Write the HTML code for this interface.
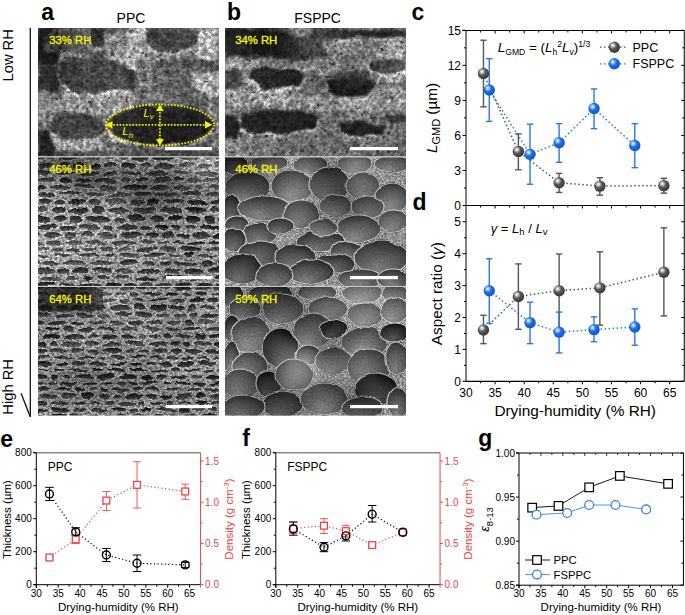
<!DOCTYPE html>
<html><head><meta charset="utf-8"><style>
html,body{margin:0;padding:0;background:#fff;width:685px;height:615px;overflow:hidden}
svg{display:block}
text{font-family:"Liberation Sans", sans-serif}
</style></head><body>
<svg width="685" height="615" viewBox="0 0 685 615">
<defs>
<filter id="txa1" x="0" y="0" width="1" height="1" color-interpolation-filters="sRGB"><feTurbulence type="fractalNoise" baseFrequency="0.05" numOctaves="2" seed="103" result="dn"/>
<feDisplacementMap in="SourceGraphic" in2="dn" scale="10" xChannelSelector="R" yChannelSelector="G" result="dd"/>
<feGaussianBlur in="dd" stdDeviation="0.5" result="b"/>
<feTurbulence type="fractalNoise" baseFrequency="0.3" numOctaves="4" seed="3" result="n"/>
<feColorMatrix in="n" type="matrix" values="1 0 0 0 0 1 0 0 0 0 1 0 0 0 0 0 0 0 0 1" result="ng"/>
<feComponentTransfer in="ng" result="nc"><feFuncR type="table" tableValues="0.2 0.36 0.5 0.64 0.8"/><feFuncG type="table" tableValues="0.2 0.36 0.5 0.64 0.8"/><feFuncB type="table" tableValues="0.2 0.36 0.5 0.64 0.8"/></feComponentTransfer>
<feComposite in="b" in2="nc" operator="arithmetic" k1="2.0" k2="0" k3="0" k4="0" result="m"/>
<feTurbulence type="fractalNoise" baseFrequency="0.7" numOctaves="1" seed="53" result="s"/>
<feColorMatrix in="s" type="matrix" values="1 0 0 0 0 1 0 0 0 0 1 0 0 0 0 0 0 0 0 1" result="sg"/>
<feComponentTransfer in="sg" result="sc"><feFuncR type="table" tableValues="0.3 0.75 1 1 1 1 1"/><feFuncG type="table" tableValues="0.3 0.75 1 1 1 1 1"/><feFuncB type="table" tableValues="0.3 0.75 1 1 1 1 1"/></feComponentTransfer>
<feComposite in="m" in2="sc" operator="arithmetic" k1="1" k2="0" k3="0" k4="0" result="m2"/>
<feTurbulence type="turbulence" baseFrequency="0.1" numOctaves="3" seed="203" result="l"/>
<feColorMatrix in="l" type="matrix" values="1 0 0 0 0 1 0 0 0 0 1 0 0 0 0 0 0 0 0 1" result="lg"/>
<feComponentTransfer in="lg" result="lc"><feFuncR type="table" tableValues="1 0.85 0.7 0.6 0.55 0.5"/><feFuncG type="table" tableValues="1 0.85 0.7 0.6 0.55 0.5"/><feFuncB type="table" tableValues="1 0.85 0.7 0.6 0.55 0.5"/></feComponentTransfer>
<feComposite in="m2" in2="lc" operator="arithmetic" k1="1.45" k2="0" k3="0" k4="0"/>
</filter>
<filter id="txa2" x="0" y="0" width="1" height="1" color-interpolation-filters="sRGB"><feTurbulence type="fractalNoise" baseFrequency="0.12" numOctaves="2" seed="105" result="dn"/>
<feDisplacementMap in="SourceGraphic" in2="dn" scale="4" xChannelSelector="R" yChannelSelector="G" result="dd"/>
<feGaussianBlur in="dd" stdDeviation="0.4" result="b"/>
<feTurbulence type="fractalNoise" baseFrequency="0.4" numOctaves="3" seed="5" result="n"/>
<feColorMatrix in="n" type="matrix" values="1 0 0 0 0 1 0 0 0 0 1 0 0 0 0 0 0 0 0 1" result="ng"/>
<feComponentTransfer in="ng" result="nc"><feFuncR type="table" tableValues="0.15 0.32 0.5 0.68 0.85"/><feFuncG type="table" tableValues="0.15 0.32 0.5 0.68 0.85"/><feFuncB type="table" tableValues="0.15 0.32 0.5 0.68 0.85"/></feComponentTransfer>
<feComposite in="b" in2="nc" operator="arithmetic" k1="2.0" k2="0" k3="0" k4="0" result="m"/>
<feTurbulence type="fractalNoise" baseFrequency="0.8" numOctaves="1" seed="55" result="s"/>
<feColorMatrix in="s" type="matrix" values="1 0 0 0 0 1 0 0 0 0 1 0 0 0 0 0 0 0 0 1" result="sg"/>
<feComponentTransfer in="sg" result="sc"><feFuncR type="table" tableValues="0.2 0.6 0.95 1 1 1 1"/><feFuncG type="table" tableValues="0.2 0.6 0.95 1 1 1 1"/><feFuncB type="table" tableValues="0.2 0.6 0.95 1 1 1 1"/></feComponentTransfer>
<feComposite in="m" in2="sc" operator="arithmetic" k1="1" k2="0" k3="0" k4="0" result="m2"/>
</filter>
<filter id="txa3" x="0" y="0" width="1" height="1" color-interpolation-filters="sRGB"><feTurbulence type="fractalNoise" baseFrequency="0.12" numOctaves="2" seed="107" result="dn"/>
<feDisplacementMap in="SourceGraphic" in2="dn" scale="4" xChannelSelector="R" yChannelSelector="G" result="dd"/>
<feGaussianBlur in="dd" stdDeviation="0.4" result="b"/>
<feTurbulence type="fractalNoise" baseFrequency="0.4" numOctaves="3" seed="7" result="n"/>
<feColorMatrix in="n" type="matrix" values="1 0 0 0 0 1 0 0 0 0 1 0 0 0 0 0 0 0 0 1" result="ng"/>
<feComponentTransfer in="ng" result="nc"><feFuncR type="table" tableValues="0.15 0.32 0.5 0.68 0.85"/><feFuncG type="table" tableValues="0.15 0.32 0.5 0.68 0.85"/><feFuncB type="table" tableValues="0.15 0.32 0.5 0.68 0.85"/></feComponentTransfer>
<feComposite in="b" in2="nc" operator="arithmetic" k1="2.0" k2="0" k3="0" k4="0" result="m"/>
<feTurbulence type="fractalNoise" baseFrequency="0.8" numOctaves="1" seed="57" result="s"/>
<feColorMatrix in="s" type="matrix" values="1 0 0 0 0 1 0 0 0 0 1 0 0 0 0 0 0 0 0 1" result="sg"/>
<feComponentTransfer in="sg" result="sc"><feFuncR type="table" tableValues="0.2 0.6 0.95 1 1 1 1"/><feFuncG type="table" tableValues="0.2 0.6 0.95 1 1 1 1"/><feFuncB type="table" tableValues="0.2 0.6 0.95 1 1 1 1"/></feComponentTransfer>
<feComposite in="m" in2="sc" operator="arithmetic" k1="1" k2="0" k3="0" k4="0" result="m2"/>
</filter>
<filter id="txb1" x="0" y="0" width="1" height="1" color-interpolation-filters="sRGB"><feTurbulence type="fractalNoise" baseFrequency="0.05" numOctaves="2" seed="109" result="dn"/>
<feDisplacementMap in="SourceGraphic" in2="dn" scale="10" xChannelSelector="R" yChannelSelector="G" result="dd"/>
<feGaussianBlur in="dd" stdDeviation="0.5" result="b"/>
<feTurbulence type="fractalNoise" baseFrequency="0.3" numOctaves="4" seed="9" result="n"/>
<feColorMatrix in="n" type="matrix" values="1 0 0 0 0 1 0 0 0 0 1 0 0 0 0 0 0 0 0 1" result="ng"/>
<feComponentTransfer in="ng" result="nc"><feFuncR type="table" tableValues="0.2 0.36 0.5 0.64 0.8"/><feFuncG type="table" tableValues="0.2 0.36 0.5 0.64 0.8"/><feFuncB type="table" tableValues="0.2 0.36 0.5 0.64 0.8"/></feComponentTransfer>
<feComposite in="b" in2="nc" operator="arithmetic" k1="2.0" k2="0" k3="0" k4="0" result="m"/>
<feTurbulence type="fractalNoise" baseFrequency="0.7" numOctaves="1" seed="59" result="s"/>
<feColorMatrix in="s" type="matrix" values="1 0 0 0 0 1 0 0 0 0 1 0 0 0 0 0 0 0 0 1" result="sg"/>
<feComponentTransfer in="sg" result="sc"><feFuncR type="table" tableValues="0.3 0.75 1 1 1 1 1"/><feFuncG type="table" tableValues="0.3 0.75 1 1 1 1 1"/><feFuncB type="table" tableValues="0.3 0.75 1 1 1 1 1"/></feComponentTransfer>
<feComposite in="m" in2="sc" operator="arithmetic" k1="1" k2="0" k3="0" k4="0" result="m2"/>
<feTurbulence type="turbulence" baseFrequency="0.1" numOctaves="3" seed="209" result="l"/>
<feColorMatrix in="l" type="matrix" values="1 0 0 0 0 1 0 0 0 0 1 0 0 0 0 0 0 0 0 1" result="lg"/>
<feComponentTransfer in="lg" result="lc"><feFuncR type="table" tableValues="1 0.85 0.7 0.6 0.55 0.5"/><feFuncG type="table" tableValues="1 0.85 0.7 0.6 0.55 0.5"/><feFuncB type="table" tableValues="1 0.85 0.7 0.6 0.55 0.5"/></feComponentTransfer>
<feComposite in="m2" in2="lc" operator="arithmetic" k1="1.45" k2="0" k3="0" k4="0"/>
</filter>
<filter id="txb2" x="0" y="0" width="1" height="1" color-interpolation-filters="sRGB">
<feGaussianBlur in="SourceGraphic" stdDeviation="0.6" result="b"/>
<feTurbulence type="fractalNoise" baseFrequency="0.45" numOctaves="2" seed="13" result="n"/>
<feColorMatrix in="n" type="matrix" values="1 0 0 0 0 1 0 0 0 0 1 0 0 0 0 0 0 0 0 1" result="ng"/>
<feComponentTransfer in="ng" result="nc"><feFuncR type="table" tableValues="0.2 0.35 0.5 0.65 0.8"/><feFuncG type="table" tableValues="0.2 0.35 0.5 0.65 0.8"/><feFuncB type="table" tableValues="0.2 0.35 0.5 0.65 0.8"/></feComponentTransfer>
<feComposite in="b" in2="nc" operator="arithmetic" k1="2.0" k2="0" k3="0" k4="0" result="m"/>
<feTurbulence type="fractalNoise" baseFrequency="0.8" numOctaves="1" seed="63" result="s"/>
<feColorMatrix in="s" type="matrix" values="1 0 0 0 0 1 0 0 0 0 1 0 0 0 0 0 0 0 0 1" result="sg"/>
<feComponentTransfer in="sg" result="sc"><feFuncR type="table" tableValues="0.1 0.45 0.85 1 1 1 1"/><feFuncG type="table" tableValues="0.1 0.45 0.85 1 1 1 1"/><feFuncB type="table" tableValues="0.1 0.45 0.85 1 1 1 1"/></feComponentTransfer>
<feComposite in="m" in2="sc" operator="arithmetic" k1="1" k2="0" k3="0" k4="0" result="m2"/>
</filter>
<filter id="txcb2" x="0" y="0" width="1" height="1" color-interpolation-filters="sRGB"><feTurbulence type="fractalNoise" baseFrequency="0.06" numOctaves="2" seed="121" result="dn"/>
<feDisplacementMap in="SourceGraphic" in2="dn" scale="4" xChannelSelector="R" yChannelSelector="G" result="dd"/>
<feGaussianBlur in="dd" stdDeviation="0.3" result="b"/>
<feTurbulence type="fractalNoise" baseFrequency="0.5" numOctaves="2" seed="21" result="n"/>
<feColorMatrix in="n" type="matrix" values="1 0 0 0 0 1 0 0 0 0 1 0 0 0 0 0 0 0 0 1" result="ng"/>
<feComponentTransfer in="ng" result="nc"><feFuncR type="table" tableValues="0.38 0.45 0.5 0.55 0.62"/><feFuncG type="table" tableValues="0.38 0.45 0.5 0.55 0.62"/><feFuncB type="table" tableValues="0.38 0.45 0.5 0.55 0.62"/></feComponentTransfer>
<feComposite in="b" in2="nc" operator="arithmetic" k1="2.0" k2="0" k3="0" k4="0" result="m"/>
<feTurbulence type="fractalNoise" baseFrequency="0.9" numOctaves="1" seed="71" result="s"/>
<feColorMatrix in="s" type="matrix" values="1 0 0 0 0 1 0 0 0 0 1 0 0 0 0 0 0 0 0 1" result="sg"/>
<feComponentTransfer in="sg" result="sc"><feFuncR type="table" tableValues="0.3 0.8 1 1 1 1 1 1"/><feFuncG type="table" tableValues="0.3 0.8 1 1 1 1 1 1"/><feFuncB type="table" tableValues="0.3 0.8 1 1 1 1 1 1"/></feComponentTransfer>
<feComposite in="m" in2="sc" operator="arithmetic" k1="1" k2="0" k3="0" k4="0" result="m2"/>
</filter>
<filter id="txcb3" x="0" y="0" width="1" height="1" color-interpolation-filters="sRGB"><feTurbulence type="fractalNoise" baseFrequency="0.06" numOctaves="2" seed="123" result="dn"/>
<feDisplacementMap in="SourceGraphic" in2="dn" scale="4" xChannelSelector="R" yChannelSelector="G" result="dd"/>
<feGaussianBlur in="dd" stdDeviation="0.3" result="b"/>
<feTurbulence type="fractalNoise" baseFrequency="0.5" numOctaves="2" seed="23" result="n"/>
<feColorMatrix in="n" type="matrix" values="1 0 0 0 0 1 0 0 0 0 1 0 0 0 0 0 0 0 0 1" result="ng"/>
<feComponentTransfer in="ng" result="nc"><feFuncR type="table" tableValues="0.38 0.45 0.5 0.55 0.62"/><feFuncG type="table" tableValues="0.38 0.45 0.5 0.55 0.62"/><feFuncB type="table" tableValues="0.38 0.45 0.5 0.55 0.62"/></feComponentTransfer>
<feComposite in="b" in2="nc" operator="arithmetic" k1="2.0" k2="0" k3="0" k4="0" result="m"/>
<feTurbulence type="fractalNoise" baseFrequency="0.9" numOctaves="1" seed="73" result="s"/>
<feColorMatrix in="s" type="matrix" values="1 0 0 0 0 1 0 0 0 0 1 0 0 0 0 0 0 0 0 1" result="sg"/>
<feComponentTransfer in="sg" result="sc"><feFuncR type="table" tableValues="0.3 0.8 1 1 1 1 1 1"/><feFuncG type="table" tableValues="0.3 0.8 1 1 1 1 1 1"/><feFuncB type="table" tableValues="0.3 0.8 1 1 1 1 1 1"/></feComponentTransfer>
<feComposite in="m" in2="sc" operator="arithmetic" k1="1" k2="0" k3="0" k4="0" result="m2"/>
</filter>
<filter id="txb3" x="0" y="0" width="1" height="1" color-interpolation-filters="sRGB">
<feGaussianBlur in="SourceGraphic" stdDeviation="0.6" result="b"/>
<feTurbulence type="fractalNoise" baseFrequency="0.45" numOctaves="2" seed="17" result="n"/>
<feColorMatrix in="n" type="matrix" values="1 0 0 0 0 1 0 0 0 0 1 0 0 0 0 0 0 0 0 1" result="ng"/>
<feComponentTransfer in="ng" result="nc"><feFuncR type="table" tableValues="0.2 0.35 0.5 0.65 0.8"/><feFuncG type="table" tableValues="0.2 0.35 0.5 0.65 0.8"/><feFuncB type="table" tableValues="0.2 0.35 0.5 0.65 0.8"/></feComponentTransfer>
<feComposite in="b" in2="nc" operator="arithmetic" k1="2.0" k2="0" k3="0" k4="0" result="m"/>
<feTurbulence type="fractalNoise" baseFrequency="0.8" numOctaves="1" seed="67" result="s"/>
<feColorMatrix in="s" type="matrix" values="1 0 0 0 0 1 0 0 0 0 1 0 0 0 0 0 0 0 0 1" result="sg"/>
<feComponentTransfer in="sg" result="sc"><feFuncR type="table" tableValues="0.1 0.45 0.85 1 1 1 1"/><feFuncG type="table" tableValues="0.1 0.45 0.85 1 1 1 1"/><feFuncB type="table" tableValues="0.1 0.45 0.85 1 1 1 1"/></feComponentTransfer>
<feComposite in="m" in2="sc" operator="arithmetic" k1="1" k2="0" k3="0" k4="0" result="m2"/>
</filter>
<filter id="bl1" x="-50%" y="-50%" width="200%" height="200%"><feGaussianBlur stdDeviation="0.8"/></filter>
<filter id="bl2" x="-50%" y="-50%" width="200%" height="200%"><feGaussianBlur stdDeviation="1.6"/></filter>
<filter id="bl3" x="-50%" y="-50%" width="200%" height="200%"><feGaussianBlur stdDeviation="3.0"/></filter>
<filter id="bl4" x="-50%" y="-50%" width="200%" height="200%"><feGaussianBlur stdDeviation="9.0"/></filter>
<filter id="bl6" x="-50%" y="-50%" width="200%" height="200%"><feGaussianBlur stdDeviation="6"/></filter>
<radialGradient id="cg30" cx="0.45" cy="0.7" r="0.75" fx="0.4" fy="0.85"><stop offset="0" stop-color="#555555"/><stop offset="0.6" stop-color="#232323"/><stop offset="1" stop-color="#000000"/></radialGradient>
<linearGradient id="ag30" x1="0" y1="0" x2="0" y2="1"><stop offset="0" stop-color="#000000"/><stop offset="0.55" stop-color="#1e1e1e"/><stop offset="1" stop-color="#4b4b4b"/></linearGradient>
<radialGradient id="cg40" cx="0.45" cy="0.7" r="0.75" fx="0.4" fy="0.85"><stop offset="0" stop-color="#5f5f5f"/><stop offset="0.6" stop-color="#2d2d2d"/><stop offset="1" stop-color="#000000"/></radialGradient>
<linearGradient id="ag40" x1="0" y1="0" x2="0" y2="1"><stop offset="0" stop-color="#050505"/><stop offset="0.55" stop-color="#282828"/><stop offset="1" stop-color="#555555"/></linearGradient>
<radialGradient id="cg50" cx="0.45" cy="0.7" r="0.75" fx="0.4" fy="0.85"><stop offset="0" stop-color="#696969"/><stop offset="0.6" stop-color="#373737"/><stop offset="1" stop-color="#0a0a0a"/></radialGradient>
<linearGradient id="ag50" x1="0" y1="0" x2="0" y2="1"><stop offset="0" stop-color="#0f0f0f"/><stop offset="0.55" stop-color="#323232"/><stop offset="1" stop-color="#5f5f5f"/></linearGradient>
<radialGradient id="cg60" cx="0.45" cy="0.7" r="0.75" fx="0.4" fy="0.85"><stop offset="0" stop-color="#737373"/><stop offset="0.6" stop-color="#414141"/><stop offset="1" stop-color="#141414"/></radialGradient>
<linearGradient id="ag60" x1="0" y1="0" x2="0" y2="1"><stop offset="0" stop-color="#191919"/><stop offset="0.55" stop-color="#3c3c3c"/><stop offset="1" stop-color="#696969"/></linearGradient>
<radialGradient id="cg70" cx="0.45" cy="0.7" r="0.75" fx="0.4" fy="0.85"><stop offset="0" stop-color="#7d7d7d"/><stop offset="0.6" stop-color="#4b4b4b"/><stop offset="1" stop-color="#1e1e1e"/></radialGradient>
<linearGradient id="ag70" x1="0" y1="0" x2="0" y2="1"><stop offset="0" stop-color="#232323"/><stop offset="0.55" stop-color="#464646"/><stop offset="1" stop-color="#737373"/></linearGradient>
<radialGradient id="cg80" cx="0.45" cy="0.7" r="0.75" fx="0.4" fy="0.85"><stop offset="0" stop-color="#878787"/><stop offset="0.6" stop-color="#555555"/><stop offset="1" stop-color="#282828"/></radialGradient>
<linearGradient id="ag80" x1="0" y1="0" x2="0" y2="1"><stop offset="0" stop-color="#2d2d2d"/><stop offset="0.55" stop-color="#505050"/><stop offset="1" stop-color="#7d7d7d"/></linearGradient>
<radialGradient id="cg90" cx="0.45" cy="0.7" r="0.75" fx="0.4" fy="0.85"><stop offset="0" stop-color="#919191"/><stop offset="0.6" stop-color="#5f5f5f"/><stop offset="1" stop-color="#323232"/></radialGradient>
<linearGradient id="ag90" x1="0" y1="0" x2="0" y2="1"><stop offset="0" stop-color="#373737"/><stop offset="0.55" stop-color="#5a5a5a"/><stop offset="1" stop-color="#878787"/></linearGradient>
<radialGradient id="cg100" cx="0.45" cy="0.7" r="0.75" fx="0.4" fy="0.85"><stop offset="0" stop-color="#9b9b9b"/><stop offset="0.6" stop-color="#696969"/><stop offset="1" stop-color="#3c3c3c"/></radialGradient>
<linearGradient id="ag100" x1="0" y1="0" x2="0" y2="1"><stop offset="0" stop-color="#414141"/><stop offset="0.55" stop-color="#646464"/><stop offset="1" stop-color="#919191"/></linearGradient>
<radialGradient id="cg110" cx="0.45" cy="0.7" r="0.75" fx="0.4" fy="0.85"><stop offset="0" stop-color="#a5a5a5"/><stop offset="0.6" stop-color="#737373"/><stop offset="1" stop-color="#464646"/></radialGradient>
<linearGradient id="ag110" x1="0" y1="0" x2="0" y2="1"><stop offset="0" stop-color="#4b4b4b"/><stop offset="0.55" stop-color="#6e6e6e"/><stop offset="1" stop-color="#9b9b9b"/></linearGradient>
<radialGradient id="cg120" cx="0.45" cy="0.7" r="0.75" fx="0.4" fy="0.85"><stop offset="0" stop-color="#afafaf"/><stop offset="0.6" stop-color="#7d7d7d"/><stop offset="1" stop-color="#505050"/></radialGradient>
<linearGradient id="ag120" x1="0" y1="0" x2="0" y2="1"><stop offset="0" stop-color="#555555"/><stop offset="0.55" stop-color="#787878"/><stop offset="1" stop-color="#a5a5a5"/></linearGradient>
<radialGradient id="cg130" cx="0.45" cy="0.7" r="0.75" fx="0.4" fy="0.85"><stop offset="0" stop-color="#b9b9b9"/><stop offset="0.6" stop-color="#878787"/><stop offset="1" stop-color="#5a5a5a"/></radialGradient>
<linearGradient id="ag130" x1="0" y1="0" x2="0" y2="1"><stop offset="0" stop-color="#5f5f5f"/><stop offset="0.55" stop-color="#828282"/><stop offset="1" stop-color="#afafaf"/></linearGradient>
<radialGradient id="cg140" cx="0.45" cy="0.7" r="0.75" fx="0.4" fy="0.85"><stop offset="0" stop-color="#c3c3c3"/><stop offset="0.6" stop-color="#919191"/><stop offset="1" stop-color="#646464"/></radialGradient>
<linearGradient id="ag140" x1="0" y1="0" x2="0" y2="1"><stop offset="0" stop-color="#696969"/><stop offset="0.55" stop-color="#8c8c8c"/><stop offset="1" stop-color="#b9b9b9"/></linearGradient>
<radialGradient id="cg150" cx="0.45" cy="0.7" r="0.75" fx="0.4" fy="0.85"><stop offset="0" stop-color="#cdcdcd"/><stop offset="0.6" stop-color="#9b9b9b"/><stop offset="1" stop-color="#6e6e6e"/></radialGradient>
<linearGradient id="ag150" x1="0" y1="0" x2="0" y2="1"><stop offset="0" stop-color="#737373"/><stop offset="0.55" stop-color="#969696"/><stop offset="1" stop-color="#c3c3c3"/></linearGradient>
<clipPath id="cpa1"><rect x="38" y="28" width="181" height="128.5"/></clipPath>
<clipPath id="cpa2"><rect x="38" y="157" width="181" height="129"/></clipPath>
<clipPath id="cpa3"><rect x="38" y="286.5" width="181" height="129"/></clipPath>
<clipPath id="cpb1"><rect x="225" y="28" width="181" height="128.5"/></clipPath>
<clipPath id="cpb2"><rect x="225" y="157" width="181" height="129"/></clipPath>
<clipPath id="cpb3"><rect x="225" y="286.5" width="181" height="129"/></clipPath>
</defs>
<g clip-path="url(#cpa1)"><g filter="url(#txa1)">
<rect x="28.0" y="18.0" width="201.0" height="149.0" fill="#696969"/>
<polygon points="128.0,28.0 147.0,28.0 148.0,44.0 160.0,51.0 188.0,52.0 192.0,58.0 165.0,60.0 150.0,62.0 140.0,72.0 128.0,68.0 104.0,67.0 104.0,38.0 118.0,30.0" fill="#acacac" filter="url(#bl1)"/>
<polygon points="192.0,28.0 219.0,28.0 219.0,58.0 200.0,60.0 192.0,52.0 197.0,44.0" fill="#afafaf" filter="url(#bl1)"/>
<polygon points="58.0,50.0 80.0,52.0 90.0,58.0 82.0,62.0 62.0,63.0 56.0,58.0" fill="#a5a5a5" filter="url(#bl1)"/>
<polygon points="62.0,92.0 100.0,92.0 112.0,98.0 104.0,112.0 90.0,116.0 70.0,114.0 58.0,108.0" fill="#a0a0a0" filter="url(#bl1)"/>
<polygon points="100.0,92.0 140.0,92.0 150.0,100.0 130.0,104.0 112.0,106.0" fill="#969696" filter="url(#bl1)"/>
<polygon points="51.0,137.0 70.0,141.0 93.0,139.0 106.0,144.0 106.0,150.0 80.0,152.0 54.0,150.0" fill="#a0a0a0" filter="url(#bl1)"/>
<polygon points="192.0,73.0 219.0,70.0 219.0,95.0 205.0,98.0 195.0,88.0" fill="#acacac" filter="url(#bl1)"/>
<polygon points="205.0,100.0 219.0,100.0 219.0,150.0 212.0,146.0 214.0,125.0" fill="#8c8c8c" filter="url(#bl1)"/>
<polygon points="38.0,92.0 62.0,92.0 58.0,108.0 54.0,125.0 38.0,130.0" fill="#7d7d7d" filter="url(#bl1)"/>
<polygon points="136.0,59.0 152.0,56.0 152.0,93.0 136.0,93.0" fill="#707070" filter="url(#bl1)"/>
<polygon points="104.0,100.0 120.0,102.0 140.0,104.0 120.0,112.0 108.0,118.0 104.0,112.0" fill="#969696" filter="url(#bl1)"/>
<ellipse cx="60.0" cy="79.0" rx="4.0" ry="4.0" fill="#b9b9b9" filter="url(#bl1)"/>
<polygon points="147.0,48.0 192.0,50.0 192.0,57.0 150.0,58.0" fill="#8a8a8a" filter="url(#bl1)"/>
<polygon points="46.0,33.0 101.0,33.0 101.0,50.0 80.0,52.0 56.0,50.0 46.0,44.0" fill="#5c5c5c" filter="url(#bl1)"/>
<polygon points="38.0,28.0 55.0,28.0 54.0,33.0 46.0,36.0 43.0,44.0 46.0,52.0 58.0,50.0 59.0,58.0 54.0,65.0 38.0,67.0" fill="#2a2a2a" filter="url(#bl1)"/>
<polygon points="88.0,30.2 106.0,30.2 104.0,40.2 104.0,50.2 92.0,50.2 88.0,42.2" fill="#c8c8c8" stroke="#c8c8c8" stroke-width="1.6" filter="url(#bl1)"/><polygon points="88.0,28.0 106.0,28.0 104.0,38.0 104.0,48.0 92.0,48.0 88.0,40.0" fill="#373737" filter="url(#bl1)"/>
<polygon points="60.0,67.2 71.0,59.2 93.0,58.2 112.0,63.2 128.0,68.2 134.0,82.2 130.0,94.2 100.0,94.2 71.0,94.2 59.0,85.2" fill="#c8c8c8" stroke="#c8c8c8" stroke-width="1.6" filter="url(#bl1)"/><polygon points="60.0,65.0 71.0,57.0 93.0,56.0 112.0,61.0 128.0,66.0 134.0,80.0 130.0,92.0 100.0,92.0 71.0,92.0 59.0,83.0" fill="#424242" filter="url(#bl1)"/>
<polygon points="38.0,67.0 58.0,67.0 59.0,83.0 58.0,92.0 38.0,92.0" fill="#323232" filter="url(#bl1)"/>
<polygon points="145.0,30.2 198.0,30.2 197.0,46.2 188.0,54.2 161.0,53.2 148.0,46.2" fill="#c8c8c8" stroke="#c8c8c8" stroke-width="1.6" filter="url(#bl1)"/><polygon points="145.0,28.0 198.0,28.0 197.0,44.0 188.0,52.0 161.0,51.0 148.0,44.0" fill="#484848" filter="url(#bl1)"/>
<polygon points="152.0,60.0 192.0,58.0 219.0,60.0 219.0,70.0 192.0,73.0 195.0,88.0 205.0,98.0 180.0,100.0 152.0,96.0" fill="#585858" filter="url(#bl1)"/>
<polygon points="128.0,68.0 136.0,70.0 136.0,92.0 128.0,92.0" fill="#262626" filter="url(#bl1)"/>
<polygon points="55.0,118.2 77.0,114.2 101.0,120.2 104.0,133.2 93.0,141.2 64.0,143.2 51.0,133.2" fill="#c8c8c8" stroke="#c8c8c8" stroke-width="1.6" filter="url(#bl1)"/><polygon points="55.0,116.0 77.0,112.0 101.0,118.0 104.0,131.0 93.0,139.0 64.0,141.0 51.0,131.0" fill="#484848" filter="url(#bl1)"/>
<polygon points="38.0,131.0 51.0,131.0 54.0,145.0 54.0,157.0 38.0,157.0" fill="#282828" filter="url(#bl1)"/>
<polygon points="54.0,150.0 128.0,150.0 150.0,148.0 219.0,150.0 219.0,157.0 54.0,157.0" fill="#5f5f5f" filter="url(#bl1)"/>
<ellipse cx="160.0" cy="127.0" rx="55.0" ry="21.5" fill="#c3c3c3" filter="url(#bl1)"/>
<ellipse cx="160.0" cy="125.0" rx="54.0" ry="20.5" fill="#2a2a2a" filter="url(#bl1)"/>
<polygon points="128.0,92.0 205.0,92.0 212.0,100.0 170.0,103.0 140.0,104.0" fill="#6c6c6c" filter="url(#bl1)"/>
<ellipse cx="143.2" cy="53.1" rx="2.2" ry="1.3" fill="#222" opacity="0.59"/>
<ellipse cx="158.1" cy="55.7" rx="1.1" ry="0.8" fill="#222" opacity="0.68"/>
<ellipse cx="76.4" cy="153.3" rx="0.9" ry="0.8" fill="#222" opacity="0.44"/>
<ellipse cx="177.4" cy="75.3" rx="1.5" ry="0.9" fill="#222" opacity="0.65"/>
<ellipse cx="111.1" cy="54.9" rx="1.4" ry="0.8" fill="#222" opacity="0.44"/>
<ellipse cx="187.0" cy="115.7" rx="1.7" ry="1.3" fill="#222" opacity="0.56"/>
<ellipse cx="106.6" cy="82.6" rx="1.4" ry="1.1" fill="#222" opacity="0.40"/>
<ellipse cx="122.0" cy="97.0" rx="1.3" ry="0.6" fill="#222" opacity="0.68"/>
<ellipse cx="39.7" cy="100.8" rx="1.0" ry="0.6" fill="#222" opacity="0.47"/>
<ellipse cx="49.9" cy="47.4" rx="1.8" ry="1.2" fill="#222" opacity="0.55"/>
<ellipse cx="156.1" cy="89.3" rx="1.5" ry="1.3" fill="#222" opacity="0.52"/>
<ellipse cx="195.5" cy="117.1" rx="1.8" ry="0.6" fill="#222" opacity="0.43"/>
<ellipse cx="43.8" cy="72.6" rx="2.1" ry="1.3" fill="#222" opacity="0.74"/>
<ellipse cx="59.5" cy="119.0" rx="1.9" ry="1.2" fill="#222" opacity="0.72"/>
<ellipse cx="63.4" cy="51.1" rx="1.9" ry="1.2" fill="#222" opacity="0.76"/>
<ellipse cx="118.8" cy="142.8" rx="1.0" ry="1.4" fill="#222" opacity="0.75"/>
<ellipse cx="99.1" cy="36.7" rx="1.6" ry="1.2" fill="#222" opacity="0.54"/>
<ellipse cx="48.4" cy="63.9" rx="2.0" ry="0.7" fill="#222" opacity="0.77"/>
<ellipse cx="83.3" cy="54.4" rx="1.0" ry="1.4" fill="#222" opacity="0.76"/>
<ellipse cx="95.8" cy="40.3" rx="1.7" ry="1.3" fill="#222" opacity="0.40"/>
<ellipse cx="152.6" cy="138.5" rx="1.4" ry="1.1" fill="#222" opacity="0.72"/>
<ellipse cx="81.2" cy="63.2" rx="1.7" ry="1.0" fill="#222" opacity="0.61"/>
<ellipse cx="98.5" cy="148.9" rx="1.2" ry="1.1" fill="#222" opacity="0.76"/>
<ellipse cx="110.5" cy="35.0" rx="1.1" ry="0.7" fill="#222" opacity="0.46"/>
<ellipse cx="59.8" cy="72.2" rx="1.3" ry="1.0" fill="#222" opacity="0.67"/>
<ellipse cx="160.5" cy="116.7" rx="1.3" ry="1.1" fill="#222" opacity="0.62"/>
<ellipse cx="61.1" cy="98.4" rx="1.2" ry="1.1" fill="#222" opacity="0.69"/>
<ellipse cx="81.6" cy="84.1" rx="1.4" ry="0.8" fill="#222" opacity="0.42"/>
<ellipse cx="47.0" cy="156.1" rx="1.8" ry="1.0" fill="#222" opacity="0.67"/>
<ellipse cx="86.7" cy="119.6" rx="2.1" ry="1.2" fill="#222" opacity="0.59"/>
<ellipse cx="216.0" cy="147.0" rx="0.9" ry="0.9" fill="#222" opacity="0.58"/>
<ellipse cx="87.6" cy="107.5" rx="1.0" ry="1.2" fill="#222" opacity="0.74"/>
<ellipse cx="49.1" cy="117.3" rx="1.2" ry="1.1" fill="#222" opacity="0.68"/>
<ellipse cx="214.8" cy="131.0" rx="1.3" ry="1.2" fill="#222" opacity="0.46"/>
<ellipse cx="167.2" cy="81.8" rx="1.2" ry="0.8" fill="#222" opacity="0.49"/>
<ellipse cx="182.1" cy="40.4" rx="1.1" ry="0.8" fill="#222" opacity="0.46"/>
<ellipse cx="170.1" cy="103.8" rx="1.7" ry="1.3" fill="#222" opacity="0.58"/>
<ellipse cx="44.8" cy="52.4" rx="1.5" ry="1.2" fill="#222" opacity="0.77"/>
<ellipse cx="130.5" cy="57.3" rx="1.6" ry="1.3" fill="#222" opacity="0.53"/>
<ellipse cx="206.5" cy="144.6" rx="1.6" ry="1.0" fill="#222" opacity="0.45"/>
<ellipse cx="58.0" cy="33.3" rx="1.7" ry="1.2" fill="#222" opacity="0.80"/>
<ellipse cx="147.0" cy="156.2" rx="1.4" ry="0.7" fill="#222" opacity="0.42"/>
<ellipse cx="90.2" cy="96.5" rx="2.2" ry="0.8" fill="#222" opacity="0.49"/>
<ellipse cx="168.9" cy="78.1" rx="1.6" ry="0.7" fill="#222" opacity="0.74"/>
<ellipse cx="204.4" cy="125.4" rx="2.1" ry="0.9" fill="#222" opacity="0.41"/>
<ellipse cx="93.2" cy="143.8" rx="1.5" ry="0.8" fill="#222" opacity="0.46"/>
<ellipse cx="67.7" cy="84.6" rx="2.1" ry="1.3" fill="#222" opacity="0.70"/>
<ellipse cx="174.9" cy="52.6" rx="1.9" ry="0.8" fill="#222" opacity="0.61"/>
<ellipse cx="44.1" cy="143.1" rx="1.0" ry="1.1" fill="#222" opacity="0.66"/>
<ellipse cx="154.6" cy="116.0" rx="1.3" ry="1.2" fill="#222" opacity="0.78"/>
<ellipse cx="149.7" cy="154.4" rx="2.0" ry="0.6" fill="#222" opacity="0.67"/>
<ellipse cx="54.6" cy="113.3" rx="1.3" ry="1.3" fill="#222" opacity="0.42"/>
<ellipse cx="209.3" cy="33.6" rx="0.9" ry="0.6" fill="#222" opacity="0.45"/>
<ellipse cx="216.5" cy="135.7" rx="2.1" ry="0.7" fill="#222" opacity="0.68"/>
<ellipse cx="181.9" cy="121.8" rx="1.2" ry="1.4" fill="#222" opacity="0.69"/>
<ellipse cx="161.9" cy="64.7" rx="1.4" ry="1.2" fill="#222" opacity="0.61"/>
<ellipse cx="126.3" cy="146.6" rx="1.4" ry="1.3" fill="#222" opacity="0.42"/>
<ellipse cx="134.0" cy="120.0" rx="0.8" ry="1.2" fill="#222" opacity="0.51"/>
<ellipse cx="151.2" cy="108.4" rx="1.0" ry="1.4" fill="#222" opacity="0.50"/>
<ellipse cx="62.7" cy="85.1" rx="0.9" ry="0.7" fill="#222" opacity="0.70"/>
<ellipse cx="55.7" cy="97.8" rx="2.0" ry="1.0" fill="#222" opacity="0.73"/>
<ellipse cx="188.3" cy="49.2" rx="0.9" ry="1.2" fill="#222" opacity="0.75"/>
<ellipse cx="192.4" cy="120.1" rx="1.5" ry="1.4" fill="#222" opacity="0.70"/>
<ellipse cx="176.1" cy="145.6" rx="0.9" ry="1.2" fill="#222" opacity="0.63"/>
<ellipse cx="40.3" cy="60.9" rx="1.8" ry="1.0" fill="#222" opacity="0.62"/>
<ellipse cx="90.0" cy="101.1" rx="2.0" ry="1.4" fill="#222" opacity="0.62"/>
<ellipse cx="170.4" cy="39.3" rx="1.0" ry="1.0" fill="#222" opacity="0.73"/>
<ellipse cx="59.6" cy="47.0" rx="1.5" ry="0.8" fill="#222" opacity="0.46"/>
<ellipse cx="66.7" cy="82.8" rx="1.9" ry="0.7" fill="#222" opacity="0.72"/>
<ellipse cx="51.5" cy="60.4" rx="1.7" ry="0.6" fill="#222" opacity="0.53"/>
<ellipse cx="66.0" cy="57.7" rx="2.0" ry="0.7" fill="#222" opacity="0.69"/>
<ellipse cx="202.7" cy="59.7" rx="2.0" ry="0.9" fill="#222" opacity="0.71"/>
<ellipse cx="143.1" cy="73.2" rx="2.0" ry="1.2" fill="#222" opacity="0.53"/>
<ellipse cx="141.8" cy="66.0" rx="1.2" ry="1.4" fill="#222" opacity="0.79"/>
<ellipse cx="66.6" cy="146.2" rx="1.8" ry="0.6" fill="#222" opacity="0.44"/>
<ellipse cx="116.9" cy="142.5" rx="2.0" ry="0.8" fill="#222" opacity="0.58"/>
<ellipse cx="205.5" cy="55.0" rx="0.9" ry="0.9" fill="#222" opacity="0.67"/>
<ellipse cx="196.0" cy="141.1" rx="0.8" ry="0.7" fill="#222" opacity="0.45"/>
<ellipse cx="145.8" cy="80.3" rx="2.1" ry="1.1" fill="#222" opacity="0.65"/>
<ellipse cx="162.3" cy="54.4" rx="2.1" ry="1.3" fill="#222" opacity="0.73"/>
<ellipse cx="179.6" cy="50.3" rx="0.9" ry="0.9" fill="#222" opacity="0.69"/>
<ellipse cx="74.3" cy="140.1" rx="2.0" ry="1.2" fill="#222" opacity="0.59"/>
<ellipse cx="65.2" cy="132.4" rx="1.0" ry="1.0" fill="#222" opacity="0.70"/>
<ellipse cx="153.0" cy="58.4" rx="2.0" ry="0.9" fill="#222" opacity="0.57"/>
<ellipse cx="117.4" cy="118.5" rx="0.9" ry="1.1" fill="#222" opacity="0.60"/>
<ellipse cx="182.9" cy="75.2" rx="1.6" ry="1.4" fill="#222" opacity="0.42"/>
<ellipse cx="181.4" cy="88.4" rx="1.2" ry="0.8" fill="#222" opacity="0.49"/>
<ellipse cx="190.6" cy="54.1" rx="2.1" ry="1.0" fill="#222" opacity="0.51"/>
<ellipse cx="179.7" cy="103.0" rx="2.0" ry="0.7" fill="#222" opacity="0.68"/>
<ellipse cx="43.0" cy="51.7" rx="1.4" ry="0.9" fill="#222" opacity="0.51"/>
<ellipse cx="141.0" cy="124.3" rx="1.4" ry="1.0" fill="#222" opacity="0.71"/>
<ellipse cx="78.9" cy="156.7" rx="0.8" ry="0.9" fill="#222" opacity="0.73"/>
<ellipse cx="80.6" cy="70.7" rx="1.0" ry="1.4" fill="#222" opacity="0.75"/>
<ellipse cx="52.7" cy="97.5" rx="1.0" ry="0.6" fill="#222" opacity="0.49"/>
<ellipse cx="165.2" cy="96.2" rx="1.2" ry="1.1" fill="#222" opacity="0.43"/>
<ellipse cx="100.0" cy="40.7" rx="2.0" ry="0.9" fill="#222" opacity="0.69"/>
<ellipse cx="98.7" cy="81.6" rx="1.6" ry="0.8" fill="#222" opacity="0.62"/>
<ellipse cx="177.8" cy="37.5" rx="1.1" ry="0.6" fill="#222" opacity="0.60"/>
<ellipse cx="57.9" cy="95.2" rx="1.0" ry="1.0" fill="#222" opacity="0.51"/>
<ellipse cx="173.6" cy="133.2" rx="2.1" ry="1.0" fill="#222" opacity="0.76"/>
<ellipse cx="194.0" cy="71.3" rx="2.2" ry="1.4" fill="#222" opacity="0.46"/>
<ellipse cx="174.1" cy="116.7" rx="1.7" ry="1.2" fill="#222" opacity="0.51"/>
<ellipse cx="189.0" cy="121.1" rx="1.1" ry="1.4" fill="#222" opacity="0.69"/>
<ellipse cx="48.1" cy="32.2" rx="1.0" ry="1.1" fill="#222" opacity="0.69"/>
<ellipse cx="206.6" cy="142.0" rx="1.1" ry="0.8" fill="#222" opacity="0.43"/>
<ellipse cx="108.6" cy="82.6" rx="1.3" ry="1.3" fill="#222" opacity="0.65"/>
<ellipse cx="183.5" cy="139.3" rx="1.9" ry="1.0" fill="#222" opacity="0.56"/>
<ellipse cx="135.0" cy="87.3" rx="1.7" ry="1.3" fill="#222" opacity="0.67"/>
<ellipse cx="84.0" cy="100.8" rx="1.4" ry="0.7" fill="#222" opacity="0.44"/>
<ellipse cx="119.6" cy="149.4" rx="1.8" ry="0.6" fill="#222" opacity="0.77"/>
<ellipse cx="169.2" cy="105.9" rx="0.8" ry="0.8" fill="#222" opacity="0.53"/>
<ellipse cx="125.3" cy="43.8" rx="1.7" ry="1.1" fill="#222" opacity="0.66"/>
<ellipse cx="127.5" cy="99.9" rx="1.0" ry="1.3" fill="#222" opacity="0.75"/>
<ellipse cx="192.1" cy="127.0" rx="1.1" ry="0.8" fill="#222" opacity="0.42"/>
<ellipse cx="180.2" cy="138.9" rx="2.1" ry="1.1" fill="#222" opacity="0.72"/>
<ellipse cx="191.0" cy="43.6" rx="0.9" ry="1.3" fill="#222" opacity="0.79"/>
<ellipse cx="167.6" cy="107.9" rx="1.4" ry="1.3" fill="#222" opacity="0.51"/>
<ellipse cx="47.8" cy="131.7" rx="0.9" ry="1.2" fill="#222" opacity="0.66"/>
<ellipse cx="58.0" cy="84.3" rx="1.2" ry="1.2" fill="#222" opacity="0.71"/>
<ellipse cx="97.6" cy="47.9" rx="1.3" ry="1.0" fill="#222" opacity="0.64"/>
<ellipse cx="209.6" cy="69.4" rx="1.0" ry="1.1" fill="#222" opacity="0.57"/>
<ellipse cx="172.1" cy="113.4" rx="1.6" ry="1.3" fill="#222" opacity="0.48"/>
<ellipse cx="179.7" cy="51.6" rx="1.5" ry="1.0" fill="#222" opacity="0.62"/>
<ellipse cx="58.3" cy="87.2" rx="1.2" ry="0.8" fill="#222" opacity="0.57"/>
<ellipse cx="112.9" cy="54.6" rx="1.8" ry="1.3" fill="#222" opacity="0.78"/>
<ellipse cx="70.6" cy="57.9" rx="1.4" ry="1.1" fill="#222" opacity="0.68"/>
<ellipse cx="144.7" cy="91.6" rx="2.2" ry="1.4" fill="#222" opacity="0.72"/>
<ellipse cx="83.6" cy="127.0" rx="0.9" ry="1.4" fill="#222" opacity="0.68"/>
<ellipse cx="205.5" cy="82.7" rx="1.8" ry="0.8" fill="#222" opacity="0.77"/>
<ellipse cx="70.3" cy="29.2" rx="1.2" ry="1.1" fill="#222" opacity="0.61"/>
<ellipse cx="184.1" cy="116.2" rx="1.9" ry="1.4" fill="#222" opacity="0.43"/>
<ellipse cx="57.2" cy="65.2" rx="1.0" ry="1.0" fill="#222" opacity="0.69"/>
<ellipse cx="70.9" cy="92.0" rx="1.1" ry="0.6" fill="#222" opacity="0.51"/>
<ellipse cx="86.0" cy="116.7" rx="2.2" ry="0.7" fill="#222" opacity="0.60"/>
<ellipse cx="122.0" cy="109.0" rx="1.0" ry="1.4" fill="#222" opacity="0.51"/>
<ellipse cx="142.7" cy="80.7" rx="1.6" ry="1.3" fill="#222" opacity="0.65"/>
<ellipse cx="99.7" cy="150.9" rx="1.0" ry="1.4" fill="#222" opacity="0.67"/>
<ellipse cx="82.3" cy="155.2" rx="2.0" ry="1.0" fill="#222" opacity="0.72"/>
<ellipse cx="55.0" cy="63.5" rx="1.5" ry="1.4" fill="#222" opacity="0.55"/>
<ellipse cx="217.6" cy="102.8" rx="1.8" ry="1.2" fill="#222" opacity="0.45"/>
<ellipse cx="204.3" cy="104.5" rx="1.0" ry="0.7" fill="#222" opacity="0.72"/>
<ellipse cx="139.7" cy="147.6" rx="2.0" ry="1.0" fill="#222" opacity="0.57"/>
<ellipse cx="175.9" cy="154.1" rx="1.2" ry="1.0" fill="#222" opacity="0.45"/>
<ellipse cx="46.0" cy="35.9" rx="1.3" ry="1.1" fill="#222" opacity="0.75"/>
<ellipse cx="173.8" cy="152.3" rx="1.2" ry="1.3" fill="#222" opacity="0.53"/>
<ellipse cx="105.9" cy="98.1" rx="2.2" ry="1.0" fill="#222" opacity="0.42"/>
<ellipse cx="104.3" cy="101.2" rx="1.8" ry="0.7" fill="#222" opacity="0.51"/>
<ellipse cx="68.1" cy="94.2" rx="1.4" ry="0.9" fill="#222" opacity="0.60"/>
<ellipse cx="174.3" cy="107.5" rx="1.8" ry="0.9" fill="#222" opacity="0.77"/>
<ellipse cx="59.1" cy="37.3" rx="0.9" ry="1.0" fill="#222" opacity="0.53"/>
<ellipse cx="74.0" cy="28.9" rx="1.9" ry="0.6" fill="#222" opacity="0.65"/>
<ellipse cx="212.8" cy="60.5" rx="1.6" ry="1.3" fill="#222" opacity="0.58"/>
<ellipse cx="204.4" cy="32.5" rx="1.6" ry="1.2" fill="#222" opacity="0.60"/>
<ellipse cx="188.1" cy="154.6" rx="2.0" ry="1.0" fill="#222" opacity="0.68"/>
<ellipse cx="195.7" cy="108.4" rx="0.9" ry="0.8" fill="#222" opacity="0.64"/>
<ellipse cx="58.9" cy="48.5" rx="2.2" ry="1.0" fill="#222" opacity="0.80"/>
<ellipse cx="189.6" cy="129.0" rx="1.4" ry="0.8" fill="#222" opacity="0.43"/>
<ellipse cx="78.1" cy="92.1" rx="1.7" ry="0.7" fill="#222" opacity="0.58"/>
<ellipse cx="104.7" cy="141.3" rx="1.2" ry="1.3" fill="#222" opacity="0.66"/>
<ellipse cx="207.4" cy="64.0" rx="1.2" ry="1.0" fill="#222" opacity="0.50"/>
<ellipse cx="147.0" cy="150.9" rx="1.5" ry="0.8" fill="#222" opacity="0.42"/>
<ellipse cx="152.0" cy="85.6" rx="0.8" ry="0.9" fill="#222" opacity="0.72"/>
<ellipse cx="151.4" cy="71.2" rx="2.1" ry="1.4" fill="#222" opacity="0.41"/>
<ellipse cx="79.2" cy="106.7" rx="1.3" ry="0.8" fill="#222" opacity="0.72"/>
<ellipse cx="201.5" cy="91.5" rx="2.1" ry="1.1" fill="#222" opacity="0.65"/>
<ellipse cx="131.2" cy="130.7" rx="2.1" ry="1.0" fill="#222" opacity="0.59"/>
<ellipse cx="181.6" cy="136.5" rx="1.7" ry="0.7" fill="#222" opacity="0.45"/>
<ellipse cx="103.9" cy="33.8" rx="1.3" ry="0.9" fill="#222" opacity="0.45"/>
<ellipse cx="64.0" cy="110.3" rx="2.0" ry="0.8" fill="#222" opacity="0.69"/>
<ellipse cx="112.8" cy="29.4" rx="2.1" ry="0.7" fill="#222" opacity="0.59"/>
<ellipse cx="41.1" cy="64.6" rx="1.3" ry="0.9" fill="#222" opacity="0.61"/>
<ellipse cx="213.1" cy="107.1" rx="1.4" ry="1.3" fill="#222" opacity="0.58"/>
<ellipse cx="164.6" cy="85.6" rx="1.8" ry="0.7" fill="#222" opacity="0.47"/>
<ellipse cx="164.3" cy="123.5" rx="1.3" ry="0.6" fill="#222" opacity="0.64"/>
<ellipse cx="57.0" cy="77.9" rx="1.9" ry="1.2" fill="#222" opacity="0.73"/>
<ellipse cx="57.0" cy="122.4" rx="0.8" ry="1.4" fill="#222" opacity="0.70"/>
<ellipse cx="177.9" cy="138.8" rx="1.9" ry="1.2" fill="#222" opacity="0.77"/>
<ellipse cx="49.8" cy="38.3" rx="1.8" ry="0.7" fill="#222" opacity="0.72"/>
<ellipse cx="113.2" cy="125.2" rx="0.9" ry="1.0" fill="#222" opacity="0.69"/>
<ellipse cx="171.6" cy="51.3" rx="1.1" ry="1.3" fill="#222" opacity="0.72"/>
<ellipse cx="130.1" cy="30.4" rx="1.8" ry="1.2" fill="#222" opacity="0.66"/>
<ellipse cx="214.1" cy="109.7" rx="1.9" ry="0.8" fill="#222" opacity="0.52"/>
<ellipse cx="215.4" cy="156.9" rx="1.0" ry="1.1" fill="#222" opacity="0.67"/>
<ellipse cx="148.4" cy="78.1" rx="1.3" ry="1.3" fill="#222" opacity="0.46"/>
<ellipse cx="54.2" cy="124.4" rx="0.8" ry="0.9" fill="#222" opacity="0.62"/>
<ellipse cx="160.8" cy="61.1" rx="1.7" ry="1.1" fill="#222" opacity="0.73"/>
<ellipse cx="123.4" cy="148.2" rx="1.4" ry="1.3" fill="#222" opacity="0.56"/>
<ellipse cx="169.7" cy="65.6" rx="1.7" ry="1.2" fill="#222" opacity="0.42"/>
<ellipse cx="178.1" cy="38.8" rx="1.9" ry="0.7" fill="#222" opacity="0.50"/>
<ellipse cx="95.0" cy="61.9" rx="1.7" ry="0.9" fill="#222" opacity="0.73"/>
<ellipse cx="106.8" cy="128.4" rx="1.2" ry="1.0" fill="#222" opacity="0.64"/>
<ellipse cx="101.6" cy="129.4" rx="1.7" ry="1.0" fill="#222" opacity="0.67"/>
<ellipse cx="79.4" cy="69.4" rx="2.0" ry="1.2" fill="#222" opacity="0.59"/>
<ellipse cx="218.6" cy="149.7" rx="1.8" ry="0.7" fill="#222" opacity="0.56"/>
<ellipse cx="109.3" cy="100.1" rx="1.2" ry="1.0" fill="#222" opacity="0.75"/>
<ellipse cx="58.1" cy="39.3" rx="1.5" ry="0.6" fill="#222" opacity="0.55"/>
<ellipse cx="83.1" cy="127.5" rx="1.1" ry="1.0" fill="#222" opacity="0.75"/>
<ellipse cx="160.2" cy="78.5" rx="1.1" ry="1.4" fill="#222" opacity="0.71"/>
<ellipse cx="162.7" cy="61.0" rx="1.1" ry="1.3" fill="#222" opacity="0.73"/>
<ellipse cx="188.6" cy="67.2" rx="1.8" ry="1.3" fill="#222" opacity="0.76"/>
<ellipse cx="167.1" cy="36.4" rx="0.9" ry="0.8" fill="#222" opacity="0.72"/>
<ellipse cx="99.0" cy="34.4" rx="1.5" ry="0.7" fill="#222" opacity="0.57"/>
<ellipse cx="165.9" cy="92.9" rx="1.6" ry="1.0" fill="#222" opacity="0.79"/>
<ellipse cx="206.0" cy="93.9" rx="1.0" ry="1.2" fill="#222" opacity="0.46"/>
<ellipse cx="39.7" cy="40.1" rx="1.4" ry="1.3" fill="#222" opacity="0.60"/>
<ellipse cx="179.2" cy="96.4" rx="1.8" ry="1.0" fill="#222" opacity="0.69"/>
<ellipse cx="102.4" cy="62.7" rx="1.9" ry="1.2" fill="#222" opacity="0.72"/>
<ellipse cx="160.2" cy="130.3" rx="1.6" ry="1.1" fill="#222" opacity="0.68"/>
<ellipse cx="110.5" cy="32.9" rx="2.0" ry="1.3" fill="#222" opacity="0.53"/>
<ellipse cx="116.1" cy="42.5" rx="2.1" ry="0.7" fill="#222" opacity="0.57"/>
<ellipse cx="42.6" cy="139.1" rx="1.8" ry="1.2" fill="#222" opacity="0.63"/>
<ellipse cx="162.3" cy="144.8" rx="0.9" ry="0.8" fill="#222" opacity="0.45"/>
<ellipse cx="123.5" cy="37.4" rx="1.7" ry="1.1" fill="#222" opacity="0.69"/>
<ellipse cx="187.8" cy="36.5" rx="0.9" ry="1.0" fill="#222" opacity="0.61"/>
<ellipse cx="166.8" cy="71.3" rx="2.1" ry="1.0" fill="#222" opacity="0.60"/>
<ellipse cx="160.6" cy="145.5" rx="1.8" ry="1.3" fill="#222" opacity="0.47"/>
<ellipse cx="57.6" cy="31.0" rx="1.6" ry="1.2" fill="#222" opacity="0.48"/>
<ellipse cx="147.2" cy="54.9" rx="1.6" ry="1.4" fill="#222" opacity="0.75"/>
<ellipse cx="88.2" cy="35.9" rx="1.1" ry="1.0" fill="#222" opacity="0.54"/>
<ellipse cx="118.8" cy="94.5" rx="2.1" ry="0.9" fill="#222" opacity="0.56"/>
<rect x="18.0" y="8.0" width="54.2" height="56.1" fill="#000" opacity="0.414" filter="url(#bl4)"/>
<rect x="64.2" y="8.0" width="38.2" height="56.1" fill="#000" opacity="0.029" filter="url(#bl4)"/>
<rect x="94.3" y="8.0" width="38.2" height="56.1" fill="#000" opacity="0.261" filter="url(#bl4)"/>
<rect x="124.5" y="8.0" width="38.2" height="56.1" fill="#000" opacity="0.075" filter="url(#bl4)"/>
<rect x="154.7" y="8.0" width="38.2" height="56.1" fill="#000" opacity="0.161" filter="url(#bl4)"/>
<rect x="184.8" y="8.0" width="54.2" height="56.1" fill="#000" opacity="0.011" filter="url(#bl4)"/>
<rect x="18.0" y="56.1" width="54.2" height="40.1" fill="#000" opacity="0.174" filter="url(#bl4)"/>
<rect x="64.2" y="56.1" width="38.2" height="40.1" fill="#000" opacity="0.021" filter="url(#bl4)"/>
<rect x="94.3" y="56.1" width="38.2" height="40.1" fill="#fff" opacity="0.031" filter="url(#bl4)"/>
<rect x="124.5" y="56.1" width="38.2" height="40.1" fill="#fff" opacity="0.032" filter="url(#bl4)"/>
<rect x="154.7" y="56.1" width="38.2" height="40.1" fill="#fff" opacity="0.022" filter="url(#bl4)"/>
<rect x="184.8" y="56.1" width="54.2" height="40.1" fill="#000" opacity="0.056" filter="url(#bl4)"/>
<rect x="18.0" y="88.2" width="54.2" height="40.1" fill="#000" opacity="0.035" filter="url(#bl4)"/>
<rect x="64.2" y="88.2" width="38.2" height="40.1" fill="#000" opacity="0.168" filter="url(#bl4)"/>
<rect x="94.3" y="88.2" width="38.2" height="40.1" fill="#000" opacity="0.037" filter="url(#bl4)"/>
<rect x="124.5" y="88.2" width="38.2" height="40.1" fill="#000" opacity="0.065" filter="url(#bl4)"/>
<rect x="154.7" y="88.2" width="38.2" height="40.1" fill="#000" opacity="0.123" filter="url(#bl4)"/>
<rect x="184.8" y="88.2" width="54.2" height="40.1" fill="#000" opacity="0.101" filter="url(#bl4)"/>
<rect x="18.0" y="120.4" width="54.2" height="56.1" fill="#000" opacity="0.204" filter="url(#bl4)"/>
<rect x="64.2" y="120.4" width="38.2" height="56.1" fill="#000" opacity="0.092" filter="url(#bl4)"/>
<rect x="94.3" y="120.4" width="38.2" height="56.1" fill="#fff" opacity="0.014" filter="url(#bl4)"/>
<rect x="124.5" y="120.4" width="38.2" height="56.1" fill="#000" opacity="0.201" filter="url(#bl4)"/>
<rect x="154.7" y="120.4" width="38.2" height="56.1" fill="#000" opacity="0.296" filter="url(#bl4)"/>
<rect x="184.8" y="120.4" width="54.2" height="56.1" fill="#000" opacity="0.256" filter="url(#bl4)"/>
</g>
</g>
<g clip-path="url(#cpa2)"><g filter="url(#txa2)">
<rect x="28.0" y="147.0" width="201.0" height="149.0" fill="#969696"/>
<ellipse cx="43.0" cy="157.6" rx="12.6" ry="2.6" fill="url(#ag60)" stroke="#c8c8c8" stroke-width="0.9" transform="rotate(0.1 43.0 157.6)"/>
<ellipse cx="67.7" cy="158.3" rx="10.2" ry="2.5" fill="url(#ag50)" stroke="#c8c8c8" stroke-width="0.9" transform="rotate(-4.9 67.7 158.3)"/>
<ellipse cx="91.0" cy="156.8" rx="10.7" ry="3.2" fill="url(#ag70)" stroke="#c8c8c8" stroke-width="0.9" transform="rotate(5.8 91.0 156.8)"/>
<ellipse cx="110.2" cy="156.7" rx="6.5" ry="2.6" fill="url(#ag40)" stroke="#c8c8c8" stroke-width="0.9" transform="rotate(0.3 110.2 156.7)"/>
<ellipse cx="123.6" cy="157.6" rx="5.4" ry="3.1" fill="url(#ag70)" stroke="#c8c8c8" stroke-width="0.9" transform="rotate(-0.7 123.6 157.6)"/>
<ellipse cx="140.3" cy="158.0" rx="9.2" ry="3.7" fill="url(#ag50)" stroke="#c8c8c8" stroke-width="0.9" transform="rotate(-0.5 140.3 158.0)"/>
<ellipse cx="164.0" cy="158.1" rx="11.9" ry="2.8" fill="url(#ag40)" stroke="#c8c8c8" stroke-width="0.9" transform="rotate(-2.2 164.0 158.1)"/>
<ellipse cx="188.5" cy="157.5" rx="11.3" ry="3.6" fill="url(#ag50)" stroke="#c8c8c8" stroke-width="0.9" transform="rotate(4.2 188.5 157.5)"/>
<ellipse cx="207.4" cy="157.1" rx="5.2" ry="3.7" fill="url(#ag50)" stroke="#c8c8c8" stroke-width="0.9" transform="rotate(4.9 207.4 157.1)"/>
<ellipse cx="220.1" cy="157.9" rx="5.8" ry="2.5" fill="url(#ag50)" stroke="#c8c8c8" stroke-width="0.9" transform="rotate(3.3 220.1 157.9)"/>
<ellipse cx="240.3" cy="158.2" rx="12.9" ry="2.5" fill="url(#ag40)" stroke="#c8c8c8" stroke-width="0.9" transform="rotate(-4.6 240.3 158.2)"/>
<ellipse cx="45.8" cy="165.4" rx="9.7" ry="3.1" fill="url(#ag60)" stroke="#c8c8c8" stroke-width="0.9" transform="rotate(-3.7 45.8 165.4)"/>
<ellipse cx="63.7" cy="165.4" rx="6.1" ry="4.2" fill="url(#ag50)" stroke="#c8c8c8" stroke-width="0.9" transform="rotate(-3.4 63.7 165.4)"/>
<ellipse cx="79.8" cy="166.3" rx="7.6" ry="4.0" fill="url(#ag50)" stroke="#c8c8c8" stroke-width="0.9" transform="rotate(-3.5 79.8 166.3)"/>
<ellipse cx="95.5" cy="166.5" rx="6.0" ry="3.9" fill="url(#ag50)" stroke="#c8c8c8" stroke-width="0.9" transform="rotate(-3.4 95.5 166.5)"/>
<ellipse cx="110.6" cy="164.7" rx="7.6" ry="3.2" fill="url(#ag60)" stroke="#c8c8c8" stroke-width="0.9" transform="rotate(-4.9 110.6 164.7)"/>
<ellipse cx="128.4" cy="165.5" rx="8.2" ry="3.6" fill="url(#ag50)" stroke="#c8c8c8" stroke-width="0.9" transform="rotate(5.5 128.4 165.5)"/>
<ellipse cx="145.6" cy="164.9" rx="6.7" ry="3.2" fill="url(#ag70)" stroke="#c8c8c8" stroke-width="0.9" transform="rotate(4.9 145.6 164.9)"/>
<ellipse cx="164.8" cy="166.4" rx="11.1" ry="4.0" fill="url(#ag70)" stroke="#c8c8c8" stroke-width="0.9" transform="rotate(-3.6 164.8 166.4)"/>
<ellipse cx="186.5" cy="164.8" rx="8.6" ry="3.2" fill="url(#ag70)" stroke="#c8c8c8" stroke-width="0.9" transform="rotate(-5.5 186.5 164.8)"/>
<ellipse cx="204.4" cy="166.2" rx="7.3" ry="3.1" fill="url(#ag50)" stroke="#c8c8c8" stroke-width="0.9" transform="rotate(1.2 204.4 166.2)"/>
<ellipse cx="219.6" cy="165.0" rx="5.8" ry="3.7" fill="url(#ag70)" stroke="#c8c8c8" stroke-width="0.9" transform="rotate(0.7 219.6 165.0)"/>
<ellipse cx="239.4" cy="165.0" rx="12.5" ry="3.5" fill="url(#ag50)" stroke="#c8c8c8" stroke-width="0.9" transform="rotate(-5.8 239.4 165.0)"/>
<ellipse cx="43.0" cy="172.3" rx="9.8" ry="3.2" fill="url(#ag70)" stroke="#c8c8c8" stroke-width="0.9" transform="rotate(-1.7 43.0 172.3)"/>
<ellipse cx="65.6" cy="173.2" rx="10.7" ry="2.0" fill="url(#ag40)" stroke="#c8c8c8" stroke-width="0.9" transform="rotate(-4.3 65.6 173.2)"/>
<ellipse cx="89.6" cy="173.9" rx="10.8" ry="2.6" fill="url(#ag60)" stroke="#c8c8c8" stroke-width="0.9" transform="rotate(-5.7 89.6 173.9)"/>
<ellipse cx="110.4" cy="174.0" rx="7.8" ry="2.9" fill="url(#ag60)" stroke="#c8c8c8" stroke-width="0.9" transform="rotate(-5.1 110.4 174.0)"/>
<ellipse cx="131.7" cy="173.4" rx="11.1" ry="2.4" fill="url(#ag70)" stroke="#c8c8c8" stroke-width="0.9" transform="rotate(3.5 131.7 173.4)"/>
<ellipse cx="157.3" cy="173.8" rx="12.4" ry="3.1" fill="url(#ag70)" stroke="#c8c8c8" stroke-width="0.9" transform="rotate(-1.0 157.3 173.8)"/>
<ellipse cx="181.9" cy="172.8" rx="10.2" ry="2.1" fill="url(#ag60)" stroke="#c8c8c8" stroke-width="0.9" transform="rotate(1.0 181.9 172.8)"/>
<ellipse cx="207.3" cy="173.8" rx="13.1" ry="2.9" fill="url(#ag50)" stroke="#c8c8c8" stroke-width="0.9" transform="rotate(2.7 207.3 173.8)"/>
<ellipse cx="231.1" cy="173.7" rx="8.7" ry="2.0" fill="url(#ag70)" stroke="#c8c8c8" stroke-width="0.9" transform="rotate(-5.0 231.1 173.7)"/>
<ellipse cx="46.1" cy="180.0" rx="10.8" ry="2.8" fill="url(#ag70)" stroke="#c8c8c8" stroke-width="0.9" transform="rotate(1.4 46.1 180.0)"/>
<ellipse cx="65.6" cy="180.4" rx="7.6" ry="3.6" fill="url(#ag40)" stroke="#c8c8c8" stroke-width="0.9" transform="rotate(-3.6 65.6 180.4)"/>
<ellipse cx="84.1" cy="180.8" rx="8.7" ry="2.7" fill="url(#ag60)" stroke="#c8c8c8" stroke-width="0.9" transform="rotate(-2.1 84.1 180.8)"/>
<ellipse cx="106.2" cy="180.8" rx="11.6" ry="3.2" fill="url(#ag50)" stroke="#c8c8c8" stroke-width="0.9" transform="rotate(4.6 106.2 180.8)"/>
<ellipse cx="125.7" cy="180.0" rx="6.3" ry="3.3" fill="url(#ag70)" stroke="#c8c8c8" stroke-width="0.9" transform="rotate(4.0 125.7 180.0)"/>
<ellipse cx="141.9" cy="179.3" rx="7.4" ry="2.7" fill="url(#ag50)" stroke="#c8c8c8" stroke-width="0.9" transform="rotate(-0.6 141.9 179.3)"/>
<ellipse cx="161.3" cy="180.0" rx="10.2" ry="3.7" fill="url(#ag70)" stroke="#c8c8c8" stroke-width="0.9" transform="rotate(-2.2 161.3 180.0)"/>
<ellipse cx="179.1" cy="179.1" rx="5.8" ry="3.3" fill="url(#ag40)" stroke="#c8c8c8" stroke-width="0.9" transform="rotate(4.5 179.1 179.1)"/>
<ellipse cx="194.5" cy="180.6" rx="7.7" ry="3.0" fill="url(#ag40)" stroke="#c8c8c8" stroke-width="0.9" transform="rotate(-5.8 194.5 180.6)"/>
<ellipse cx="215.1" cy="179.5" rx="11.8" ry="3.2" fill="url(#ag40)" stroke="#c8c8c8" stroke-width="0.9" transform="rotate(-4.3 215.1 179.5)"/>
<ellipse cx="239.0" cy="180.3" rx="10.2" ry="3.3" fill="url(#ag70)" stroke="#c8c8c8" stroke-width="0.9" transform="rotate(3.7 239.0 180.3)"/>
<ellipse cx="41.4" cy="187.4" rx="5.3" ry="2.8" fill="url(#ag40)" stroke="#c8c8c8" stroke-width="0.9" transform="rotate(2.6 41.4 187.4)"/>
<ellipse cx="59.1" cy="187.5" rx="10.8" ry="2.9" fill="url(#ag70)" stroke="#c8c8c8" stroke-width="0.9" transform="rotate(1.4 59.1 187.5)"/>
<ellipse cx="84.6" cy="186.6" rx="12.4" ry="2.6" fill="url(#ag60)" stroke="#c8c8c8" stroke-width="0.9" transform="rotate(5.2 84.6 186.6)"/>
<ellipse cx="109.0" cy="188.3" rx="10.2" ry="3.6" fill="url(#ag60)" stroke="#c8c8c8" stroke-width="0.9" transform="rotate(-1.5 109.0 188.3)"/>
<ellipse cx="134.3" cy="187.4" rx="12.8" ry="3.4" fill="url(#ag40)" stroke="#c8c8c8" stroke-width="0.9" transform="rotate(1.8 134.3 187.4)"/>
<ellipse cx="159.7" cy="187.9" rx="10.3" ry="3.7" fill="url(#ag70)" stroke="#c8c8c8" stroke-width="0.9" transform="rotate(-3.4 159.7 187.9)"/>
<ellipse cx="182.1" cy="188.0" rx="9.5" ry="3.5" fill="url(#ag70)" stroke="#c8c8c8" stroke-width="0.9" transform="rotate(-2.2 182.1 188.0)"/>
<ellipse cx="199.1" cy="187.3" rx="5.9" ry="3.0" fill="url(#ag70)" stroke="#c8c8c8" stroke-width="0.9" transform="rotate(0.6 199.1 187.3)"/>
<ellipse cx="217.8" cy="186.6" rx="11.7" ry="2.8" fill="url(#ag40)" stroke="#c8c8c8" stroke-width="0.9" transform="rotate(3.6 217.8 186.6)"/>
<ellipse cx="45.9" cy="194.8" rx="9.3" ry="3.1" fill="url(#ag60)" stroke="#c8c8c8" stroke-width="0.9" transform="rotate(4.1 45.9 194.8)"/>
<ellipse cx="69.9" cy="193.5" rx="12.8" ry="2.3" fill="url(#ag60)" stroke="#c8c8c8" stroke-width="0.9" transform="rotate(-3.3 69.9 193.5)"/>
<ellipse cx="95.2" cy="194.4" rx="10.3" ry="2.3" fill="url(#ag60)" stroke="#c8c8c8" stroke-width="0.9" transform="rotate(4.1 95.2 194.4)"/>
<ellipse cx="119.1" cy="195.2" rx="12.0" ry="3.2" fill="url(#ag70)" stroke="#c8c8c8" stroke-width="0.9" transform="rotate(-3.5 119.1 195.2)"/>
<ellipse cx="142.7" cy="193.8" rx="9.8" ry="2.7" fill="url(#ag60)" stroke="#c8c8c8" stroke-width="0.9" transform="rotate(0.4 142.7 193.8)"/>
<ellipse cx="166.6" cy="194.4" rx="13.0" ry="2.6" fill="url(#ag70)" stroke="#c8c8c8" stroke-width="0.9" transform="rotate(-1.2 166.6 194.4)"/>
<ellipse cx="192.1" cy="193.5" rx="10.7" ry="3.2" fill="url(#ag50)" stroke="#c8c8c8" stroke-width="0.9" transform="rotate(0.5 192.1 193.5)"/>
<ellipse cx="212.7" cy="194.3" rx="7.4" ry="3.0" fill="url(#ag50)" stroke="#c8c8c8" stroke-width="0.9" transform="rotate(-4.5 212.7 194.3)"/>
<ellipse cx="231.5" cy="194.0" rx="9.0" ry="3.1" fill="url(#ag60)" stroke="#c8c8c8" stroke-width="0.9" transform="rotate(-3.7 231.5 194.0)"/>
<ellipse cx="45.2" cy="201.2" rx="6.8" ry="3.3" fill="url(#ag50)" stroke="#c8c8c8" stroke-width="0.9" transform="rotate(2.2 45.2 201.2)"/>
<ellipse cx="60.0" cy="202.2" rx="6.0" ry="3.2" fill="url(#ag60)" stroke="#c8c8c8" stroke-width="0.9" transform="rotate(-4.5 60.0 202.2)"/>
<ellipse cx="76.9" cy="201.6" rx="9.4" ry="3.6" fill="url(#ag50)" stroke="#c8c8c8" stroke-width="0.9" transform="rotate(-1.5 76.9 201.6)"/>
<ellipse cx="94.5" cy="202.0" rx="6.8" ry="4.0" fill="url(#ag60)" stroke="#c8c8c8" stroke-width="0.9" transform="rotate(1.7 94.5 202.0)"/>
<ellipse cx="115.4" cy="201.2" rx="12.1" ry="4.0" fill="url(#ag70)" stroke="#c8c8c8" stroke-width="0.9" transform="rotate(2.9 115.4 201.2)"/>
<ellipse cx="136.8" cy="202.6" rx="7.7" ry="4.0" fill="url(#ag70)" stroke="#c8c8c8" stroke-width="0.9" transform="rotate(-3.4 136.8 202.6)"/>
<ellipse cx="152.9" cy="202.2" rx="7.1" ry="4.0" fill="url(#ag40)" stroke="#c8c8c8" stroke-width="0.9" transform="rotate(-2.9 152.9 202.2)"/>
<ellipse cx="173.3" cy="201.0" rx="11.5" ry="2.9" fill="url(#ag60)" stroke="#c8c8c8" stroke-width="0.9" transform="rotate(-1.2 173.3 201.0)"/>
<ellipse cx="196.9" cy="202.6" rx="10.7" ry="3.5" fill="url(#ag40)" stroke="#c8c8c8" stroke-width="0.9" transform="rotate(5.6 196.9 202.6)"/>
<ellipse cx="219.0" cy="202.1" rx="9.2" ry="3.0" fill="url(#ag40)" stroke="#c8c8c8" stroke-width="0.9" transform="rotate(-3.7 219.0 202.1)"/>
<ellipse cx="239.0" cy="201.8" rx="9.6" ry="3.1" fill="url(#ag40)" stroke="#c8c8c8" stroke-width="0.9" transform="rotate(0.8 239.0 201.8)"/>
<ellipse cx="36.6" cy="209.4" rx="12.6" ry="3.6" fill="url(#ag70)" stroke="#c8c8c8" stroke-width="0.9" transform="rotate(-5.3 36.6 209.4)"/>
<ellipse cx="59.2" cy="210.1" rx="7.8" ry="3.7" fill="url(#ag50)" stroke="#c8c8c8" stroke-width="0.9" transform="rotate(0.2 59.2 210.1)"/>
<ellipse cx="79.0" cy="210.9" rx="10.8" ry="3.9" fill="url(#ag50)" stroke="#c8c8c8" stroke-width="0.9" transform="rotate(-3.8 79.0 210.9)"/>
<ellipse cx="98.3" cy="209.5" rx="6.8" ry="4.1" fill="url(#ag40)" stroke="#c8c8c8" stroke-width="0.9" transform="rotate(0.2 98.3 209.5)"/>
<ellipse cx="118.2" cy="210.9" rx="10.8" ry="3.7" fill="url(#ag50)" stroke="#c8c8c8" stroke-width="0.9" transform="rotate(1.6 118.2 210.9)"/>
<ellipse cx="143.9" cy="210.8" rx="13.1" ry="3.9" fill="url(#ag70)" stroke="#c8c8c8" stroke-width="0.9" transform="rotate(-2.9 143.9 210.8)"/>
<ellipse cx="171.0" cy="210.0" rx="11.7" ry="3.9" fill="url(#ag70)" stroke="#c8c8c8" stroke-width="0.9" transform="rotate(4.8 171.0 210.0)"/>
<ellipse cx="196.2" cy="210.0" rx="11.3" ry="3.4" fill="url(#ag40)" stroke="#c8c8c8" stroke-width="0.9" transform="rotate(2.7 196.2 210.0)"/>
<ellipse cx="214.7" cy="209.9" rx="5.3" ry="3.3" fill="url(#ag60)" stroke="#c8c8c8" stroke-width="0.9" transform="rotate(1.7 214.7 209.9)"/>
<ellipse cx="233.0" cy="209.8" rx="10.5" ry="3.7" fill="url(#ag60)" stroke="#c8c8c8" stroke-width="0.9" transform="rotate(1.9 233.0 209.8)"/>
<ellipse cx="40.0" cy="219.4" rx="10.8" ry="4.0" fill="url(#ag40)" stroke="#c8c8c8" stroke-width="0.9" transform="rotate(5.8 40.0 219.4)"/>
<ellipse cx="60.2" cy="218.7" rx="7.3" ry="3.7" fill="url(#ag40)" stroke="#c8c8c8" stroke-width="0.9" transform="rotate(-5.4 60.2 218.7)"/>
<ellipse cx="76.0" cy="219.7" rx="7.2" ry="4.5" fill="url(#ag60)" stroke="#c8c8c8" stroke-width="0.9" transform="rotate(0.6 76.0 219.7)"/>
<ellipse cx="98.3" cy="219.2" rx="13.2" ry="4.0" fill="url(#ag40)" stroke="#c8c8c8" stroke-width="0.9" transform="rotate(3.7 98.3 219.2)"/>
<ellipse cx="119.2" cy="219.8" rx="5.6" ry="3.4" fill="url(#ag50)" stroke="#c8c8c8" stroke-width="0.9" transform="rotate(-4.1 119.2 219.8)"/>
<ellipse cx="136.7" cy="218.0" rx="10.1" ry="3.9" fill="url(#ag50)" stroke="#c8c8c8" stroke-width="0.9" transform="rotate(5.3 136.7 218.0)"/>
<ellipse cx="156.9" cy="218.5" rx="8.1" ry="3.6" fill="url(#ag60)" stroke="#c8c8c8" stroke-width="0.9" transform="rotate(1.9 156.9 218.5)"/>
<ellipse cx="174.8" cy="218.0" rx="7.6" ry="3.4" fill="url(#ag40)" stroke="#c8c8c8" stroke-width="0.9" transform="rotate(-3.1 174.8 218.0)"/>
<ellipse cx="192.9" cy="219.7" rx="8.3" ry="4.5" fill="url(#ag40)" stroke="#c8c8c8" stroke-width="0.9" transform="rotate(3.0 192.9 219.7)"/>
<ellipse cx="209.6" cy="219.7" rx="5.8" ry="4.5" fill="url(#ag50)" stroke="#c8c8c8" stroke-width="0.9" transform="rotate(-0.8 209.6 219.7)"/>
<ellipse cx="226.2" cy="219.8" rx="9.4" ry="4.5" fill="url(#ag50)" stroke="#c8c8c8" stroke-width="0.9" transform="rotate(2.7 226.2 219.8)"/>
<ellipse cx="47.3" cy="227.2" rx="10.2" ry="3.3" fill="url(#ag40)" stroke="#c8c8c8" stroke-width="0.9" transform="rotate(-3.6 47.3 227.2)"/>
<ellipse cx="67.5" cy="227.7" rx="8.7" ry="3.4" fill="url(#ag50)" stroke="#c8c8c8" stroke-width="0.9" transform="rotate(-0.5 67.5 227.7)"/>
<ellipse cx="89.4" cy="227.4" rx="11.4" ry="3.6" fill="url(#ag70)" stroke="#c8c8c8" stroke-width="0.9" transform="rotate(6.0 89.4 227.4)"/>
<ellipse cx="108.4" cy="228.1" rx="6.1" ry="3.1" fill="url(#ag60)" stroke="#c8c8c8" stroke-width="0.9" transform="rotate(3.4 108.4 228.1)"/>
<ellipse cx="126.7" cy="227.5" rx="10.7" ry="3.6" fill="url(#ag60)" stroke="#c8c8c8" stroke-width="0.9" transform="rotate(1.1 126.7 227.5)"/>
<ellipse cx="145.9" cy="228.3" rx="7.2" ry="2.7" fill="url(#ag70)" stroke="#c8c8c8" stroke-width="0.9" transform="rotate(5.0 145.9 228.3)"/>
<ellipse cx="161.7" cy="227.2" rx="7.4" ry="3.3" fill="url(#ag40)" stroke="#c8c8c8" stroke-width="0.9" transform="rotate(1.5 161.7 227.2)"/>
<ellipse cx="176.2" cy="227.7" rx="5.9" ry="3.1" fill="url(#ag60)" stroke="#c8c8c8" stroke-width="0.9" transform="rotate(0.6 176.2 227.7)"/>
<ellipse cx="190.7" cy="227.0" rx="6.9" ry="2.7" fill="url(#ag70)" stroke="#c8c8c8" stroke-width="0.9" transform="rotate(2.9 190.7 227.0)"/>
<ellipse cx="210.6" cy="227.6" rx="11.7" ry="3.2" fill="url(#ag40)" stroke="#c8c8c8" stroke-width="0.9" transform="rotate(3.2 210.6 227.6)"/>
<ellipse cx="235.4" cy="227.1" rx="11.7" ry="3.0" fill="url(#ag70)" stroke="#c8c8c8" stroke-width="0.9" transform="rotate(1.8 235.4 227.1)"/>
<ellipse cx="33.6" cy="235.1" rx="8.6" ry="2.9" fill="url(#ag70)" stroke="#c8c8c8" stroke-width="0.9" transform="rotate(-4.8 33.6 235.1)"/>
<ellipse cx="53.2" cy="235.3" rx="9.7" ry="3.8" fill="url(#ag50)" stroke="#c8c8c8" stroke-width="0.9" transform="rotate(2.2 53.2 235.3)"/>
<ellipse cx="71.0" cy="235.7" rx="6.9" ry="3.8" fill="url(#ag50)" stroke="#c8c8c8" stroke-width="0.9" transform="rotate(-5.0 71.0 235.7)"/>
<ellipse cx="87.5" cy="234.6" rx="7.5" ry="3.3" fill="url(#ag60)" stroke="#c8c8c8" stroke-width="0.9" transform="rotate(-1.7 87.5 234.6)"/>
<ellipse cx="107.1" cy="235.5" rx="10.9" ry="4.0" fill="url(#ag70)" stroke="#c8c8c8" stroke-width="0.9" transform="rotate(5.0 107.1 235.5)"/>
<ellipse cx="131.4" cy="235.0" rx="11.6" ry="4.0" fill="url(#ag50)" stroke="#c8c8c8" stroke-width="0.9" transform="rotate(-2.2 131.4 235.0)"/>
<ellipse cx="152.6" cy="235.1" rx="7.2" ry="3.3" fill="url(#ag50)" stroke="#c8c8c8" stroke-width="0.9" transform="rotate(-1.6 152.6 235.1)"/>
<ellipse cx="168.3" cy="235.5" rx="6.8" ry="3.9" fill="url(#ag60)" stroke="#c8c8c8" stroke-width="0.9" transform="rotate(3.6 168.3 235.5)"/>
<ellipse cx="183.6" cy="235.9" rx="6.6" ry="2.8" fill="url(#ag50)" stroke="#c8c8c8" stroke-width="0.9" transform="rotate(4.6 183.6 235.9)"/>
<ellipse cx="201.6" cy="235.5" rx="9.6" ry="3.9" fill="url(#ag60)" stroke="#c8c8c8" stroke-width="0.9" transform="rotate(5.6 201.6 235.5)"/>
<ellipse cx="221.9" cy="235.9" rx="9.6" ry="3.8" fill="url(#ag40)" stroke="#c8c8c8" stroke-width="0.9" transform="rotate(-5.0 221.9 235.9)"/>
<ellipse cx="35.6" cy="243.1" rx="6.4" ry="2.1" fill="url(#ag40)" stroke="#c8c8c8" stroke-width="0.9" transform="rotate(1.8 35.6 243.1)"/>
<ellipse cx="53.6" cy="243.1" rx="9.4" ry="3.1" fill="url(#ag50)" stroke="#c8c8c8" stroke-width="0.9" transform="rotate(-1.3 53.6 243.1)"/>
<ellipse cx="74.2" cy="242.7" rx="9.1" ry="3.0" fill="url(#ag60)" stroke="#c8c8c8" stroke-width="0.9" transform="rotate(2.7 74.2 242.7)"/>
<ellipse cx="96.9" cy="242.9" rx="11.8" ry="2.9" fill="url(#ag70)" stroke="#c8c8c8" stroke-width="0.9" transform="rotate(4.2 96.9 242.9)"/>
<ellipse cx="124.0" cy="242.9" rx="12.9" ry="2.9" fill="url(#ag60)" stroke="#c8c8c8" stroke-width="0.9" transform="rotate(0.3 124.0 242.9)"/>
<ellipse cx="147.2" cy="241.9" rx="8.6" ry="2.3" fill="url(#ag70)" stroke="#c8c8c8" stroke-width="0.9" transform="rotate(2.9 147.2 241.9)"/>
<ellipse cx="163.9" cy="242.5" rx="6.8" ry="1.9" fill="url(#ag70)" stroke="#c8c8c8" stroke-width="0.9" transform="rotate(-2.5 163.9 242.5)"/>
<ellipse cx="178.4" cy="242.9" rx="6.1" ry="1.9" fill="url(#ag40)" stroke="#c8c8c8" stroke-width="0.9" transform="rotate(3.3 178.4 242.9)"/>
<ellipse cx="196.2" cy="243.4" rx="9.9" ry="2.1" fill="url(#ag40)" stroke="#c8c8c8" stroke-width="0.9" transform="rotate(-5.6 196.2 243.4)"/>
<ellipse cx="214.6" cy="243.0" rx="7.1" ry="2.1" fill="url(#ag40)" stroke="#c8c8c8" stroke-width="0.9" transform="rotate(1.1 214.6 243.0)"/>
<ellipse cx="229.8" cy="243.1" rx="6.6" ry="2.9" fill="url(#ag60)" stroke="#c8c8c8" stroke-width="0.9" transform="rotate(-2.3 229.8 243.1)"/>
<ellipse cx="38.0" cy="248.8" rx="12.5" ry="2.7" fill="url(#ag70)" stroke="#c8c8c8" stroke-width="0.9" transform="rotate(0.6 38.0 248.8)"/>
<ellipse cx="57.5" cy="250.0" rx="5.6" ry="2.8" fill="url(#ag50)" stroke="#c8c8c8" stroke-width="0.9" transform="rotate(3.6 57.5 250.0)"/>
<ellipse cx="72.4" cy="250.1" rx="7.4" ry="2.1" fill="url(#ag40)" stroke="#c8c8c8" stroke-width="0.9" transform="rotate(1.9 72.4 250.1)"/>
<ellipse cx="89.8" cy="249.7" rx="8.2" ry="2.3" fill="url(#ag60)" stroke="#c8c8c8" stroke-width="0.9" transform="rotate(2.6 89.8 249.7)"/>
<ellipse cx="107.1" cy="248.6" rx="7.8" ry="2.9" fill="url(#ag60)" stroke="#c8c8c8" stroke-width="0.9" transform="rotate(4.4 107.1 248.6)"/>
<ellipse cx="124.8" cy="249.2" rx="7.3" ry="2.1" fill="url(#ag70)" stroke="#c8c8c8" stroke-width="0.9" transform="rotate(-4.2 124.8 249.2)"/>
<ellipse cx="146.4" cy="249.8" rx="12.0" ry="3.0" fill="url(#ag50)" stroke="#c8c8c8" stroke-width="0.9" transform="rotate(-5.0 146.4 249.8)"/>
<ellipse cx="168.7" cy="249.1" rx="9.0" ry="3.2" fill="url(#ag60)" stroke="#c8c8c8" stroke-width="0.9" transform="rotate(5.5 168.7 249.1)"/>
<ellipse cx="190.8" cy="249.0" rx="11.5" ry="3.2" fill="url(#ag40)" stroke="#c8c8c8" stroke-width="0.9" transform="rotate(5.0 190.8 249.0)"/>
<ellipse cx="213.2" cy="249.2" rx="9.5" ry="2.5" fill="url(#ag70)" stroke="#c8c8c8" stroke-width="0.9" transform="rotate(-4.1 213.2 249.2)"/>
<ellipse cx="230.2" cy="248.7" rx="5.8" ry="2.6" fill="url(#ag60)" stroke="#c8c8c8" stroke-width="0.9" transform="rotate(-0.4 230.2 248.7)"/>
<ellipse cx="41.8" cy="256.6" rx="8.9" ry="1.9" fill="url(#ag60)" stroke="#c8c8c8" stroke-width="0.9" transform="rotate(4.0 41.8 256.6)"/>
<ellipse cx="63.2" cy="255.1" rx="10.9" ry="1.9" fill="url(#ag50)" stroke="#c8c8c8" stroke-width="0.9" transform="rotate(0.8 63.2 255.1)"/>
<ellipse cx="88.3" cy="255.1" rx="11.6" ry="2.3" fill="url(#ag50)" stroke="#c8c8c8" stroke-width="0.9" transform="rotate(1.4 88.3 255.1)"/>
<ellipse cx="109.4" cy="255.3" rx="7.6" ry="2.2" fill="url(#ag60)" stroke="#c8c8c8" stroke-width="0.9" transform="rotate(-1.3 109.4 255.3)"/>
<ellipse cx="129.4" cy="255.3" rx="11.1" ry="2.8" fill="url(#ag60)" stroke="#c8c8c8" stroke-width="0.9" transform="rotate(5.3 129.4 255.3)"/>
<ellipse cx="153.9" cy="254.9" rx="11.8" ry="2.7" fill="url(#ag40)" stroke="#c8c8c8" stroke-width="0.9" transform="rotate(-4.3 153.9 254.9)"/>
<ellipse cx="174.5" cy="255.5" rx="6.6" ry="2.0" fill="url(#ag60)" stroke="#c8c8c8" stroke-width="0.9" transform="rotate(4.0 174.5 255.5)"/>
<ellipse cx="189.0" cy="254.9" rx="6.5" ry="3.1" fill="url(#ag40)" stroke="#c8c8c8" stroke-width="0.9" transform="rotate(-1.1 189.0 254.9)"/>
<ellipse cx="206.5" cy="256.0" rx="9.3" ry="2.4" fill="url(#ag70)" stroke="#c8c8c8" stroke-width="0.9" transform="rotate(3.2 206.5 256.0)"/>
<ellipse cx="225.9" cy="254.7" rx="8.5" ry="3.1" fill="url(#ag60)" stroke="#c8c8c8" stroke-width="0.9" transform="rotate(-1.2 225.9 254.7)"/>
<ellipse cx="35.0" cy="262.5" rx="5.3" ry="2.8" fill="url(#ag60)" stroke="#c8c8c8" stroke-width="0.9" transform="rotate(-1.9 35.0 262.5)"/>
<ellipse cx="51.3" cy="263.4" rx="9.3" ry="2.9" fill="url(#ag60)" stroke="#c8c8c8" stroke-width="0.9" transform="rotate(3.9 51.3 263.4)"/>
<ellipse cx="75.3" cy="262.9" rx="12.4" ry="2.9" fill="url(#ag60)" stroke="#c8c8c8" stroke-width="0.9" transform="rotate(-1.8 75.3 262.9)"/>
<ellipse cx="102.9" cy="262.8" rx="13.1" ry="2.9" fill="url(#ag70)" stroke="#c8c8c8" stroke-width="0.9" transform="rotate(2.6 102.9 262.8)"/>
<ellipse cx="128.8" cy="262.2" rx="10.2" ry="3.4" fill="url(#ag40)" stroke="#c8c8c8" stroke-width="0.9" transform="rotate(-5.0 128.8 262.2)"/>
<ellipse cx="149.0" cy="263.7" rx="7.8" ry="2.9" fill="url(#ag50)" stroke="#c8c8c8" stroke-width="0.9" transform="rotate(-1.7 149.0 263.7)"/>
<ellipse cx="165.6" cy="263.6" rx="6.3" ry="3.4" fill="url(#ag60)" stroke="#c8c8c8" stroke-width="0.9" transform="rotate(0.5 165.6 263.6)"/>
<ellipse cx="185.9" cy="263.8" rx="12.5" ry="2.8" fill="url(#ag60)" stroke="#c8c8c8" stroke-width="0.9" transform="rotate(3.8 185.9 263.8)"/>
<ellipse cx="208.2" cy="263.6" rx="7.5" ry="3.8" fill="url(#ag60)" stroke="#c8c8c8" stroke-width="0.9" transform="rotate(-3.1 208.2 263.6)"/>
<ellipse cx="226.7" cy="262.0" rx="9.6" ry="4.0" fill="url(#ag40)" stroke="#c8c8c8" stroke-width="0.9" transform="rotate(-5.6 226.7 262.0)"/>
<ellipse cx="44.8" cy="271.3" rx="10.6" ry="3.7" fill="url(#ag60)" stroke="#c8c8c8" stroke-width="0.9" transform="rotate(-1.4 44.8 271.3)"/>
<ellipse cx="63.2" cy="270.7" rx="6.8" ry="3.4" fill="url(#ag50)" stroke="#c8c8c8" stroke-width="0.9" transform="rotate(-4.3 63.2 270.7)"/>
<ellipse cx="80.8" cy="270.3" rx="9.4" ry="3.5" fill="url(#ag50)" stroke="#c8c8c8" stroke-width="0.9" transform="rotate(0.8 80.8 270.3)"/>
<ellipse cx="101.8" cy="270.1" rx="10.6" ry="3.3" fill="url(#ag60)" stroke="#c8c8c8" stroke-width="0.9" transform="rotate(5.5 101.8 270.1)"/>
<ellipse cx="124.3" cy="271.2" rx="10.2" ry="3.3" fill="url(#ag70)" stroke="#c8c8c8" stroke-width="0.9" transform="rotate(3.1 124.3 271.2)"/>
<ellipse cx="149.0" cy="271.5" rx="11.9" ry="3.4" fill="url(#ag50)" stroke="#c8c8c8" stroke-width="0.9" transform="rotate(-1.1 149.0 271.5)"/>
<ellipse cx="172.8" cy="270.8" rx="9.4" ry="3.1" fill="url(#ag70)" stroke="#c8c8c8" stroke-width="0.9" transform="rotate(-0.8 172.8 270.8)"/>
<ellipse cx="194.4" cy="271.6" rx="11.0" ry="3.7" fill="url(#ag60)" stroke="#c8c8c8" stroke-width="0.9" transform="rotate(2.8 194.4 271.6)"/>
<ellipse cx="216.9" cy="269.9" rx="9.9" ry="3.3" fill="url(#ag50)" stroke="#c8c8c8" stroke-width="0.9" transform="rotate(-4.5 216.9 269.9)"/>
<ellipse cx="234.1" cy="271.2" rx="5.6" ry="3.1" fill="url(#ag40)" stroke="#c8c8c8" stroke-width="0.9" transform="rotate(0.3 234.1 271.2)"/>
<ellipse cx="50.3" cy="279.1" rx="12.5" ry="2.6" fill="url(#ag70)" stroke="#c8c8c8" stroke-width="0.9" transform="rotate(2.0 50.3 279.1)"/>
<ellipse cx="72.0" cy="278.6" rx="7.0" ry="2.2" fill="url(#ag70)" stroke="#c8c8c8" stroke-width="0.9" transform="rotate(0.8 72.0 278.6)"/>
<ellipse cx="87.5" cy="278.2" rx="6.2" ry="2.4" fill="url(#ag40)" stroke="#c8c8c8" stroke-width="0.9" transform="rotate(5.4 87.5 278.2)"/>
<ellipse cx="103.0" cy="277.3" rx="7.8" ry="2.6" fill="url(#ag70)" stroke="#c8c8c8" stroke-width="0.9" transform="rotate(4.7 103.0 277.3)"/>
<ellipse cx="122.3" cy="277.2" rx="9.9" ry="2.5" fill="url(#ag70)" stroke="#c8c8c8" stroke-width="0.9" transform="rotate(-5.6 122.3 277.2)"/>
<ellipse cx="146.7" cy="279.1" rx="12.7" ry="2.4" fill="url(#ag40)" stroke="#c8c8c8" stroke-width="0.9" transform="rotate(-0.3 146.7 279.1)"/>
<ellipse cx="174.3" cy="277.5" rx="12.4" ry="2.7" fill="url(#ag50)" stroke="#c8c8c8" stroke-width="0.9" transform="rotate(4.1 174.3 277.5)"/>
<ellipse cx="200.2" cy="279.1" rx="12.2" ry="2.3" fill="url(#ag60)" stroke="#c8c8c8" stroke-width="0.9" transform="rotate(-3.6 200.2 279.1)"/>
<ellipse cx="220.5" cy="277.3" rx="5.6" ry="3.2" fill="url(#ag50)" stroke="#c8c8c8" stroke-width="0.9" transform="rotate(2.7 220.5 277.3)"/>
<ellipse cx="239.4" cy="277.4" rx="10.9" ry="2.6" fill="url(#ag70)" stroke="#c8c8c8" stroke-width="0.9" transform="rotate(2.4 239.4 277.4)"/>
<ellipse cx="45.1" cy="284.2" rx="10.9" ry="2.9" fill="url(#ag40)" stroke="#c8c8c8" stroke-width="0.9" transform="rotate(-3.8 45.1 284.2)"/>
<ellipse cx="66.4" cy="285.1" rx="8.2" ry="2.3" fill="url(#ag60)" stroke="#c8c8c8" stroke-width="0.9" transform="rotate(4.6 66.4 285.1)"/>
<ellipse cx="88.8" cy="285.2" rx="12.6" ry="2.2" fill="url(#ag60)" stroke="#c8c8c8" stroke-width="0.9" transform="rotate(-2.7 88.8 285.2)"/>
<ellipse cx="112.7" cy="284.9" rx="8.7" ry="2.8" fill="url(#ag40)" stroke="#c8c8c8" stroke-width="0.9" transform="rotate(0.4 112.7 284.9)"/>
<ellipse cx="130.1" cy="285.4" rx="7.2" ry="3.0" fill="url(#ag50)" stroke="#c8c8c8" stroke-width="0.9" transform="rotate(-5.0 130.1 285.4)"/>
<ellipse cx="146.2" cy="284.9" rx="7.4" ry="3.3" fill="url(#ag70)" stroke="#c8c8c8" stroke-width="0.9" transform="rotate(-3.8 146.2 284.9)"/>
<ellipse cx="163.7" cy="285.3" rx="8.9" ry="2.7" fill="url(#ag70)" stroke="#c8c8c8" stroke-width="0.9" transform="rotate(-1.4 163.7 285.3)"/>
<ellipse cx="183.6" cy="285.1" rx="9.6" ry="3.1" fill="url(#ag60)" stroke="#c8c8c8" stroke-width="0.9" transform="rotate(-1.7 183.6 285.1)"/>
<ellipse cx="204.4" cy="285.5" rx="9.2" ry="3.3" fill="url(#ag60)" stroke="#c8c8c8" stroke-width="0.9" transform="rotate(2.2 204.4 285.5)"/>
<ellipse cx="226.4" cy="284.2" rx="11.4" ry="2.6" fill="url(#ag40)" stroke="#c8c8c8" stroke-width="0.9" transform="rotate(1.3 226.4 284.2)"/>
<ellipse cx="34.0" cy="292.3" rx="7.1" ry="3.5" fill="url(#ag60)" stroke="#c8c8c8" stroke-width="0.9" transform="rotate(-3.3 34.0 292.3)"/>
<ellipse cx="52.2" cy="292.8" rx="10.0" ry="3.1" fill="url(#ag70)" stroke="#c8c8c8" stroke-width="0.9" transform="rotate(0.9 52.2 292.8)"/>
<ellipse cx="68.9" cy="292.3" rx="5.3" ry="3.2" fill="url(#ag50)" stroke="#c8c8c8" stroke-width="0.9" transform="rotate(-0.8 68.9 292.3)"/>
<ellipse cx="82.3" cy="293.2" rx="5.8" ry="3.9" fill="url(#ag60)" stroke="#c8c8c8" stroke-width="0.9" transform="rotate(0.8 82.3 293.2)"/>
<ellipse cx="95.9" cy="292.0" rx="6.4" ry="3.7" fill="url(#ag50)" stroke="#c8c8c8" stroke-width="0.9" transform="rotate(-5.5 95.9 292.0)"/>
<ellipse cx="111.5" cy="292.5" rx="7.3" ry="3.1" fill="url(#ag70)" stroke="#c8c8c8" stroke-width="0.9" transform="rotate(-4.9 111.5 292.5)"/>
<ellipse cx="126.8" cy="292.7" rx="6.5" ry="3.0" fill="url(#ag70)" stroke="#c8c8c8" stroke-width="0.9" transform="rotate(4.0 126.8 292.7)"/>
<ellipse cx="143.1" cy="291.8" rx="8.1" ry="3.5" fill="url(#ag40)" stroke="#c8c8c8" stroke-width="0.9" transform="rotate(5.6 143.1 291.8)"/>
<ellipse cx="166.5" cy="291.6" rx="13.1" ry="2.9" fill="url(#ag60)" stroke="#c8c8c8" stroke-width="0.9" transform="rotate(-0.5 166.5 291.6)"/>
<ellipse cx="193.4" cy="291.6" rx="12.3" ry="3.4" fill="url(#ag50)" stroke="#c8c8c8" stroke-width="0.9" transform="rotate(-1.3 193.4 291.6)"/>
<ellipse cx="212.4" cy="293.3" rx="5.5" ry="3.2" fill="url(#ag60)" stroke="#c8c8c8" stroke-width="0.9" transform="rotate(3.2 212.4 293.3)"/>
<ellipse cx="229.0" cy="291.8" rx="9.6" ry="3.4" fill="url(#ag70)" stroke="#c8c8c8" stroke-width="0.9" transform="rotate(-0.5 229.0 291.8)"/>
<ellipse cx="150.0" cy="185.0" rx="80.0" ry="20.0" fill="#1e1e1e" filter="url(#bl6)" opacity="0.35"/>
<ellipse cx="60.0" cy="166.0" rx="30.0" ry="10.0" fill="#1e1e1e" filter="url(#bl6)" opacity="0.4"/>
<ellipse cx="110.0" cy="250.0" rx="80.0" ry="18.0" fill="#e6e6e6" filter="url(#bl6)" opacity="0.12"/>
<rect x="18.0" y="137.0" width="54.2" height="56.2" fill="#000" opacity="0.100" filter="url(#bl4)"/>
<rect x="64.2" y="137.0" width="38.2" height="56.2" fill="#000" opacity="0.216" filter="url(#bl4)"/>
<rect x="94.3" y="137.0" width="38.2" height="56.2" fill="#000" opacity="0.071" filter="url(#bl4)"/>
<rect x="124.5" y="137.0" width="38.2" height="56.2" fill="#000" opacity="0.006" filter="url(#bl4)"/>
<rect x="154.7" y="137.0" width="38.2" height="56.2" fill="#000" opacity="0.074" filter="url(#bl4)"/>
<rect x="184.8" y="137.0" width="54.2" height="56.2" fill="#fff" opacity="0.245" filter="url(#bl4)"/>
<rect x="18.0" y="185.2" width="54.2" height="40.2" fill="#fff" opacity="0.039" filter="url(#bl4)"/>
<rect x="94.3" y="185.2" width="38.2" height="40.2" fill="#fff" opacity="0.142" filter="url(#bl4)"/>
<rect x="124.5" y="185.2" width="38.2" height="40.2" fill="#000" opacity="0.238" filter="url(#bl4)"/>
<rect x="154.7" y="185.2" width="38.2" height="40.2" fill="#000" opacity="0.098" filter="url(#bl4)"/>
<rect x="184.8" y="185.2" width="54.2" height="40.2" fill="#000" opacity="0.044" filter="url(#bl4)"/>
<rect x="18.0" y="217.5" width="54.2" height="40.2" fill="#fff" opacity="0.081" filter="url(#bl4)"/>
<rect x="64.2" y="217.5" width="38.2" height="40.2" fill="#fff" opacity="0.019" filter="url(#bl4)"/>
<rect x="94.3" y="217.5" width="38.2" height="40.2" fill="#000" opacity="0.029" filter="url(#bl4)"/>
<rect x="124.5" y="217.5" width="38.2" height="40.2" fill="#000" opacity="0.078" filter="url(#bl4)"/>
<rect x="154.7" y="217.5" width="38.2" height="40.2" fill="#000" opacity="0.056" filter="url(#bl4)"/>
<rect x="184.8" y="217.5" width="54.2" height="40.2" fill="#fff" opacity="0.030" filter="url(#bl4)"/>
<rect x="18.0" y="249.8" width="54.2" height="56.2" fill="#fff" opacity="0.052" filter="url(#bl4)"/>
<rect x="64.2" y="249.8" width="38.2" height="56.2" fill="#000" opacity="0.022" filter="url(#bl4)"/>
<rect x="94.3" y="249.8" width="38.2" height="56.2" fill="#000" opacity="0.064" filter="url(#bl4)"/>
<rect x="124.5" y="249.8" width="38.2" height="56.2" fill="#fff" opacity="0.043" filter="url(#bl4)"/>
<rect x="154.7" y="249.8" width="38.2" height="56.2" fill="#000" opacity="0.137" filter="url(#bl4)"/>
<rect x="184.8" y="249.8" width="54.2" height="56.2" fill="#000" opacity="0.054" filter="url(#bl4)"/>
</g>
</g>
<g clip-path="url(#cpa3)"><g filter="url(#txa3)">
<rect x="28.0" y="276.5" width="201.0" height="149.0" fill="#969696"/>
<ellipse cx="35.0" cy="286.6" rx="10.4" ry="3.3" fill="url(#ag50)" stroke="#c8c8c8" stroke-width="0.9" transform="rotate(1.1 35.0 286.6)"/>
<ellipse cx="52.3" cy="287.3" rx="5.5" ry="2.6" fill="url(#ag50)" stroke="#c8c8c8" stroke-width="0.9" transform="rotate(-3.3 52.3 287.3)"/>
<ellipse cx="68.2" cy="287.2" rx="9.2" ry="3.1" fill="url(#ag60)" stroke="#c8c8c8" stroke-width="0.9" transform="rotate(0.2 68.2 287.2)"/>
<ellipse cx="88.3" cy="287.6" rx="9.7" ry="3.9" fill="url(#ag60)" stroke="#c8c8c8" stroke-width="0.9" transform="rotate(1.9 88.3 287.6)"/>
<ellipse cx="109.1" cy="287.1" rx="9.5" ry="3.0" fill="url(#ag60)" stroke="#c8c8c8" stroke-width="0.9" transform="rotate(0.9 109.1 287.1)"/>
<ellipse cx="127.4" cy="287.8" rx="7.5" ry="3.4" fill="url(#ag50)" stroke="#c8c8c8" stroke-width="0.9" transform="rotate(1.1 127.4 287.8)"/>
<ellipse cx="141.7" cy="287.1" rx="5.4" ry="2.8" fill="url(#ag40)" stroke="#c8c8c8" stroke-width="0.9" transform="rotate(3.8 141.7 287.1)"/>
<ellipse cx="152.9" cy="287.0" rx="4.5" ry="3.0" fill="url(#ag70)" stroke="#c8c8c8" stroke-width="0.9" transform="rotate(0.9 152.9 287.0)"/>
<ellipse cx="165.3" cy="287.0" rx="6.2" ry="2.9" fill="url(#ag60)" stroke="#c8c8c8" stroke-width="0.9" transform="rotate(3.3 165.3 287.0)"/>
<ellipse cx="182.4" cy="287.8" rx="9.7" ry="3.3" fill="url(#ag40)" stroke="#c8c8c8" stroke-width="0.9" transform="rotate(3.9 182.4 287.8)"/>
<ellipse cx="202.9" cy="288.3" rx="8.3" ry="2.7" fill="url(#ag70)" stroke="#c8c8c8" stroke-width="0.9" transform="rotate(-4.0 202.9 288.3)"/>
<ellipse cx="217.4" cy="288.0" rx="4.4" ry="3.7" fill="url(#ag70)" stroke="#c8c8c8" stroke-width="0.9" transform="rotate(2.2 217.4 288.0)"/>
<ellipse cx="232.2" cy="288.4" rx="8.0" ry="3.9" fill="url(#ag50)" stroke="#c8c8c8" stroke-width="0.9" transform="rotate(3.0 232.2 288.4)"/>
<ellipse cx="45.1" cy="293.7" rx="7.5" ry="2.0" fill="url(#ag70)" stroke="#c8c8c8" stroke-width="0.9" transform="rotate(5.2 45.1 293.7)"/>
<ellipse cx="61.7" cy="293.6" rx="7.9" ry="2.0" fill="url(#ag70)" stroke="#c8c8c8" stroke-width="0.9" transform="rotate(0.5 61.7 293.6)"/>
<ellipse cx="81.9" cy="294.2" rx="10.5" ry="2.7" fill="url(#ag70)" stroke="#c8c8c8" stroke-width="0.9" transform="rotate(-1.9 81.9 294.2)"/>
<ellipse cx="103.8" cy="294.1" rx="9.0" ry="2.5" fill="url(#ag70)" stroke="#c8c8c8" stroke-width="0.9" transform="rotate(2.3 103.8 294.1)"/>
<ellipse cx="120.6" cy="294.1" rx="6.3" ry="2.4" fill="url(#ag60)" stroke="#c8c8c8" stroke-width="0.9" transform="rotate(3.3 120.6 294.1)"/>
<ellipse cx="134.2" cy="294.6" rx="5.0" ry="2.8" fill="url(#ag60)" stroke="#c8c8c8" stroke-width="0.9" transform="rotate(-2.0 134.2 294.6)"/>
<ellipse cx="151.4" cy="293.5" rx="10.9" ry="2.0" fill="url(#ag60)" stroke="#c8c8c8" stroke-width="0.9" transform="rotate(0.7 151.4 293.5)"/>
<ellipse cx="171.7" cy="294.2" rx="7.5" ry="2.2" fill="url(#ag40)" stroke="#c8c8c8" stroke-width="0.9" transform="rotate(2.6 171.7 294.2)"/>
<ellipse cx="186.7" cy="295.0" rx="5.2" ry="1.9" fill="url(#ag60)" stroke="#c8c8c8" stroke-width="0.9" transform="rotate(-3.6 186.7 295.0)"/>
<ellipse cx="200.8" cy="293.5" rx="7.2" ry="2.6" fill="url(#ag50)" stroke="#c8c8c8" stroke-width="0.9" transform="rotate(2.4 200.8 293.5)"/>
<ellipse cx="218.0" cy="294.4" rx="8.1" ry="1.8" fill="url(#ag70)" stroke="#c8c8c8" stroke-width="0.9" transform="rotate(-2.4 218.0 294.4)"/>
<ellipse cx="238.7" cy="294.3" rx="10.2" ry="2.5" fill="url(#ag60)" stroke="#c8c8c8" stroke-width="0.9" transform="rotate(3.3 238.7 294.3)"/>
<ellipse cx="39.9" cy="301.4" rx="6.3" ry="2.4" fill="url(#ag50)" stroke="#c8c8c8" stroke-width="0.9" transform="rotate(-1.9 39.9 301.4)"/>
<ellipse cx="56.1" cy="300.6" rx="7.5" ry="2.0" fill="url(#ag50)" stroke="#c8c8c8" stroke-width="0.9" transform="rotate(-2.9 56.1 300.6)"/>
<ellipse cx="71.1" cy="301.1" rx="6.0" ry="2.5" fill="url(#ag40)" stroke="#c8c8c8" stroke-width="0.9" transform="rotate(0.0 71.1 301.1)"/>
<ellipse cx="86.6" cy="300.3" rx="8.2" ry="3.0" fill="url(#ag50)" stroke="#c8c8c8" stroke-width="0.9" transform="rotate(4.3 86.6 300.3)"/>
<ellipse cx="107.3" cy="300.7" rx="11.1" ry="2.2" fill="url(#ag70)" stroke="#c8c8c8" stroke-width="0.9" transform="rotate(-5.5 107.3 300.7)"/>
<ellipse cx="125.2" cy="301.1" rx="5.2" ry="2.4" fill="url(#ag60)" stroke="#c8c8c8" stroke-width="0.9" transform="rotate(-4.9 125.2 301.1)"/>
<ellipse cx="138.8" cy="299.6" rx="6.3" ry="2.1" fill="url(#ag60)" stroke="#c8c8c8" stroke-width="0.9" transform="rotate(5.0 138.8 299.6)"/>
<ellipse cx="158.2" cy="299.8" rx="10.6" ry="2.0" fill="url(#ag60)" stroke="#c8c8c8" stroke-width="0.9" transform="rotate(-5.8 158.2 299.8)"/>
<ellipse cx="178.5" cy="300.9" rx="7.5" ry="2.9" fill="url(#ag70)" stroke="#c8c8c8" stroke-width="0.9" transform="rotate(0.8 178.5 300.9)"/>
<ellipse cx="196.3" cy="300.1" rx="8.3" ry="3.0" fill="url(#ag40)" stroke="#c8c8c8" stroke-width="0.9" transform="rotate(-4.4 196.3 300.1)"/>
<ellipse cx="213.2" cy="300.1" rx="7.2" ry="3.0" fill="url(#ag60)" stroke="#c8c8c8" stroke-width="0.9" transform="rotate(1.4 213.2 300.1)"/>
<ellipse cx="228.9" cy="300.7" rx="6.7" ry="2.3" fill="url(#ag70)" stroke="#c8c8c8" stroke-width="0.9" transform="rotate(2.9 228.9 300.7)"/>
<ellipse cx="29.2" cy="307.3" rx="5.1" ry="2.7" fill="url(#ag70)" stroke="#c8c8c8" stroke-width="0.9" transform="rotate(3.3 29.2 307.3)"/>
<ellipse cx="45.2" cy="308.1" rx="9.3" ry="3.2" fill="url(#ag40)" stroke="#c8c8c8" stroke-width="0.9" transform="rotate(0.4 45.2 308.1)"/>
<ellipse cx="62.1" cy="307.4" rx="6.4" ry="3.2" fill="url(#ag60)" stroke="#c8c8c8" stroke-width="0.9" transform="rotate(3.9 62.1 307.4)"/>
<ellipse cx="76.4" cy="307.9" rx="6.4" ry="3.7" fill="url(#ag40)" stroke="#c8c8c8" stroke-width="0.9" transform="rotate(-0.7 76.4 307.9)"/>
<ellipse cx="95.7" cy="307.6" rx="11.0" ry="3.5" fill="url(#ag50)" stroke="#c8c8c8" stroke-width="0.9" transform="rotate(1.5 95.7 307.6)"/>
<ellipse cx="120.3" cy="307.9" rx="11.1" ry="3.8" fill="url(#ag40)" stroke="#c8c8c8" stroke-width="0.9" transform="rotate(-0.8 120.3 307.9)"/>
<ellipse cx="139.9" cy="306.7" rx="6.9" ry="3.9" fill="url(#ag50)" stroke="#c8c8c8" stroke-width="0.9" transform="rotate(-5.6 139.9 306.7)"/>
<ellipse cx="158.1" cy="307.9" rx="9.2" ry="3.5" fill="url(#ag40)" stroke="#c8c8c8" stroke-width="0.9" transform="rotate(-2.7 158.1 307.9)"/>
<ellipse cx="176.8" cy="307.6" rx="8.3" ry="2.8" fill="url(#ag40)" stroke="#c8c8c8" stroke-width="0.9" transform="rotate(0.5 176.8 307.6)"/>
<ellipse cx="192.2" cy="307.9" rx="5.2" ry="3.7" fill="url(#ag60)" stroke="#c8c8c8" stroke-width="0.9" transform="rotate(-2.3 192.2 307.9)"/>
<ellipse cx="207.3" cy="307.0" rx="7.9" ry="3.0" fill="url(#ag70)" stroke="#c8c8c8" stroke-width="0.9" transform="rotate(-1.8 207.3 307.0)"/>
<ellipse cx="224.4" cy="307.7" rx="7.7" ry="3.9" fill="url(#ag50)" stroke="#c8c8c8" stroke-width="0.9" transform="rotate(3.5 224.4 307.7)"/>
<ellipse cx="40.8" cy="314.6" rx="10.5" ry="3.3" fill="url(#ag70)" stroke="#c8c8c8" stroke-width="0.9" transform="rotate(2.3 40.8 314.6)"/>
<ellipse cx="63.2" cy="316.2" rx="10.6" ry="2.5" fill="url(#ag70)" stroke="#c8c8c8" stroke-width="0.9" transform="rotate(-4.7 63.2 316.2)"/>
<ellipse cx="84.8" cy="315.7" rx="9.8" ry="3.1" fill="url(#ag60)" stroke="#c8c8c8" stroke-width="0.9" transform="rotate(5.5 84.8 315.7)"/>
<ellipse cx="104.3" cy="316.3" rx="8.2" ry="2.7" fill="url(#ag70)" stroke="#c8c8c8" stroke-width="0.9" transform="rotate(1.8 104.3 316.3)"/>
<ellipse cx="124.0" cy="314.4" rx="9.3" ry="2.7" fill="url(#ag40)" stroke="#c8c8c8" stroke-width="0.9" transform="rotate(3.8 124.0 314.4)"/>
<ellipse cx="143.4" cy="314.6" rx="8.8" ry="3.5" fill="url(#ag40)" stroke="#c8c8c8" stroke-width="0.9" transform="rotate(5.7 143.4 314.6)"/>
<ellipse cx="162.7" cy="315.4" rx="8.2" ry="2.6" fill="url(#ag60)" stroke="#c8c8c8" stroke-width="0.9" transform="rotate(3.6 162.7 315.4)"/>
<ellipse cx="179.8" cy="315.5" rx="6.7" ry="3.0" fill="url(#ag70)" stroke="#c8c8c8" stroke-width="0.9" transform="rotate(0.1 179.8 315.5)"/>
<ellipse cx="193.6" cy="314.9" rx="4.8" ry="3.5" fill="url(#ag60)" stroke="#c8c8c8" stroke-width="0.9" transform="rotate(2.0 193.6 314.9)"/>
<ellipse cx="209.7" cy="315.9" rx="9.8" ry="3.2" fill="url(#ag40)" stroke="#c8c8c8" stroke-width="0.9" transform="rotate(-4.3 209.7 315.9)"/>
<ellipse cx="230.5" cy="315.1" rx="8.5" ry="3.1" fill="url(#ag70)" stroke="#c8c8c8" stroke-width="0.9" transform="rotate(0.1 230.5 315.1)"/>
<ellipse cx="34.6" cy="323.2" rx="9.8" ry="3.3" fill="url(#ag60)" stroke="#c8c8c8" stroke-width="0.9" transform="rotate(-2.8 34.6 323.2)"/>
<ellipse cx="57.5" cy="323.3" rx="10.9" ry="2.7" fill="url(#ag60)" stroke="#c8c8c8" stroke-width="0.9" transform="rotate(-4.5 57.5 323.3)"/>
<ellipse cx="77.4" cy="323.5" rx="7.7" ry="2.5" fill="url(#ag40)" stroke="#c8c8c8" stroke-width="0.9" transform="rotate(3.2 77.4 323.5)"/>
<ellipse cx="97.2" cy="322.4" rx="10.4" ry="2.5" fill="url(#ag60)" stroke="#c8c8c8" stroke-width="0.9" transform="rotate(-4.1 97.2 322.4)"/>
<ellipse cx="117.1" cy="323.5" rx="8.3" ry="2.4" fill="url(#ag60)" stroke="#c8c8c8" stroke-width="0.9" transform="rotate(3.3 117.1 323.5)"/>
<ellipse cx="136.0" cy="323.0" rx="8.7" ry="3.4" fill="url(#ag40)" stroke="#c8c8c8" stroke-width="0.9" transform="rotate(-0.6 136.0 323.0)"/>
<ellipse cx="155.6" cy="322.4" rx="9.4" ry="2.3" fill="url(#ag50)" stroke="#c8c8c8" stroke-width="0.9" transform="rotate(3.4 155.6 322.4)"/>
<ellipse cx="174.2" cy="323.1" rx="7.6" ry="2.7" fill="url(#ag60)" stroke="#c8c8c8" stroke-width="0.9" transform="rotate(-1.2 174.2 323.1)"/>
<ellipse cx="189.4" cy="323.3" rx="5.4" ry="3.3" fill="url(#ag40)" stroke="#c8c8c8" stroke-width="0.9" transform="rotate(5.3 189.4 323.3)"/>
<ellipse cx="206.2" cy="321.7" rx="9.1" ry="3.0" fill="url(#ag70)" stroke="#c8c8c8" stroke-width="0.9" transform="rotate(2.8 206.2 321.7)"/>
<ellipse cx="228.6" cy="322.8" rx="10.8" ry="2.6" fill="url(#ag40)" stroke="#c8c8c8" stroke-width="0.9" transform="rotate(5.1 228.6 322.8)"/>
<ellipse cx="33.2" cy="329.7" rx="8.7" ry="2.6" fill="url(#ag70)" stroke="#c8c8c8" stroke-width="0.9" transform="rotate(1.5 33.2 329.7)"/>
<ellipse cx="52.4" cy="329.2" rx="8.4" ry="2.1" fill="url(#ag40)" stroke="#c8c8c8" stroke-width="0.9" transform="rotate(-1.9 52.4 329.2)"/>
<ellipse cx="68.7" cy="328.6" rx="6.3" ry="3.3" fill="url(#ag50)" stroke="#c8c8c8" stroke-width="0.9" transform="rotate(-0.2 68.7 328.6)"/>
<ellipse cx="86.2" cy="330.1" rx="8.9" ry="2.9" fill="url(#ag40)" stroke="#c8c8c8" stroke-width="0.9" transform="rotate(-2.7 86.2 330.1)"/>
<ellipse cx="107.5" cy="329.3" rx="11.1" ry="2.2" fill="url(#ag40)" stroke="#c8c8c8" stroke-width="0.9" transform="rotate(4.6 107.5 329.3)"/>
<ellipse cx="129.7" cy="328.9" rx="9.1" ry="3.0" fill="url(#ag70)" stroke="#c8c8c8" stroke-width="0.9" transform="rotate(5.1 129.7 328.9)"/>
<ellipse cx="152.4" cy="328.7" rx="11.1" ry="3.1" fill="url(#ag60)" stroke="#c8c8c8" stroke-width="0.9" transform="rotate(2.8 152.4 328.7)"/>
<ellipse cx="173.1" cy="329.6" rx="8.0" ry="2.6" fill="url(#ag40)" stroke="#c8c8c8" stroke-width="0.9" transform="rotate(4.2 173.1 329.6)"/>
<ellipse cx="192.4" cy="328.6" rx="9.7" ry="2.3" fill="url(#ag40)" stroke="#c8c8c8" stroke-width="0.9" transform="rotate(-5.3 192.4 328.6)"/>
<ellipse cx="214.2" cy="329.1" rx="10.3" ry="2.5" fill="url(#ag60)" stroke="#c8c8c8" stroke-width="0.9" transform="rotate(-4.8 214.2 329.1)"/>
<ellipse cx="235.9" cy="329.3" rx="9.4" ry="3.2" fill="url(#ag60)" stroke="#c8c8c8" stroke-width="0.9" transform="rotate(2.8 235.9 329.3)"/>
<ellipse cx="33.8" cy="336.7" rx="6.2" ry="3.5" fill="url(#ag70)" stroke="#c8c8c8" stroke-width="0.9" transform="rotate(3.3 33.8 336.7)"/>
<ellipse cx="52.3" cy="336.8" rx="10.0" ry="3.2" fill="url(#ag40)" stroke="#c8c8c8" stroke-width="0.9" transform="rotate(1.7 52.3 336.8)"/>
<ellipse cx="75.0" cy="337.4" rx="10.6" ry="3.7" fill="url(#ag40)" stroke="#c8c8c8" stroke-width="0.9" transform="rotate(-0.7 75.0 337.4)"/>
<ellipse cx="93.3" cy="335.8" rx="5.5" ry="2.7" fill="url(#ag60)" stroke="#c8c8c8" stroke-width="0.9" transform="rotate(4.5 93.3 335.8)"/>
<ellipse cx="109.7" cy="337.2" rx="8.3" ry="3.3" fill="url(#ag50)" stroke="#c8c8c8" stroke-width="0.9" transform="rotate(3.7 109.7 337.2)"/>
<ellipse cx="127.9" cy="336.6" rx="8.5" ry="2.8" fill="url(#ag40)" stroke="#c8c8c8" stroke-width="0.9" transform="rotate(3.5 127.9 336.6)"/>
<ellipse cx="142.2" cy="336.5" rx="4.2" ry="2.8" fill="url(#ag70)" stroke="#c8c8c8" stroke-width="0.9" transform="rotate(5.6 142.2 336.5)"/>
<ellipse cx="154.6" cy="336.2" rx="5.8" ry="2.8" fill="url(#ag50)" stroke="#c8c8c8" stroke-width="0.9" transform="rotate(1.7 154.6 336.2)"/>
<ellipse cx="167.0" cy="336.1" rx="5.4" ry="3.3" fill="url(#ag40)" stroke="#c8c8c8" stroke-width="0.9" transform="rotate(4.9 167.0 336.1)"/>
<ellipse cx="183.1" cy="335.7" rx="9.2" ry="2.6" fill="url(#ag60)" stroke="#c8c8c8" stroke-width="0.9" transform="rotate(-1.5 183.1 335.7)"/>
<ellipse cx="200.6" cy="336.7" rx="6.5" ry="3.7" fill="url(#ag40)" stroke="#c8c8c8" stroke-width="0.9" transform="rotate(1.5 200.6 336.7)"/>
<ellipse cx="218.1" cy="336.0" rx="9.6" ry="2.7" fill="url(#ag40)" stroke="#c8c8c8" stroke-width="0.9" transform="rotate(-4.9 218.1 336.0)"/>
<ellipse cx="234.4" cy="335.9" rx="5.2" ry="3.2" fill="url(#ag60)" stroke="#c8c8c8" stroke-width="0.9" transform="rotate(4.2 234.4 335.9)"/>
<ellipse cx="42.6" cy="344.7" rx="4.5" ry="3.3" fill="url(#ag60)" stroke="#c8c8c8" stroke-width="0.9" transform="rotate(-5.9 42.6 344.7)"/>
<ellipse cx="53.7" cy="344.1" rx="4.2" ry="2.5" fill="url(#ag60)" stroke="#c8c8c8" stroke-width="0.9" transform="rotate(-2.2 53.7 344.1)"/>
<ellipse cx="71.1" cy="344.4" rx="10.9" ry="3.6" fill="url(#ag70)" stroke="#c8c8c8" stroke-width="0.9" transform="rotate(2.0 71.1 344.4)"/>
<ellipse cx="91.9" cy="343.5" rx="7.6" ry="3.4" fill="url(#ag70)" stroke="#c8c8c8" stroke-width="0.9" transform="rotate(3.5 91.9 343.5)"/>
<ellipse cx="112.1" cy="344.6" rx="11.0" ry="2.8" fill="url(#ag70)" stroke="#c8c8c8" stroke-width="0.9" transform="rotate(-2.3 112.1 344.6)"/>
<ellipse cx="135.1" cy="343.4" rx="10.5" ry="3.2" fill="url(#ag50)" stroke="#c8c8c8" stroke-width="0.9" transform="rotate(4.4 135.1 343.4)"/>
<ellipse cx="158.3" cy="343.8" rx="10.5" ry="2.8" fill="url(#ag60)" stroke="#c8c8c8" stroke-width="0.9" transform="rotate(-4.9 158.3 343.8)"/>
<ellipse cx="175.5" cy="343.5" rx="5.0" ry="2.8" fill="url(#ag40)" stroke="#c8c8c8" stroke-width="0.9" transform="rotate(0.8 175.5 343.5)"/>
<ellipse cx="187.1" cy="344.9" rx="4.9" ry="3.5" fill="url(#ag40)" stroke="#c8c8c8" stroke-width="0.9" transform="rotate(4.8 187.1 344.9)"/>
<ellipse cx="202.6" cy="343.5" rx="9.3" ry="2.8" fill="url(#ag70)" stroke="#c8c8c8" stroke-width="0.9" transform="rotate(2.9 202.6 343.5)"/>
<ellipse cx="219.8" cy="345.0" rx="6.6" ry="3.6" fill="url(#ag40)" stroke="#c8c8c8" stroke-width="0.9" transform="rotate(3.4 219.8 345.0)"/>
<ellipse cx="239.5" cy="345.3" rx="10.9" ry="2.5" fill="url(#ag60)" stroke="#c8c8c8" stroke-width="0.9" transform="rotate(-4.1 239.5 345.3)"/>
<ellipse cx="41.0" cy="351.2" rx="5.7" ry="2.9" fill="url(#ag70)" stroke="#c8c8c8" stroke-width="0.9" transform="rotate(-0.5 41.0 351.2)"/>
<ellipse cx="57.9" cy="350.9" rx="9.2" ry="3.2" fill="url(#ag70)" stroke="#c8c8c8" stroke-width="0.9" transform="rotate(3.6 57.9 350.9)"/>
<ellipse cx="76.9" cy="350.7" rx="8.0" ry="3.4" fill="url(#ag60)" stroke="#c8c8c8" stroke-width="0.9" transform="rotate(-0.5 76.9 350.7)"/>
<ellipse cx="93.9" cy="352.0" rx="6.6" ry="3.0" fill="url(#ag70)" stroke="#c8c8c8" stroke-width="0.9" transform="rotate(4.3 93.9 352.0)"/>
<ellipse cx="112.4" cy="350.5" rx="10.3" ry="3.3" fill="url(#ag50)" stroke="#c8c8c8" stroke-width="0.9" transform="rotate(0.8 112.4 350.5)"/>
<ellipse cx="130.4" cy="350.8" rx="5.6" ry="3.1" fill="url(#ag70)" stroke="#c8c8c8" stroke-width="0.9" transform="rotate(-5.6 130.4 350.8)"/>
<ellipse cx="143.4" cy="351.6" rx="5.8" ry="2.6" fill="url(#ag60)" stroke="#c8c8c8" stroke-width="0.9" transform="rotate(-3.7 143.4 351.6)"/>
<ellipse cx="159.8" cy="351.0" rx="9.0" ry="3.3" fill="url(#ag60)" stroke="#c8c8c8" stroke-width="0.9" transform="rotate(-2.0 159.8 351.0)"/>
<ellipse cx="176.5" cy="351.1" rx="6.3" ry="3.2" fill="url(#ag50)" stroke="#c8c8c8" stroke-width="0.9" transform="rotate(-2.2 176.5 351.1)"/>
<ellipse cx="193.4" cy="351.4" rx="9.2" ry="2.9" fill="url(#ag60)" stroke="#c8c8c8" stroke-width="0.9" transform="rotate(0.9 193.4 351.4)"/>
<ellipse cx="212.6" cy="351.3" rx="8.5" ry="2.7" fill="url(#ag60)" stroke="#c8c8c8" stroke-width="0.9" transform="rotate(3.4 212.6 351.3)"/>
<ellipse cx="229.1" cy="350.5" rx="5.5" ry="2.2" fill="url(#ag60)" stroke="#c8c8c8" stroke-width="0.9" transform="rotate(-4.5 229.1 350.5)"/>
<ellipse cx="42.9" cy="356.8" rx="8.6" ry="2.5" fill="url(#ag70)" stroke="#c8c8c8" stroke-width="0.9" transform="rotate(-0.8 42.9 356.8)"/>
<ellipse cx="63.7" cy="357.9" rx="10.6" ry="2.1" fill="url(#ag50)" stroke="#c8c8c8" stroke-width="0.9" transform="rotate(3.7 63.7 357.9)"/>
<ellipse cx="85.9" cy="358.2" rx="9.5" ry="2.0" fill="url(#ag50)" stroke="#c8c8c8" stroke-width="0.9" transform="rotate(-4.2 85.9 358.2)"/>
<ellipse cx="101.9" cy="358.3" rx="5.0" ry="1.6" fill="url(#ag50)" stroke="#c8c8c8" stroke-width="0.9" transform="rotate(-4.3 101.9 358.3)"/>
<ellipse cx="117.7" cy="357.0" rx="8.6" ry="2.5" fill="url(#ag70)" stroke="#c8c8c8" stroke-width="0.9" transform="rotate(5.4 117.7 357.0)"/>
<ellipse cx="137.7" cy="356.8" rx="9.1" ry="1.6" fill="url(#ag40)" stroke="#c8c8c8" stroke-width="0.9" transform="rotate(-2.7 137.7 356.8)"/>
<ellipse cx="157.2" cy="357.5" rx="8.3" ry="1.9" fill="url(#ag40)" stroke="#c8c8c8" stroke-width="0.9" transform="rotate(3.0 157.2 357.5)"/>
<ellipse cx="172.7" cy="358.5" rx="5.8" ry="2.7" fill="url(#ag60)" stroke="#c8c8c8" stroke-width="0.9" transform="rotate(-0.1 172.7 358.5)"/>
<ellipse cx="187.3" cy="358.7" rx="6.7" ry="2.7" fill="url(#ag50)" stroke="#c8c8c8" stroke-width="0.9" transform="rotate(-5.0 187.3 358.7)"/>
<ellipse cx="202.9" cy="358.4" rx="6.7" ry="1.9" fill="url(#ag60)" stroke="#c8c8c8" stroke-width="0.9" transform="rotate(3.1 202.9 358.4)"/>
<ellipse cx="220.4" cy="358.5" rx="8.8" ry="2.5" fill="url(#ag70)" stroke="#c8c8c8" stroke-width="0.9" transform="rotate(0.2 220.4 358.5)"/>
<ellipse cx="44.4" cy="363.8" rx="8.5" ry="3.2" fill="url(#ag50)" stroke="#c8c8c8" stroke-width="0.9" transform="rotate(6.0 44.4 363.8)"/>
<ellipse cx="62.1" cy="364.3" rx="6.8" ry="2.7" fill="url(#ag50)" stroke="#c8c8c8" stroke-width="0.9" transform="rotate(-3.2 62.1 364.3)"/>
<ellipse cx="78.8" cy="363.4" rx="7.8" ry="2.9" fill="url(#ag60)" stroke="#c8c8c8" stroke-width="0.9" transform="rotate(1.8 78.8 363.4)"/>
<ellipse cx="98.6" cy="364.4" rx="10.3" ry="2.7" fill="url(#ag60)" stroke="#c8c8c8" stroke-width="0.9" transform="rotate(1.9 98.6 364.4)"/>
<ellipse cx="119.6" cy="364.0" rx="9.0" ry="2.2" fill="url(#ag40)" stroke="#c8c8c8" stroke-width="0.9" transform="rotate(-5.2 119.6 364.0)"/>
<ellipse cx="136.4" cy="363.9" rx="6.7" ry="2.5" fill="url(#ag40)" stroke="#c8c8c8" stroke-width="0.9" transform="rotate(-0.5 136.4 363.9)"/>
<ellipse cx="151.1" cy="363.6" rx="6.2" ry="2.3" fill="url(#ag70)" stroke="#c8c8c8" stroke-width="0.9" transform="rotate(-0.1 151.1 363.6)"/>
<ellipse cx="165.8" cy="364.9" rx="7.3" ry="3.4" fill="url(#ag50)" stroke="#c8c8c8" stroke-width="0.9" transform="rotate(1.6 165.8 364.9)"/>
<ellipse cx="185.2" cy="364.8" rx="10.0" ry="3.2" fill="url(#ag40)" stroke="#c8c8c8" stroke-width="0.9" transform="rotate(-5.5 185.2 364.8)"/>
<ellipse cx="207.4" cy="363.3" rx="10.5" ry="2.7" fill="url(#ag60)" stroke="#c8c8c8" stroke-width="0.9" transform="rotate(5.3 207.4 363.3)"/>
<ellipse cx="228.2" cy="364.0" rx="7.9" ry="2.4" fill="url(#ag70)" stroke="#c8c8c8" stroke-width="0.9" transform="rotate(-3.8 228.2 364.0)"/>
<ellipse cx="44.8" cy="369.6" rx="6.3" ry="1.6" fill="url(#ag50)" stroke="#c8c8c8" stroke-width="0.9" transform="rotate(-0.4 44.8 369.6)"/>
<ellipse cx="59.1" cy="369.9" rx="6.2" ry="1.6" fill="url(#ag50)" stroke="#c8c8c8" stroke-width="0.9" transform="rotate(0.5 59.1 369.9)"/>
<ellipse cx="78.8" cy="369.9" rx="11.0" ry="1.9" fill="url(#ag60)" stroke="#c8c8c8" stroke-width="0.9" transform="rotate(1.9 78.8 369.9)"/>
<ellipse cx="97.8" cy="370.0" rx="6.1" ry="1.9" fill="url(#ag40)" stroke="#c8c8c8" stroke-width="0.9" transform="rotate(-0.6 97.8 370.0)"/>
<ellipse cx="116.0" cy="370.1" rx="9.6" ry="2.7" fill="url(#ag50)" stroke="#c8c8c8" stroke-width="0.9" transform="rotate(6.0 116.0 370.1)"/>
<ellipse cx="137.7" cy="370.4" rx="10.5" ry="2.1" fill="url(#ag40)" stroke="#c8c8c8" stroke-width="0.9" transform="rotate(4.5 137.7 370.4)"/>
<ellipse cx="159.4" cy="371.2" rx="9.7" ry="1.8" fill="url(#ag50)" stroke="#c8c8c8" stroke-width="0.9" transform="rotate(-4.4 159.4 371.2)"/>
<ellipse cx="175.4" cy="369.6" rx="5.1" ry="2.7" fill="url(#ag50)" stroke="#c8c8c8" stroke-width="0.9" transform="rotate(-2.4 175.4 369.6)"/>
<ellipse cx="192.1" cy="370.1" rx="9.5" ry="1.9" fill="url(#ag50)" stroke="#c8c8c8" stroke-width="0.9" transform="rotate(-2.1 192.1 370.1)"/>
<ellipse cx="208.9" cy="371.3" rx="6.1" ry="1.9" fill="url(#ag60)" stroke="#c8c8c8" stroke-width="0.9" transform="rotate(-5.4 208.9 371.3)"/>
<ellipse cx="221.7" cy="370.5" rx="4.5" ry="1.7" fill="url(#ag50)" stroke="#c8c8c8" stroke-width="0.9" transform="rotate(2.7 221.7 370.5)"/>
<ellipse cx="233.0" cy="371.3" rx="4.3" ry="2.7" fill="url(#ag70)" stroke="#c8c8c8" stroke-width="0.9" transform="rotate(3.8 233.0 371.3)"/>
<ellipse cx="40.0" cy="376.6" rx="8.3" ry="3.0" fill="url(#ag50)" stroke="#c8c8c8" stroke-width="0.9" transform="rotate(4.3 40.0 376.6)"/>
<ellipse cx="54.2" cy="377.6" rx="4.6" ry="3.5" fill="url(#ag50)" stroke="#c8c8c8" stroke-width="0.9" transform="rotate(-1.7 54.2 377.6)"/>
<ellipse cx="66.2" cy="376.9" rx="5.3" ry="2.6" fill="url(#ag60)" stroke="#c8c8c8" stroke-width="0.9" transform="rotate(-0.2 66.2 376.9)"/>
<ellipse cx="83.8" cy="377.0" rx="10.8" ry="3.2" fill="url(#ag60)" stroke="#c8c8c8" stroke-width="0.9" transform="rotate(0.6 83.8 377.0)"/>
<ellipse cx="105.7" cy="376.8" rx="9.7" ry="3.5" fill="url(#ag50)" stroke="#c8c8c8" stroke-width="0.9" transform="rotate(-4.2 105.7 376.8)"/>
<ellipse cx="128.3" cy="376.9" rx="10.5" ry="3.2" fill="url(#ag50)" stroke="#c8c8c8" stroke-width="0.9" transform="rotate(1.6 128.3 376.9)"/>
<ellipse cx="147.4" cy="377.8" rx="6.7" ry="3.3" fill="url(#ag40)" stroke="#c8c8c8" stroke-width="0.9" transform="rotate(0.0 147.4 377.8)"/>
<ellipse cx="161.5" cy="376.8" rx="6.2" ry="2.8" fill="url(#ag50)" stroke="#c8c8c8" stroke-width="0.9" transform="rotate(-3.5 161.5 376.8)"/>
<ellipse cx="178.3" cy="377.2" rx="8.8" ry="2.4" fill="url(#ag40)" stroke="#c8c8c8" stroke-width="0.9" transform="rotate(-5.4 178.3 377.2)"/>
<ellipse cx="196.1" cy="377.6" rx="7.4" ry="2.4" fill="url(#ag70)" stroke="#c8c8c8" stroke-width="0.9" transform="rotate(-5.8 196.1 377.6)"/>
<ellipse cx="215.8" cy="377.8" rx="10.1" ry="2.6" fill="url(#ag40)" stroke="#c8c8c8" stroke-width="0.9" transform="rotate(0.9 215.8 377.8)"/>
<ellipse cx="236.7" cy="377.8" rx="8.9" ry="2.4" fill="url(#ag40)" stroke="#c8c8c8" stroke-width="0.9" transform="rotate(4.5 236.7 377.8)"/>
<ellipse cx="37.8" cy="383.5" rx="7.8" ry="2.1" fill="url(#ag70)" stroke="#c8c8c8" stroke-width="0.9" transform="rotate(-1.8 37.8 383.5)"/>
<ellipse cx="52.5" cy="383.0" rx="5.3" ry="1.7" fill="url(#ag60)" stroke="#c8c8c8" stroke-width="0.9" transform="rotate(-4.4 52.5 383.0)"/>
<ellipse cx="69.2" cy="384.1" rx="9.9" ry="2.8" fill="url(#ag60)" stroke="#c8c8c8" stroke-width="0.9" transform="rotate(-1.9 69.2 384.1)"/>
<ellipse cx="89.7" cy="383.9" rx="8.5" ry="2.0" fill="url(#ag50)" stroke="#c8c8c8" stroke-width="0.9" transform="rotate(-2.2 89.7 383.9)"/>
<ellipse cx="107.5" cy="383.5" rx="7.8" ry="1.7" fill="url(#ag40)" stroke="#c8c8c8" stroke-width="0.9" transform="rotate(-3.7 107.5 383.5)"/>
<ellipse cx="122.0" cy="383.6" rx="5.3" ry="2.5" fill="url(#ag60)" stroke="#c8c8c8" stroke-width="0.9" transform="rotate(3.7 122.0 383.6)"/>
<ellipse cx="133.7" cy="383.9" rx="4.7" ry="2.1" fill="url(#ag40)" stroke="#c8c8c8" stroke-width="0.9" transform="rotate(3.2 133.7 383.9)"/>
<ellipse cx="149.7" cy="382.7" rx="9.1" ry="2.4" fill="url(#ag50)" stroke="#c8c8c8" stroke-width="0.9" transform="rotate(-1.4 149.7 382.7)"/>
<ellipse cx="166.4" cy="383.1" rx="5.2" ry="1.9" fill="url(#ag40)" stroke="#c8c8c8" stroke-width="0.9" transform="rotate(5.1 166.4 383.1)"/>
<ellipse cx="182.5" cy="383.3" rx="8.6" ry="2.5" fill="url(#ag40)" stroke="#c8c8c8" stroke-width="0.9" transform="rotate(-0.5 182.5 383.3)"/>
<ellipse cx="199.8" cy="384.3" rx="7.3" ry="2.2" fill="url(#ag50)" stroke="#c8c8c8" stroke-width="0.9" transform="rotate(-0.0 199.8 384.3)"/>
<ellipse cx="217.2" cy="383.8" rx="8.5" ry="2.2" fill="url(#ag40)" stroke="#c8c8c8" stroke-width="0.9" transform="rotate(-4.6 217.2 383.8)"/>
<ellipse cx="235.4" cy="382.7" rx="8.4" ry="3.0" fill="url(#ag50)" stroke="#c8c8c8" stroke-width="0.9" transform="rotate(0.1 235.4 382.7)"/>
<ellipse cx="42.6" cy="389.0" rx="8.8" ry="2.5" fill="url(#ag60)" stroke="#c8c8c8" stroke-width="0.9" transform="rotate(-3.1 42.6 389.0)"/>
<ellipse cx="62.7" cy="388.7" rx="10.1" ry="2.4" fill="url(#ag60)" stroke="#c8c8c8" stroke-width="0.9" transform="rotate(-2.4 62.7 388.7)"/>
<ellipse cx="80.3" cy="389.8" rx="5.2" ry="2.7" fill="url(#ag40)" stroke="#c8c8c8" stroke-width="0.9" transform="rotate(-3.9 80.3 389.8)"/>
<ellipse cx="92.8" cy="388.5" rx="5.0" ry="1.8" fill="url(#ag60)" stroke="#c8c8c8" stroke-width="0.9" transform="rotate(-3.6 92.8 388.5)"/>
<ellipse cx="104.6" cy="390.0" rx="4.3" ry="2.8" fill="url(#ag50)" stroke="#c8c8c8" stroke-width="0.9" transform="rotate(3.7 104.6 390.0)"/>
<ellipse cx="119.9" cy="389.6" rx="9.6" ry="2.8" fill="url(#ag70)" stroke="#c8c8c8" stroke-width="0.9" transform="rotate(4.2 119.9 389.6)"/>
<ellipse cx="137.9" cy="388.5" rx="6.0" ry="2.5" fill="url(#ag60)" stroke="#c8c8c8" stroke-width="0.9" transform="rotate(-3.9 137.9 388.5)"/>
<ellipse cx="153.2" cy="388.5" rx="7.5" ry="2.5" fill="url(#ag60)" stroke="#c8c8c8" stroke-width="0.9" transform="rotate(5.1 153.2 388.5)"/>
<ellipse cx="173.0" cy="389.4" rx="10.4" ry="2.0" fill="url(#ag70)" stroke="#c8c8c8" stroke-width="0.9" transform="rotate(0.5 173.0 389.4)"/>
<ellipse cx="194.3" cy="389.1" rx="8.6" ry="2.2" fill="url(#ag60)" stroke="#c8c8c8" stroke-width="0.9" transform="rotate(-4.2 194.3 389.1)"/>
<ellipse cx="213.9" cy="390.0" rx="10.0" ry="2.3" fill="url(#ag70)" stroke="#c8c8c8" stroke-width="0.9" transform="rotate(4.8 213.9 390.0)"/>
<ellipse cx="232.2" cy="389.0" rx="5.9" ry="1.9" fill="url(#ag60)" stroke="#c8c8c8" stroke-width="0.9" transform="rotate(-0.4 232.2 389.0)"/>
<ellipse cx="48.0" cy="396.4" rx="9.4" ry="3.2" fill="url(#ag70)" stroke="#c8c8c8" stroke-width="0.9" transform="rotate(5.5 48.0 396.4)"/>
<ellipse cx="68.4" cy="396.0" rx="9.1" ry="3.3" fill="url(#ag70)" stroke="#c8c8c8" stroke-width="0.9" transform="rotate(-5.8 68.4 396.0)"/>
<ellipse cx="87.7" cy="395.6" rx="8.0" ry="3.9" fill="url(#ag40)" stroke="#c8c8c8" stroke-width="0.9" transform="rotate(-4.8 87.7 395.6)"/>
<ellipse cx="104.3" cy="396.4" rx="6.2" ry="3.0" fill="url(#ag60)" stroke="#c8c8c8" stroke-width="0.9" transform="rotate(5.6 104.3 396.4)"/>
<ellipse cx="117.8" cy="396.6" rx="5.4" ry="2.8" fill="url(#ag60)" stroke="#c8c8c8" stroke-width="0.9" transform="rotate(-5.1 117.8 396.6)"/>
<ellipse cx="133.8" cy="396.5" rx="9.5" ry="3.8" fill="url(#ag50)" stroke="#c8c8c8" stroke-width="0.9" transform="rotate(-4.1 133.8 396.5)"/>
<ellipse cx="151.1" cy="396.4" rx="6.1" ry="3.2" fill="url(#ag60)" stroke="#c8c8c8" stroke-width="0.9" transform="rotate(4.7 151.1 396.4)"/>
<ellipse cx="165.9" cy="397.3" rx="6.7" ry="3.2" fill="url(#ag40)" stroke="#c8c8c8" stroke-width="0.9" transform="rotate(-2.7 165.9 397.3)"/>
<ellipse cx="184.5" cy="396.8" rx="9.6" ry="3.8" fill="url(#ag70)" stroke="#c8c8c8" stroke-width="0.9" transform="rotate(-6.0 184.5 396.8)"/>
<ellipse cx="200.9" cy="395.9" rx="5.6" ry="3.3" fill="url(#ag40)" stroke="#c8c8c8" stroke-width="0.9" transform="rotate(-4.4 200.9 395.9)"/>
<ellipse cx="216.1" cy="396.6" rx="7.5" ry="3.9" fill="url(#ag70)" stroke="#c8c8c8" stroke-width="0.9" transform="rotate(2.2 216.1 396.6)"/>
<ellipse cx="233.4" cy="395.6" rx="7.7" ry="3.9" fill="url(#ag40)" stroke="#c8c8c8" stroke-width="0.9" transform="rotate(-2.5 233.4 395.6)"/>
<ellipse cx="40.9" cy="403.6" rx="7.2" ry="2.5" fill="url(#ag50)" stroke="#c8c8c8" stroke-width="0.9" transform="rotate(5.7 40.9 403.6)"/>
<ellipse cx="60.3" cy="403.3" rx="10.5" ry="2.5" fill="url(#ag60)" stroke="#c8c8c8" stroke-width="0.9" transform="rotate(3.2 60.3 403.3)"/>
<ellipse cx="80.0" cy="403.2" rx="6.9" ry="2.4" fill="url(#ag60)" stroke="#c8c8c8" stroke-width="0.9" transform="rotate(1.4 80.0 403.2)"/>
<ellipse cx="96.2" cy="403.3" rx="7.6" ry="1.7" fill="url(#ag50)" stroke="#c8c8c8" stroke-width="0.9" transform="rotate(-1.4 96.2 403.3)"/>
<ellipse cx="110.3" cy="402.5" rx="5.3" ry="2.1" fill="url(#ag70)" stroke="#c8c8c8" stroke-width="0.9" transform="rotate(-1.5 110.3 402.5)"/>
<ellipse cx="127.1" cy="404.2" rx="9.0" ry="2.7" fill="url(#ag70)" stroke="#c8c8c8" stroke-width="0.9" transform="rotate(1.8 127.1 404.2)"/>
<ellipse cx="141.5" cy="404.2" rx="4.2" ry="2.8" fill="url(#ag60)" stroke="#c8c8c8" stroke-width="0.9" transform="rotate(-1.9 141.5 404.2)"/>
<ellipse cx="156.2" cy="403.0" rx="7.9" ry="1.7" fill="url(#ag60)" stroke="#c8c8c8" stroke-width="0.9" transform="rotate(1.1 156.2 403.0)"/>
<ellipse cx="170.6" cy="403.1" rx="4.2" ry="2.7" fill="url(#ag70)" stroke="#c8c8c8" stroke-width="0.9" transform="rotate(4.1 170.6 403.1)"/>
<ellipse cx="184.6" cy="403.1" rx="7.4" ry="1.9" fill="url(#ag60)" stroke="#c8c8c8" stroke-width="0.9" transform="rotate(-0.3 184.6 403.1)"/>
<ellipse cx="201.2" cy="402.3" rx="7.6" ry="2.3" fill="url(#ag40)" stroke="#c8c8c8" stroke-width="0.9" transform="rotate(0.9 201.2 402.3)"/>
<ellipse cx="215.4" cy="403.2" rx="5.5" ry="2.6" fill="url(#ag70)" stroke="#c8c8c8" stroke-width="0.9" transform="rotate(3.1 215.4 403.2)"/>
<ellipse cx="230.5" cy="403.3" rx="7.2" ry="2.7" fill="url(#ag70)" stroke="#c8c8c8" stroke-width="0.9" transform="rotate(0.6 230.5 403.3)"/>
<ellipse cx="38.4" cy="410.7" rx="10.4" ry="2.6" fill="url(#ag50)" stroke="#c8c8c8" stroke-width="0.9" transform="rotate(-1.2 38.4 410.7)"/>
<ellipse cx="60.6" cy="410.3" rx="10.3" ry="3.3" fill="url(#ag50)" stroke="#c8c8c8" stroke-width="0.9" transform="rotate(4.0 60.6 410.3)"/>
<ellipse cx="79.8" cy="409.4" rx="7.7" ry="2.3" fill="url(#ag70)" stroke="#c8c8c8" stroke-width="0.9" transform="rotate(-2.4 79.8 409.4)"/>
<ellipse cx="98.9" cy="410.8" rx="8.9" ry="3.0" fill="url(#ag70)" stroke="#c8c8c8" stroke-width="0.9" transform="rotate(-1.1 98.9 410.8)"/>
<ellipse cx="118.3" cy="409.3" rx="8.6" ry="2.4" fill="url(#ag40)" stroke="#c8c8c8" stroke-width="0.9" transform="rotate(1.3 118.3 409.3)"/>
<ellipse cx="133.5" cy="410.7" rx="4.4" ry="2.7" fill="url(#ag70)" stroke="#c8c8c8" stroke-width="0.9" transform="rotate(-3.3 133.5 410.7)"/>
<ellipse cx="146.6" cy="410.2" rx="6.6" ry="2.7" fill="url(#ag40)" stroke="#c8c8c8" stroke-width="0.9" transform="rotate(-3.8 146.6 410.2)"/>
<ellipse cx="166.3" cy="409.6" rx="10.5" ry="2.5" fill="url(#ag70)" stroke="#c8c8c8" stroke-width="0.9" transform="rotate(5.5 166.3 409.6)"/>
<ellipse cx="184.5" cy="409.5" rx="5.7" ry="3.1" fill="url(#ag40)" stroke="#c8c8c8" stroke-width="0.9" transform="rotate(-2.3 184.5 409.5)"/>
<ellipse cx="198.1" cy="409.1" rx="6.5" ry="2.7" fill="url(#ag70)" stroke="#c8c8c8" stroke-width="0.9" transform="rotate(-2.8 198.1 409.1)"/>
<ellipse cx="212.2" cy="408.9" rx="5.0" ry="2.7" fill="url(#ag60)" stroke="#c8c8c8" stroke-width="0.9" transform="rotate(-3.0 212.2 408.9)"/>
<ellipse cx="228.3" cy="410.1" rx="9.4" ry="2.8" fill="url(#ag70)" stroke="#c8c8c8" stroke-width="0.9" transform="rotate(-3.1 228.3 410.1)"/>
<ellipse cx="35.7" cy="416.6" rx="8.2" ry="2.2" fill="url(#ag40)" stroke="#c8c8c8" stroke-width="0.9" transform="rotate(-3.9 35.7 416.6)"/>
<ellipse cx="57.0" cy="416.4" rx="10.7" ry="3.1" fill="url(#ag40)" stroke="#c8c8c8" stroke-width="0.9" transform="rotate(-5.1 57.0 416.4)"/>
<ellipse cx="76.1" cy="415.8" rx="7.1" ry="3.2" fill="url(#ag50)" stroke="#c8c8c8" stroke-width="0.9" transform="rotate(-0.0 76.1 415.8)"/>
<ellipse cx="93.5" cy="417.3" rx="7.7" ry="2.9" fill="url(#ag50)" stroke="#c8c8c8" stroke-width="0.9" transform="rotate(2.1 93.5 417.3)"/>
<ellipse cx="107.7" cy="417.3" rx="5.4" ry="2.7" fill="url(#ag60)" stroke="#c8c8c8" stroke-width="0.9" transform="rotate(0.2 107.7 417.3)"/>
<ellipse cx="121.4" cy="416.0" rx="6.0" ry="2.6" fill="url(#ag70)" stroke="#c8c8c8" stroke-width="0.9" transform="rotate(-2.5 121.4 416.0)"/>
<ellipse cx="139.3" cy="416.3" rx="9.6" ry="2.6" fill="url(#ag70)" stroke="#c8c8c8" stroke-width="0.9" transform="rotate(2.8 139.3 416.3)"/>
<ellipse cx="158.2" cy="416.5" rx="7.5" ry="3.0" fill="url(#ag60)" stroke="#c8c8c8" stroke-width="0.9" transform="rotate(-3.5 158.2 416.5)"/>
<ellipse cx="174.3" cy="416.4" rx="7.1" ry="2.8" fill="url(#ag70)" stroke="#c8c8c8" stroke-width="0.9" transform="rotate(-2.4 174.3 416.4)"/>
<ellipse cx="190.5" cy="416.3" rx="7.8" ry="2.7" fill="url(#ag40)" stroke="#c8c8c8" stroke-width="0.9" transform="rotate(-1.6 190.5 416.3)"/>
<ellipse cx="208.9" cy="415.9" rx="8.9" ry="2.7" fill="url(#ag50)" stroke="#c8c8c8" stroke-width="0.9" transform="rotate(0.2 208.9 415.9)"/>
<ellipse cx="228.8" cy="416.7" rx="9.7" ry="3.0" fill="url(#ag40)" stroke="#c8c8c8" stroke-width="0.9" transform="rotate(-3.0 228.8 416.7)"/>
<rect x="38.0" y="286.5" width="65.0" height="25.0" fill="#1e1e1e" opacity="0.7"/>
<ellipse cx="180.0" cy="322.0" rx="45.0" ry="15.0" fill="#e6e6e6" filter="url(#bl6)" opacity="0.15"/>
<ellipse cx="80.0" cy="390.0" rx="60.0" ry="20.0" fill="#1e1e1e" filter="url(#bl6)" opacity="0.2"/>
<rect x="18.0" y="266.5" width="54.2" height="56.2" fill="#000" opacity="0.177" filter="url(#bl4)"/>
<rect x="64.2" y="266.5" width="38.2" height="56.2" fill="#000" opacity="0.287" filter="url(#bl4)"/>
<rect x="94.3" y="266.5" width="38.2" height="56.2" fill="#fff" opacity="0.161" filter="url(#bl4)"/>
<rect x="124.5" y="266.5" width="38.2" height="56.2" fill="#000" opacity="0.118" filter="url(#bl4)"/>
<rect x="154.7" y="266.5" width="38.2" height="56.2" fill="#000" opacity="0.091" filter="url(#bl4)"/>
<rect x="184.8" y="266.5" width="54.2" height="56.2" fill="#000" opacity="0.026" filter="url(#bl4)"/>
<rect x="18.0" y="314.8" width="54.2" height="40.2" fill="#000" opacity="0.074" filter="url(#bl4)"/>
<rect x="64.2" y="314.8" width="38.2" height="40.2" fill="#fff" opacity="0.117" filter="url(#bl4)"/>
<rect x="94.3" y="314.8" width="38.2" height="40.2" fill="#000" opacity="0.123" filter="url(#bl4)"/>
<rect x="124.5" y="314.8" width="38.2" height="40.2" fill="#fff" opacity="0.096" filter="url(#bl4)"/>
<rect x="154.7" y="314.8" width="38.2" height="40.2" fill="#000" opacity="0.176" filter="url(#bl4)"/>
<rect x="184.8" y="314.8" width="54.2" height="40.2" fill="#000" opacity="0.073" filter="url(#bl4)"/>
<rect x="18.0" y="347.0" width="54.2" height="40.2" fill="#000" opacity="0.049" filter="url(#bl4)"/>
<rect x="64.2" y="347.0" width="38.2" height="40.2" fill="#000" opacity="0.183" filter="url(#bl4)"/>
<rect x="94.3" y="347.0" width="38.2" height="40.2" fill="#000" opacity="0.014" filter="url(#bl4)"/>
<rect x="124.5" y="347.0" width="38.2" height="40.2" fill="#000" opacity="0.226" filter="url(#bl4)"/>
<rect x="154.7" y="347.0" width="38.2" height="40.2" fill="#fff" opacity="0.065" filter="url(#bl4)"/>
<rect x="184.8" y="347.0" width="54.2" height="40.2" fill="#000" opacity="0.014" filter="url(#bl4)"/>
<rect x="18.0" y="379.2" width="54.2" height="56.2" fill="#000" opacity="0.008" filter="url(#bl4)"/>
<rect x="64.2" y="379.2" width="38.2" height="56.2" fill="#000" opacity="0.021" filter="url(#bl4)"/>
<rect x="94.3" y="379.2" width="38.2" height="56.2" fill="#000" opacity="0.098" filter="url(#bl4)"/>
<rect x="124.5" y="379.2" width="38.2" height="56.2" fill="#000" opacity="0.014" filter="url(#bl4)"/>
<rect x="154.7" y="379.2" width="38.2" height="56.2" fill="#000" opacity="0.164" filter="url(#bl4)"/>
<rect x="184.8" y="379.2" width="54.2" height="56.2" fill="#000" opacity="0.082" filter="url(#bl4)"/>
</g>
</g>
<g clip-path="url(#cpb1)"><g filter="url(#txb1)">
<rect x="215.0" y="18.0" width="201.0" height="149.0" fill="#7d7d7d"/>
<polygon points="225.0,28.0 406.0,28.0 406.0,36.0 370.0,40.0 330.0,42.0 300.0,45.0 260.0,48.0 225.0,52.0" fill="#2a2a2a" filter="url(#bl2)"/>
<polygon points="225.0,40.0 320.0,40.0 330.0,55.0 300.0,62.0 250.0,60.0 225.0,58.0" fill="#323232" filter="url(#bl2)"/>
<ellipse cx="290.0" cy="32.0" rx="25.0" ry="5.0" fill="#6e6e6e" filter="url(#bl2)"/>
<polygon points="225.0,58.0 260.0,55.0 300.0,62.0 330.0,66.0 360.0,60.0 406.0,52.0 406.0,68.0 370.0,72.0 330.0,76.0 290.0,70.0 250.0,68.0 225.0,70.0" fill="#a5a5a5" filter="url(#bl2)"/>
<polygon points="225.0,92.0 270.0,90.0 320.0,96.0 370.0,98.0 406.0,95.0 406.0,108.0 360.0,110.0 310.0,108.0 260.0,106.0 225.0,108.0" fill="#9b9b9b" filter="url(#bl2)"/>
<polygon points="330.0,40.0 360.0,36.0 400.0,38.0 406.0,52.0 380.0,58.0 350.0,56.0" fill="#969696" filter="url(#bl2)"/>
<polygon points="252.0,72.2 270.0,68.2 292.0,70.2 304.0,78.2 300.0,88.2 282.0,92.2 262.0,90.2 250.0,82.2" fill="#c8c8c8" stroke="#c8c8c8" stroke-width="1.6" filter="url(#bl1)"/><polygon points="252.0,70.0 270.0,66.0 292.0,68.0 304.0,76.0 300.0,86.0 282.0,90.0 262.0,88.0 250.0,80.0" fill="#282828" filter="url(#bl1)"/>
<polygon points="326.0,84.2 345.0,79.2 368.0,81.2 376.0,90.2 370.0,99.2 345.0,100.2 330.0,96.2" fill="#c8c8c8" stroke="#c8c8c8" stroke-width="1.6" filter="url(#bl1)"/><polygon points="326.0,82.0 345.0,77.0 368.0,79.0 376.0,88.0 370.0,97.0 345.0,98.0 330.0,94.0" fill="#232323" filter="url(#bl1)"/>
<polygon points="372.0,62.2 395.0,60.2 406.0,62.2 406.0,74.2 385.0,76.2 372.0,70.2" fill="#c8c8c8" stroke="#c8c8c8" stroke-width="1.6" filter="url(#bl1)"/><polygon points="372.0,60.0 395.0,58.0 406.0,60.0 406.0,72.0 385.0,74.0 372.0,68.0" fill="#2d2d2d" filter="url(#bl1)"/>
<polygon points="225.0,70.0 240.0,72.0 244.0,84.0 235.0,90.0 225.0,90.0" fill="#464646" filter="url(#bl1)"/>
<polygon points="242.0,115.2 265.0,110.2 300.0,112.2 318.0,120.2 315.0,132.2 290.0,137.2 258.0,136.2 240.0,128.2" fill="#c8c8c8" stroke="#c8c8c8" stroke-width="1.6" filter="url(#bl1)"/><polygon points="242.0,113.0 265.0,108.0 300.0,110.0 318.0,118.0 315.0,130.0 290.0,135.0 258.0,134.0 240.0,126.0" fill="#262626" filter="url(#bl1)"/>
<polygon points="338.0,125.2 360.0,122.2 384.0,126.2 384.0,135.2 360.0,138.2 340.0,135.2" fill="#c8c8c8" stroke="#c8c8c8" stroke-width="1.6" filter="url(#bl1)"/><polygon points="338.0,123.0 360.0,120.0 384.0,124.0 384.0,133.0 360.0,136.0 340.0,133.0" fill="#282828" filter="url(#bl1)"/>
<polygon points="225.0,114.0 236.0,116.0 240.0,128.0 236.0,140.0 225.0,140.0" fill="#232323" filter="url(#bl1)"/>
<ellipse cx="395.0" cy="118.0" rx="12.0" ry="5.0" fill="#3c3c3c" filter="url(#bl1)"/>
<rect x="225.0" y="138.0" width="181.0" height="19.0" fill="#787878" filter="url(#bl2)" opacity="0.6"/>
<ellipse cx="272.0" cy="45.0" rx="22.0" ry="14.0" fill="#232323" filter="url(#bl3)"/>
<ellipse cx="350.0" cy="78.0" rx="22.0" ry="10.0" fill="#3c3c3c" filter="url(#bl3)" opacity="0.7"/>
<ellipse cx="363.3" cy="111.2" rx="1.4" ry="0.8" fill="#222" opacity="0.67"/>
<ellipse cx="400.4" cy="83.2" rx="2.0" ry="0.6" fill="#222" opacity="0.61"/>
<ellipse cx="261.5" cy="91.8" rx="1.7" ry="1.3" fill="#222" opacity="0.61"/>
<ellipse cx="382.3" cy="70.2" rx="1.0" ry="1.0" fill="#222" opacity="0.69"/>
<ellipse cx="353.1" cy="32.7" rx="1.1" ry="0.8" fill="#222" opacity="0.59"/>
<ellipse cx="381.0" cy="62.9" rx="0.9" ry="1.3" fill="#222" opacity="0.75"/>
<ellipse cx="364.5" cy="33.0" rx="1.2" ry="0.7" fill="#222" opacity="0.77"/>
<ellipse cx="247.6" cy="44.4" rx="1.1" ry="1.2" fill="#222" opacity="0.48"/>
<ellipse cx="403.0" cy="67.8" rx="1.7" ry="0.8" fill="#222" opacity="0.52"/>
<ellipse cx="381.6" cy="156.7" rx="1.1" ry="0.9" fill="#222" opacity="0.42"/>
<ellipse cx="260.2" cy="77.5" rx="1.5" ry="1.1" fill="#222" opacity="0.54"/>
<ellipse cx="253.6" cy="99.7" rx="1.3" ry="0.9" fill="#222" opacity="0.79"/>
<ellipse cx="331.3" cy="30.0" rx="2.1" ry="1.4" fill="#222" opacity="0.56"/>
<ellipse cx="402.3" cy="41.5" rx="2.1" ry="0.7" fill="#222" opacity="0.75"/>
<ellipse cx="347.6" cy="151.6" rx="1.2" ry="1.1" fill="#222" opacity="0.78"/>
<ellipse cx="248.3" cy="51.9" rx="1.6" ry="0.7" fill="#222" opacity="0.42"/>
<ellipse cx="227.8" cy="72.8" rx="1.7" ry="1.0" fill="#222" opacity="0.64"/>
<ellipse cx="229.8" cy="41.1" rx="1.6" ry="0.7" fill="#222" opacity="0.41"/>
<ellipse cx="236.2" cy="112.1" rx="2.1" ry="1.0" fill="#222" opacity="0.40"/>
<ellipse cx="260.3" cy="115.9" rx="1.9" ry="0.8" fill="#222" opacity="0.59"/>
<ellipse cx="231.6" cy="97.7" rx="1.9" ry="1.0" fill="#222" opacity="0.71"/>
<ellipse cx="267.4" cy="113.9" rx="1.5" ry="1.1" fill="#222" opacity="0.43"/>
<ellipse cx="307.2" cy="108.0" rx="1.1" ry="1.0" fill="#222" opacity="0.41"/>
<ellipse cx="300.7" cy="149.4" rx="1.7" ry="1.0" fill="#222" opacity="0.75"/>
<ellipse cx="350.5" cy="93.6" rx="1.3" ry="1.3" fill="#222" opacity="0.63"/>
<ellipse cx="313.2" cy="75.9" rx="1.0" ry="0.8" fill="#222" opacity="0.64"/>
<ellipse cx="322.3" cy="127.9" rx="1.4" ry="0.9" fill="#222" opacity="0.62"/>
<ellipse cx="270.5" cy="152.0" rx="1.7" ry="0.8" fill="#222" opacity="0.60"/>
<ellipse cx="377.2" cy="150.7" rx="1.8" ry="1.3" fill="#222" opacity="0.72"/>
<ellipse cx="291.5" cy="81.9" rx="1.5" ry="0.6" fill="#222" opacity="0.64"/>
<ellipse cx="325.0" cy="129.5" rx="1.3" ry="1.4" fill="#222" opacity="0.70"/>
<ellipse cx="329.8" cy="57.4" rx="2.1" ry="1.1" fill="#222" opacity="0.65"/>
<ellipse cx="260.1" cy="53.6" rx="1.1" ry="1.3" fill="#222" opacity="0.58"/>
<ellipse cx="351.9" cy="117.2" rx="1.9" ry="0.8" fill="#222" opacity="0.48"/>
<ellipse cx="399.3" cy="46.2" rx="2.2" ry="0.9" fill="#222" opacity="0.41"/>
<ellipse cx="279.5" cy="126.9" rx="1.4" ry="0.7" fill="#222" opacity="0.43"/>
<ellipse cx="233.9" cy="101.8" rx="1.3" ry="1.1" fill="#222" opacity="0.45"/>
<ellipse cx="276.4" cy="99.4" rx="1.3" ry="1.2" fill="#222" opacity="0.50"/>
<ellipse cx="360.9" cy="113.6" rx="1.4" ry="1.2" fill="#222" opacity="0.54"/>
<ellipse cx="391.6" cy="123.6" rx="1.2" ry="1.3" fill="#222" opacity="0.65"/>
<ellipse cx="381.4" cy="119.6" rx="2.1" ry="1.0" fill="#222" opacity="0.54"/>
<ellipse cx="358.1" cy="147.5" rx="1.5" ry="1.2" fill="#222" opacity="0.64"/>
<ellipse cx="285.2" cy="53.9" rx="1.7" ry="0.7" fill="#222" opacity="0.58"/>
<ellipse cx="365.3" cy="77.1" rx="1.4" ry="1.4" fill="#222" opacity="0.64"/>
<ellipse cx="322.9" cy="52.9" rx="1.8" ry="0.9" fill="#222" opacity="0.69"/>
<ellipse cx="397.6" cy="135.3" rx="1.1" ry="1.3" fill="#222" opacity="0.67"/>
<ellipse cx="256.7" cy="33.6" rx="1.1" ry="1.1" fill="#222" opacity="0.59"/>
<ellipse cx="225.8" cy="150.4" rx="0.9" ry="1.3" fill="#222" opacity="0.60"/>
<ellipse cx="369.6" cy="132.5" rx="1.8" ry="0.9" fill="#222" opacity="0.61"/>
<ellipse cx="261.9" cy="61.9" rx="0.8" ry="0.9" fill="#222" opacity="0.76"/>
<ellipse cx="355.3" cy="36.0" rx="1.3" ry="0.9" fill="#222" opacity="0.61"/>
<ellipse cx="317.3" cy="136.0" rx="1.1" ry="1.1" fill="#222" opacity="0.66"/>
<ellipse cx="228.0" cy="47.6" rx="1.0" ry="1.1" fill="#222" opacity="0.74"/>
<ellipse cx="384.6" cy="136.1" rx="1.6" ry="1.1" fill="#222" opacity="0.67"/>
<ellipse cx="279.0" cy="90.5" rx="1.0" ry="0.9" fill="#222" opacity="0.55"/>
<ellipse cx="398.2" cy="55.0" rx="1.5" ry="0.6" fill="#222" opacity="0.42"/>
<ellipse cx="318.5" cy="104.2" rx="1.5" ry="1.4" fill="#222" opacity="0.59"/>
<ellipse cx="338.3" cy="141.0" rx="1.0" ry="1.2" fill="#222" opacity="0.45"/>
<ellipse cx="384.4" cy="126.0" rx="1.9" ry="1.3" fill="#222" opacity="0.42"/>
<ellipse cx="240.2" cy="81.9" rx="0.9" ry="1.3" fill="#222" opacity="0.47"/>
<ellipse cx="267.0" cy="121.5" rx="1.0" ry="1.3" fill="#222" opacity="0.54"/>
<ellipse cx="322.0" cy="135.9" rx="0.9" ry="0.8" fill="#222" opacity="0.55"/>
<ellipse cx="353.1" cy="65.7" rx="1.4" ry="0.8" fill="#222" opacity="0.64"/>
<ellipse cx="300.8" cy="111.6" rx="0.8" ry="1.0" fill="#222" opacity="0.78"/>
<ellipse cx="268.4" cy="58.5" rx="1.9" ry="0.7" fill="#222" opacity="0.60"/>
<ellipse cx="299.2" cy="49.8" rx="1.3" ry="1.2" fill="#222" opacity="0.65"/>
<ellipse cx="270.1" cy="104.2" rx="2.2" ry="0.7" fill="#222" opacity="0.69"/>
<ellipse cx="249.3" cy="61.4" rx="1.0" ry="1.1" fill="#222" opacity="0.66"/>
<ellipse cx="353.9" cy="104.4" rx="1.6" ry="0.8" fill="#222" opacity="0.51"/>
<ellipse cx="249.2" cy="154.7" rx="0.9" ry="1.3" fill="#222" opacity="0.55"/>
<ellipse cx="380.1" cy="84.5" rx="2.1" ry="1.2" fill="#222" opacity="0.71"/>
<ellipse cx="233.9" cy="115.2" rx="0.8" ry="1.1" fill="#222" opacity="0.56"/>
<ellipse cx="251.5" cy="89.1" rx="1.2" ry="1.0" fill="#222" opacity="0.65"/>
<ellipse cx="246.0" cy="88.5" rx="1.4" ry="1.3" fill="#222" opacity="0.78"/>
<ellipse cx="274.1" cy="74.8" rx="1.4" ry="0.9" fill="#222" opacity="0.78"/>
<ellipse cx="380.9" cy="50.9" rx="2.0" ry="1.3" fill="#222" opacity="0.75"/>
<ellipse cx="300.4" cy="30.0" rx="1.8" ry="0.7" fill="#222" opacity="0.69"/>
<ellipse cx="245.8" cy="101.2" rx="0.9" ry="1.1" fill="#222" opacity="0.49"/>
<ellipse cx="235.7" cy="137.5" rx="1.9" ry="1.1" fill="#222" opacity="0.54"/>
<ellipse cx="297.9" cy="101.1" rx="1.1" ry="1.1" fill="#222" opacity="0.44"/>
<ellipse cx="254.2" cy="67.1" rx="1.5" ry="1.1" fill="#222" opacity="0.68"/>
<ellipse cx="329.0" cy="83.4" rx="2.0" ry="1.0" fill="#222" opacity="0.59"/>
<ellipse cx="264.5" cy="123.9" rx="0.9" ry="1.2" fill="#222" opacity="0.67"/>
<ellipse cx="405.6" cy="137.5" rx="1.5" ry="1.2" fill="#222" opacity="0.56"/>
<ellipse cx="279.1" cy="147.9" rx="1.4" ry="1.2" fill="#222" opacity="0.40"/>
<ellipse cx="242.1" cy="136.4" rx="1.7" ry="1.2" fill="#222" opacity="0.64"/>
<ellipse cx="253.5" cy="91.3" rx="1.5" ry="1.1" fill="#222" opacity="0.79"/>
<ellipse cx="305.9" cy="118.5" rx="1.7" ry="0.7" fill="#222" opacity="0.79"/>
<ellipse cx="300.2" cy="151.8" rx="2.0" ry="0.8" fill="#222" opacity="0.64"/>
<ellipse cx="343.4" cy="119.7" rx="1.2" ry="0.8" fill="#222" opacity="0.48"/>
<ellipse cx="291.0" cy="151.8" rx="1.4" ry="1.1" fill="#222" opacity="0.80"/>
<ellipse cx="253.8" cy="78.9" rx="2.1" ry="0.9" fill="#222" opacity="0.71"/>
<ellipse cx="365.8" cy="154.3" rx="0.9" ry="0.9" fill="#222" opacity="0.75"/>
<ellipse cx="285.1" cy="52.1" rx="1.9" ry="0.8" fill="#222" opacity="0.67"/>
<ellipse cx="370.9" cy="127.5" rx="1.8" ry="0.8" fill="#222" opacity="0.63"/>
<ellipse cx="333.0" cy="63.3" rx="1.9" ry="1.3" fill="#222" opacity="0.77"/>
<ellipse cx="318.0" cy="118.8" rx="2.1" ry="1.0" fill="#222" opacity="0.57"/>
<ellipse cx="281.1" cy="36.4" rx="2.0" ry="1.4" fill="#222" opacity="0.62"/>
<ellipse cx="369.7" cy="144.0" rx="0.9" ry="0.9" fill="#222" opacity="0.62"/>
<ellipse cx="336.4" cy="48.2" rx="1.4" ry="0.9" fill="#222" opacity="0.42"/>
<ellipse cx="356.8" cy="127.1" rx="2.1" ry="1.1" fill="#222" opacity="0.72"/>
<ellipse cx="344.9" cy="55.9" rx="1.3" ry="0.8" fill="#222" opacity="0.61"/>
<ellipse cx="370.4" cy="99.8" rx="0.8" ry="0.7" fill="#222" opacity="0.67"/>
<ellipse cx="335.9" cy="104.2" rx="1.2" ry="0.8" fill="#222" opacity="0.68"/>
<ellipse cx="269.8" cy="84.0" rx="1.8" ry="0.7" fill="#222" opacity="0.71"/>
<ellipse cx="266.3" cy="138.0" rx="1.9" ry="1.2" fill="#222" opacity="0.77"/>
<ellipse cx="397.1" cy="133.1" rx="1.1" ry="1.3" fill="#222" opacity="0.45"/>
<ellipse cx="259.8" cy="137.2" rx="1.3" ry="1.2" fill="#222" opacity="0.49"/>
<ellipse cx="246.4" cy="34.1" rx="2.0" ry="1.3" fill="#222" opacity="0.78"/>
<ellipse cx="316.4" cy="127.0" rx="1.3" ry="0.7" fill="#222" opacity="0.50"/>
<ellipse cx="325.3" cy="95.2" rx="0.9" ry="1.0" fill="#222" opacity="0.54"/>
<ellipse cx="229.1" cy="34.7" rx="1.3" ry="1.4" fill="#222" opacity="0.70"/>
<ellipse cx="280.8" cy="106.1" rx="2.1" ry="1.0" fill="#222" opacity="0.42"/>
<ellipse cx="373.2" cy="116.3" rx="2.0" ry="1.3" fill="#222" opacity="0.79"/>
<ellipse cx="364.9" cy="59.4" rx="0.8" ry="0.8" fill="#222" opacity="0.57"/>
<ellipse cx="276.3" cy="89.0" rx="1.2" ry="1.1" fill="#222" opacity="0.50"/>
<ellipse cx="309.8" cy="40.7" rx="1.6" ry="1.4" fill="#222" opacity="0.72"/>
<ellipse cx="287.6" cy="138.4" rx="2.0" ry="1.0" fill="#222" opacity="0.76"/>
<ellipse cx="247.7" cy="44.1" rx="2.0" ry="0.9" fill="#222" opacity="0.47"/>
<ellipse cx="357.0" cy="69.7" rx="1.0" ry="0.9" fill="#222" opacity="0.53"/>
<ellipse cx="334.6" cy="47.3" rx="2.1" ry="1.1" fill="#222" opacity="0.51"/>
<ellipse cx="306.2" cy="145.3" rx="0.9" ry="0.8" fill="#222" opacity="0.49"/>
<ellipse cx="332.6" cy="152.7" rx="1.5" ry="1.0" fill="#222" opacity="0.42"/>
<ellipse cx="348.9" cy="42.3" rx="1.1" ry="1.1" fill="#222" opacity="0.62"/>
<ellipse cx="249.8" cy="58.0" rx="0.9" ry="1.3" fill="#222" opacity="0.79"/>
<ellipse cx="304.9" cy="122.5" rx="2.1" ry="1.4" fill="#222" opacity="0.41"/>
<ellipse cx="258.6" cy="127.3" rx="2.0" ry="0.8" fill="#222" opacity="0.42"/>
<ellipse cx="284.0" cy="99.1" rx="2.1" ry="0.6" fill="#222" opacity="0.53"/>
<ellipse cx="257.0" cy="46.9" rx="1.3" ry="1.2" fill="#222" opacity="0.53"/>
<ellipse cx="245.4" cy="150.2" rx="0.8" ry="0.8" fill="#222" opacity="0.79"/>
<ellipse cx="302.9" cy="57.9" rx="1.8" ry="0.9" fill="#222" opacity="0.64"/>
<ellipse cx="277.1" cy="74.4" rx="1.8" ry="1.2" fill="#222" opacity="0.65"/>
<ellipse cx="354.3" cy="67.2" rx="1.1" ry="0.7" fill="#222" opacity="0.52"/>
<ellipse cx="327.1" cy="43.9" rx="0.9" ry="0.9" fill="#222" opacity="0.55"/>
<ellipse cx="299.0" cy="127.3" rx="1.1" ry="1.2" fill="#222" opacity="0.57"/>
<ellipse cx="275.0" cy="153.2" rx="1.4" ry="1.0" fill="#222" opacity="0.68"/>
<ellipse cx="249.3" cy="108.6" rx="0.8" ry="0.9" fill="#222" opacity="0.57"/>
<ellipse cx="298.4" cy="38.0" rx="2.0" ry="0.7" fill="#222" opacity="0.68"/>
<ellipse cx="241.0" cy="133.9" rx="1.7" ry="0.8" fill="#222" opacity="0.57"/>
<ellipse cx="324.1" cy="28.9" rx="1.4" ry="0.8" fill="#222" opacity="0.54"/>
<ellipse cx="395.5" cy="35.4" rx="1.3" ry="0.7" fill="#222" opacity="0.73"/>
<ellipse cx="310.6" cy="78.4" rx="1.9" ry="1.3" fill="#222" opacity="0.77"/>
<ellipse cx="386.4" cy="44.4" rx="1.5" ry="1.0" fill="#222" opacity="0.68"/>
<ellipse cx="278.2" cy="47.6" rx="1.5" ry="1.3" fill="#222" opacity="0.79"/>
<ellipse cx="348.3" cy="31.0" rx="1.8" ry="0.9" fill="#222" opacity="0.72"/>
<ellipse cx="391.1" cy="96.6" rx="1.9" ry="1.2" fill="#222" opacity="0.80"/>
<ellipse cx="399.7" cy="74.5" rx="1.3" ry="1.3" fill="#222" opacity="0.78"/>
<ellipse cx="282.9" cy="150.0" rx="1.6" ry="0.7" fill="#222" opacity="0.73"/>
<ellipse cx="362.9" cy="123.7" rx="1.6" ry="0.8" fill="#222" opacity="0.47"/>
<ellipse cx="291.1" cy="61.6" rx="1.3" ry="0.8" fill="#222" opacity="0.68"/>
<ellipse cx="379.3" cy="101.4" rx="1.5" ry="0.6" fill="#222" opacity="0.40"/>
<ellipse cx="256.9" cy="136.2" rx="2.0" ry="0.9" fill="#222" opacity="0.73"/>
<ellipse cx="368.6" cy="152.7" rx="1.8" ry="1.3" fill="#222" opacity="0.55"/>
<ellipse cx="243.8" cy="152.0" rx="0.9" ry="0.6" fill="#222" opacity="0.57"/>
<ellipse cx="383.3" cy="152.3" rx="1.5" ry="0.8" fill="#222" opacity="0.48"/>
<ellipse cx="368.7" cy="83.4" rx="1.1" ry="1.0" fill="#222" opacity="0.51"/>
<ellipse cx="390.8" cy="151.4" rx="2.2" ry="1.1" fill="#222" opacity="0.69"/>
<ellipse cx="279.7" cy="113.7" rx="1.2" ry="0.7" fill="#222" opacity="0.72"/>
<ellipse cx="291.0" cy="85.7" rx="1.2" ry="0.9" fill="#222" opacity="0.47"/>
<ellipse cx="344.1" cy="58.1" rx="0.8" ry="0.9" fill="#222" opacity="0.56"/>
<ellipse cx="279.2" cy="139.4" rx="1.6" ry="1.0" fill="#222" opacity="0.46"/>
<ellipse cx="278.6" cy="140.7" rx="1.0" ry="1.1" fill="#222" opacity="0.51"/>
<ellipse cx="265.0" cy="95.7" rx="1.4" ry="0.9" fill="#222" opacity="0.66"/>
<ellipse cx="286.2" cy="33.9" rx="1.2" ry="1.4" fill="#222" opacity="0.52"/>
<ellipse cx="290.7" cy="92.9" rx="1.5" ry="1.3" fill="#222" opacity="0.58"/>
<ellipse cx="272.0" cy="137.3" rx="1.2" ry="0.8" fill="#222" opacity="0.42"/>
<ellipse cx="307.8" cy="38.8" rx="2.1" ry="1.1" fill="#222" opacity="0.56"/>
<ellipse cx="246.6" cy="29.9" rx="1.4" ry="0.9" fill="#222" opacity="0.51"/>
<ellipse cx="293.0" cy="131.3" rx="1.3" ry="1.1" fill="#222" opacity="0.70"/>
<ellipse cx="257.6" cy="44.2" rx="1.6" ry="0.6" fill="#222" opacity="0.63"/>
<ellipse cx="313.5" cy="109.1" rx="1.5" ry="0.7" fill="#222" opacity="0.61"/>
<ellipse cx="332.4" cy="49.2" rx="1.2" ry="0.7" fill="#222" opacity="0.69"/>
<ellipse cx="296.9" cy="137.0" rx="1.1" ry="0.9" fill="#222" opacity="0.60"/>
<ellipse cx="330.1" cy="62.0" rx="1.4" ry="0.9" fill="#222" opacity="0.68"/>
<ellipse cx="253.9" cy="141.8" rx="1.3" ry="1.3" fill="#222" opacity="0.52"/>
<ellipse cx="340.9" cy="53.6" rx="1.2" ry="1.3" fill="#222" opacity="0.80"/>
<ellipse cx="319.6" cy="35.2" rx="1.9" ry="1.1" fill="#222" opacity="0.44"/>
<ellipse cx="236.0" cy="138.8" rx="0.8" ry="0.9" fill="#222" opacity="0.50"/>
<ellipse cx="251.8" cy="32.5" rx="2.1" ry="1.0" fill="#222" opacity="0.80"/>
<ellipse cx="366.5" cy="144.8" rx="2.1" ry="0.9" fill="#222" opacity="0.51"/>
<ellipse cx="228.9" cy="124.7" rx="1.6" ry="0.6" fill="#222" opacity="0.43"/>
<ellipse cx="263.1" cy="114.9" rx="2.0" ry="1.3" fill="#222" opacity="0.65"/>
<ellipse cx="327.3" cy="110.1" rx="0.8" ry="1.0" fill="#222" opacity="0.51"/>
<ellipse cx="343.1" cy="126.5" rx="2.1" ry="1.0" fill="#222" opacity="0.56"/>
<ellipse cx="388.8" cy="130.1" rx="1.7" ry="1.3" fill="#222" opacity="0.73"/>
<ellipse cx="272.8" cy="95.1" rx="1.8" ry="0.9" fill="#222" opacity="0.63"/>
<ellipse cx="305.6" cy="46.0" rx="2.1" ry="1.0" fill="#222" opacity="0.40"/>
<ellipse cx="382.2" cy="58.0" rx="1.1" ry="0.9" fill="#222" opacity="0.43"/>
<ellipse cx="388.7" cy="97.0" rx="0.8" ry="1.1" fill="#222" opacity="0.76"/>
<ellipse cx="258.3" cy="66.1" rx="0.9" ry="1.2" fill="#222" opacity="0.43"/>
<ellipse cx="293.7" cy="90.4" rx="1.5" ry="1.1" fill="#222" opacity="0.56"/>
<ellipse cx="335.4" cy="41.8" rx="1.7" ry="1.3" fill="#222" opacity="0.57"/>
<ellipse cx="241.4" cy="133.3" rx="2.1" ry="0.9" fill="#222" opacity="0.71"/>
<ellipse cx="330.6" cy="58.9" rx="1.4" ry="1.1" fill="#222" opacity="0.40"/>
<ellipse cx="262.6" cy="70.6" rx="2.1" ry="1.2" fill="#222" opacity="0.64"/>
<ellipse cx="237.5" cy="71.0" rx="1.3" ry="1.0" fill="#222" opacity="0.58"/>
<ellipse cx="350.8" cy="95.8" rx="1.7" ry="1.0" fill="#222" opacity="0.62"/>
<ellipse cx="232.7" cy="153.3" rx="2.1" ry="0.9" fill="#222" opacity="0.61"/>
<ellipse cx="355.7" cy="45.2" rx="1.2" ry="1.2" fill="#222" opacity="0.42"/>
<ellipse cx="355.5" cy="74.2" rx="1.1" ry="1.0" fill="#222" opacity="0.64"/>
<ellipse cx="312.2" cy="147.1" rx="1.7" ry="1.0" fill="#222" opacity="0.69"/>
<ellipse cx="232.7" cy="141.7" rx="2.0" ry="1.2" fill="#222" opacity="0.53"/>
<ellipse cx="287.5" cy="119.9" rx="1.1" ry="1.0" fill="#222" opacity="0.61"/>
<ellipse cx="302.7" cy="128.6" rx="1.4" ry="0.7" fill="#222" opacity="0.75"/>
<ellipse cx="374.2" cy="85.4" rx="1.0" ry="1.0" fill="#222" opacity="0.48"/>
<ellipse cx="313.5" cy="73.9" rx="1.7" ry="0.7" fill="#222" opacity="0.76"/>
<ellipse cx="246.4" cy="57.1" rx="1.7" ry="1.0" fill="#222" opacity="0.48"/>
<ellipse cx="270.8" cy="38.4" rx="1.7" ry="1.0" fill="#222" opacity="0.65"/>
<ellipse cx="303.3" cy="57.2" rx="1.1" ry="1.2" fill="#222" opacity="0.46"/>
<ellipse cx="227.3" cy="39.1" rx="1.8" ry="0.9" fill="#222" opacity="0.55"/>
<ellipse cx="249.9" cy="87.0" rx="1.8" ry="1.0" fill="#222" opacity="0.51"/>
<ellipse cx="376.9" cy="48.5" rx="0.9" ry="1.1" fill="#222" opacity="0.41"/>
<ellipse cx="319.9" cy="31.4" rx="1.2" ry="1.0" fill="#222" opacity="0.62"/>
<ellipse cx="324.4" cy="122.1" rx="2.2" ry="1.2" fill="#222" opacity="0.52"/>
<ellipse cx="325.6" cy="52.8" rx="0.8" ry="1.0" fill="#222" opacity="0.72"/>
<ellipse cx="379.7" cy="98.9" rx="0.9" ry="1.3" fill="#222" opacity="0.51"/>
<ellipse cx="327.1" cy="76.7" rx="2.2" ry="1.1" fill="#222" opacity="0.62"/>
<ellipse cx="367.9" cy="138.3" rx="0.9" ry="1.2" fill="#222" opacity="0.79"/>
<ellipse cx="336.0" cy="48.8" rx="2.0" ry="0.6" fill="#222" opacity="0.59"/>
<ellipse cx="403.3" cy="117.9" rx="1.4" ry="0.9" fill="#222" opacity="0.53"/>
<rect x="205.0" y="8.0" width="54.2" height="56.1" fill="#000" opacity="0.299" filter="url(#bl4)"/>
<rect x="251.2" y="8.0" width="38.2" height="56.1" fill="#000" opacity="0.413" filter="url(#bl4)"/>
<rect x="281.3" y="8.0" width="38.2" height="56.1" fill="#fff" opacity="0.037" filter="url(#bl4)"/>
<rect x="311.5" y="8.0" width="38.2" height="56.1" fill="#fff" opacity="0.069" filter="url(#bl4)"/>
<rect x="341.7" y="8.0" width="38.2" height="56.1" fill="#000" opacity="0.195" filter="url(#bl4)"/>
<rect x="371.8" y="8.0" width="54.2" height="56.1" fill="#000" opacity="0.107" filter="url(#bl4)"/>
<rect x="205.0" y="56.1" width="54.2" height="40.1" fill="#000" opacity="0.033" filter="url(#bl4)"/>
<rect x="251.2" y="56.1" width="38.2" height="40.1" fill="#fff" opacity="0.012" filter="url(#bl4)"/>
<rect x="281.3" y="56.1" width="38.2" height="40.1" fill="#000" opacity="0.231" filter="url(#bl4)"/>
<rect x="311.5" y="56.1" width="38.2" height="40.1" fill="#000" opacity="0.230" filter="url(#bl4)"/>
<rect x="341.7" y="56.1" width="38.2" height="40.1" fill="#000" opacity="0.285" filter="url(#bl4)"/>
<rect x="371.8" y="56.1" width="54.2" height="40.1" fill="#fff" opacity="0.131" filter="url(#bl4)"/>
<rect x="205.0" y="88.2" width="54.2" height="40.1" fill="#000" opacity="0.130" filter="url(#bl4)"/>
<rect x="251.2" y="88.2" width="38.2" height="40.1" fill="#000" opacity="0.046" filter="url(#bl4)"/>
<rect x="281.3" y="88.2" width="38.2" height="40.1" fill="#000" opacity="0.043" filter="url(#bl4)"/>
<rect x="311.5" y="88.2" width="38.2" height="40.1" fill="#000" opacity="0.122" filter="url(#bl4)"/>
<rect x="341.7" y="88.2" width="38.2" height="40.1" fill="#000" opacity="0.100" filter="url(#bl4)"/>
<rect x="371.8" y="88.2" width="54.2" height="40.1" fill="#000" opacity="0.107" filter="url(#bl4)"/>
<rect x="205.0" y="120.4" width="54.2" height="56.1" fill="#000" opacity="0.054" filter="url(#bl4)"/>
<rect x="251.2" y="120.4" width="38.2" height="56.1" fill="#000" opacity="0.114" filter="url(#bl4)"/>
<rect x="281.3" y="120.4" width="38.2" height="56.1" fill="#000" opacity="0.189" filter="url(#bl4)"/>
<rect x="311.5" y="120.4" width="38.2" height="56.1" fill="#000" opacity="0.199" filter="url(#bl4)"/>
<rect x="341.7" y="120.4" width="38.2" height="56.1" fill="#000" opacity="0.092" filter="url(#bl4)"/>
<rect x="371.8" y="120.4" width="54.2" height="56.1" fill="#000" opacity="0.247" filter="url(#bl4)"/>
</g>
</g>
<g clip-path="url(#cpb2)"><g filter="url(#txb2)">
<rect x="215.0" y="147.0" width="201.0" height="149.0" fill="#a5a5a5"/>
</g>
<g filter="url(#txcb2)">
<ellipse cx="235.0" cy="164.5" rx="13.0" ry="10.5" fill="url(#cg50)" stroke="#cdcdcd" stroke-width="1.2"/>
<ellipse cx="310.5" cy="165.0" rx="17.5" ry="11.0" fill="url(#cg80)" stroke="#cdcdcd" stroke-width="1.2"/>
<ellipse cx="355.0" cy="164.0" rx="18.0" ry="10.0" fill="url(#cg90)" stroke="#cdcdcd" stroke-width="1.2"/>
<ellipse cx="392.0" cy="163.5" rx="17.0" ry="9.5" fill="url(#cg90)" stroke="#cdcdcd" stroke-width="1.2"/>
<ellipse cx="270.0" cy="162.5" rx="18.0" ry="8.5" fill="url(#cg80)" stroke="#cdcdcd" stroke-width="1.2"/>
<ellipse cx="247.5" cy="186.5" rx="22.5" ry="15.5" fill="url(#cg80)" stroke="#cdcdcd" stroke-width="1.2"/>
<ellipse cx="291.5" cy="186.0" rx="21.5" ry="16.0" fill="url(#cg80)" stroke="#cdcdcd" stroke-width="1.2"/>
<ellipse cx="329.5" cy="184.5" rx="20.5" ry="17.5" fill="url(#cg70)" stroke="#cdcdcd" stroke-width="1.2"/>
<ellipse cx="363.5" cy="186.0" rx="17.5" ry="14.0" fill="url(#cg90)" stroke="#cdcdcd" stroke-width="1.2"/>
<ellipse cx="392.0" cy="198.0" rx="17.0" ry="15.0" fill="url(#cg80)" stroke="#cdcdcd" stroke-width="1.2"/>
<ellipse cx="231.5" cy="209.0" rx="9.5" ry="15.0" fill="url(#cg50)" stroke="#cdcdcd" stroke-width="1.2"/>
<ellipse cx="264.5" cy="208.5" rx="26.5" ry="12.5" fill="url(#cg80)" stroke="#cdcdcd" stroke-width="1.2"/>
<ellipse cx="301.5" cy="214.5" rx="18.5" ry="14.5" fill="url(#cg70)" stroke="#cdcdcd" stroke-width="1.2"/>
<ellipse cx="336.0" cy="206.5" rx="16.0" ry="11.5" fill="url(#cg90)" stroke="#cdcdcd" stroke-width="1.2"/>
<ellipse cx="367.5" cy="207.0" rx="16.5" ry="11.0" fill="url(#cg90)" stroke="#cdcdcd" stroke-width="1.2"/>
<ellipse cx="358.5" cy="228.5" rx="22.5" ry="13.5" fill="url(#cg90)" stroke="#cdcdcd" stroke-width="1.2"/>
<ellipse cx="393.5" cy="221.0" rx="15.5" ry="11.0" fill="url(#cg90)" stroke="#cdcdcd" stroke-width="1.2"/>
<ellipse cx="237.0" cy="224.0" rx="12.0" ry="8.0" fill="url(#cg60)" stroke="#cdcdcd" stroke-width="1.2"/>
<ellipse cx="259.5" cy="234.0" rx="16.5" ry="11.0" fill="url(#cg70)" stroke="#cdcdcd" stroke-width="1.2"/>
<ellipse cx="280.5" cy="226.0" rx="13.5" ry="8.0" fill="url(#cg60)" stroke="#cdcdcd" stroke-width="1.2"/>
<ellipse cx="320.0" cy="241.5" rx="24.0" ry="10.5" fill="url(#cg70)" stroke="#cdcdcd" stroke-width="1.2"/>
<ellipse cx="323.5" cy="227.5" rx="14.5" ry="8.5" fill="url(#cg90)" stroke="#cdcdcd" stroke-width="1.2"/>
<ellipse cx="234.0" cy="240.0" rx="12.0" ry="12.0" fill="url(#cg60)" stroke="#cdcdcd" stroke-width="1.2"/>
<ellipse cx="259.5" cy="253.5" rx="21.5" ry="12.5" fill="url(#cg70)" stroke="#cdcdcd" stroke-width="1.2"/>
<ellipse cx="295.0" cy="257.5" rx="20.0" ry="13.5" fill="url(#cg70)" stroke="#cdcdcd" stroke-width="1.2"/>
<ellipse cx="347.5" cy="252.0" rx="17.5" ry="11.0" fill="url(#cg80)" stroke="#cdcdcd" stroke-width="1.2"/>
<ellipse cx="333.5" cy="264.0" rx="21.5" ry="10.0" fill="url(#cg70)" stroke="#cdcdcd" stroke-width="1.2"/>
<ellipse cx="381.5" cy="257.5" rx="27.5" ry="16.5" fill="url(#cg80)" stroke="#cdcdcd" stroke-width="1.2"/>
<ellipse cx="242.0" cy="269.0" rx="20.0" ry="15.0" fill="url(#cg60)" stroke="#cdcdcd" stroke-width="1.2"/>
<ellipse cx="311.0" cy="272.0" rx="23.0" ry="12.0" fill="url(#cg70)" stroke="#cdcdcd" stroke-width="1.2"/>
<ellipse cx="275.0" cy="275.0" rx="19.0" ry="12.0" fill="url(#cg80)" stroke="#cdcdcd" stroke-width="1.2"/>
<ellipse cx="360.0" cy="279.0" rx="23.0" ry="10.0" fill="url(#cg90)" stroke="#cdcdcd" stroke-width="1.2"/>
<ellipse cx="393.0" cy="279.0" rx="16.0" ry="10.0" fill="url(#cg80)" stroke="#cdcdcd" stroke-width="1.2"/>
</g>
<rect x="205.0" y="137.0" width="54.2" height="56.2" fill="#000" opacity="0.376" filter="url(#bl4)"/>
<rect x="251.2" y="137.0" width="38.2" height="56.2" fill="#000" opacity="0.116" filter="url(#bl4)"/>
<rect x="281.3" y="137.0" width="38.2" height="56.2" fill="#fff" opacity="0.099" filter="url(#bl4)"/>
<rect x="311.5" y="137.0" width="38.2" height="56.2" fill="#000" opacity="0.196" filter="url(#bl4)"/>
<rect x="341.7" y="137.0" width="38.2" height="56.2" fill="#fff" opacity="0.117" filter="url(#bl4)"/>
<rect x="371.8" y="137.0" width="54.2" height="56.2" fill="#000" opacity="0.078" filter="url(#bl4)"/>
<rect x="205.0" y="185.2" width="54.2" height="40.2" fill="#fff" opacity="0.053" filter="url(#bl4)"/>
<rect x="251.2" y="185.2" width="38.2" height="40.2" fill="#000" opacity="0.065" filter="url(#bl4)"/>
<rect x="281.3" y="185.2" width="38.2" height="40.2" fill="#fff" opacity="0.151" filter="url(#bl4)"/>
<rect x="311.5" y="185.2" width="38.2" height="40.2" fill="#000" opacity="0.179" filter="url(#bl4)"/>
<rect x="341.7" y="185.2" width="38.2" height="40.2" fill="#000" opacity="0.183" filter="url(#bl4)"/>
<rect x="371.8" y="185.2" width="54.2" height="40.2" fill="#fff" opacity="0.077" filter="url(#bl4)"/>
<rect x="205.0" y="217.5" width="54.2" height="40.2" fill="#fff" opacity="0.023" filter="url(#bl4)"/>
<rect x="251.2" y="217.5" width="38.2" height="40.2" fill="#fff" opacity="0.064" filter="url(#bl4)"/>
<rect x="281.3" y="217.5" width="38.2" height="40.2" fill="#000" opacity="0.062" filter="url(#bl4)"/>
<rect x="311.5" y="217.5" width="38.2" height="40.2" fill="#fff" opacity="0.009" filter="url(#bl4)"/>
<rect x="371.8" y="217.5" width="54.2" height="40.2" fill="#000" opacity="0.071" filter="url(#bl4)"/>
<rect x="251.2" y="249.8" width="38.2" height="56.2" fill="#000" opacity="0.075" filter="url(#bl4)"/>
<rect x="281.3" y="249.8" width="38.2" height="56.2" fill="#fff" opacity="0.034" filter="url(#bl4)"/>
<rect x="311.5" y="249.8" width="38.2" height="56.2" fill="#000" opacity="0.024" filter="url(#bl4)"/>
<rect x="341.7" y="249.8" width="38.2" height="56.2" fill="#000" opacity="0.067" filter="url(#bl4)"/>
<rect x="371.8" y="249.8" width="54.2" height="56.2" fill="#000" opacity="0.006" filter="url(#bl4)"/>
</g>
<g clip-path="url(#cpb3)"><g filter="url(#txb3)">
<rect x="215.0" y="276.5" width="201.0" height="149.0" fill="#a5a5a5"/>
</g>
<g filter="url(#txcb3)">
<ellipse cx="232.5" cy="296.0" rx="10.5" ry="12.0" fill="url(#cg60)" stroke="#cdcdcd" stroke-width="1.2"/>
<ellipse cx="270.0" cy="293.5" rx="23.0" ry="9.5" fill="url(#cg70)" stroke="#cdcdcd" stroke-width="1.2"/>
<ellipse cx="317.5" cy="292.5" rx="20.5" ry="8.5" fill="url(#cg80)" stroke="#cdcdcd" stroke-width="1.2"/>
<ellipse cx="362.5" cy="293.5" rx="20.5" ry="9.5" fill="url(#cg90)" stroke="#cdcdcd" stroke-width="1.2"/>
<ellipse cx="395.5" cy="293.5" rx="13.5" ry="9.5" fill="url(#cg80)" stroke="#cdcdcd" stroke-width="1.2"/>
<ellipse cx="245.0" cy="309.0" rx="16.0" ry="12.0" fill="url(#cg80)" stroke="#cdcdcd" stroke-width="1.2"/>
<ellipse cx="282.5" cy="309.0" rx="20.5" ry="16.0" fill="url(#cg90)" stroke="#cdcdcd" stroke-width="1.2"/>
<ellipse cx="327.5" cy="309.0" rx="20.5" ry="12.0" fill="url(#cg90)" stroke="#cdcdcd" stroke-width="1.2"/>
<ellipse cx="365.0" cy="315.0" rx="18.0" ry="13.0" fill="url(#cg90)" stroke="#cdcdcd" stroke-width="1.2"/>
<ellipse cx="394.5" cy="310.0" rx="14.5" ry="13.0" fill="url(#cg90)" stroke="#cdcdcd" stroke-width="1.2"/>
<ellipse cx="231.5" cy="329.0" rx="9.5" ry="14.0" fill="url(#cg60)" stroke="#cdcdcd" stroke-width="1.2"/>
<ellipse cx="251.0" cy="335.0" rx="20.0" ry="18.0" fill="url(#cg90)" stroke="#cdcdcd" stroke-width="1.2"/>
<ellipse cx="280.5" cy="348.0" rx="18.5" ry="20.0" fill="url(#cg40)" stroke="#cdcdcd" stroke-width="1.2"/>
<ellipse cx="313.0" cy="330.5" rx="20.0" ry="17.5" fill="url(#cg90)" stroke="#cdcdcd" stroke-width="1.2"/>
<ellipse cx="333.5" cy="329.5" rx="13.5" ry="9.5" fill="url(#cg40)" stroke="#cdcdcd" stroke-width="1.2"/>
<ellipse cx="365.0" cy="342.5" rx="23.0" ry="15.5" fill="url(#cg90)" stroke="#cdcdcd" stroke-width="1.2"/>
<ellipse cx="394.5" cy="332.5" rx="14.5" ry="9.5" fill="url(#cg40)" stroke="#cdcdcd" stroke-width="1.2"/>
<ellipse cx="231.5" cy="357.5" rx="9.5" ry="15.5" fill="url(#cg70)" stroke="#cdcdcd" stroke-width="1.2"/>
<ellipse cx="250.0" cy="366.5" rx="18.0" ry="14.5" fill="url(#cg90)" stroke="#cdcdcd" stroke-width="1.2"/>
<ellipse cx="308.5" cy="355.0" rx="12.5" ry="10.0" fill="url(#cg60)" stroke="#cdcdcd" stroke-width="1.2"/>
<ellipse cx="333.0" cy="361.0" rx="18.0" ry="14.0" fill="url(#cg90)" stroke="#cdcdcd" stroke-width="1.2"/>
<ellipse cx="369.0" cy="367.5" rx="22.0" ry="18.5" fill="url(#cg80)" stroke="#cdcdcd" stroke-width="1.2"/>
<ellipse cx="397.0" cy="358.5" rx="12.0" ry="16.5" fill="url(#cg90)" stroke="#cdcdcd" stroke-width="1.2"/>
<ellipse cx="240.5" cy="384.0" rx="18.5" ry="15.0" fill="url(#cg90)" stroke="#cdcdcd" stroke-width="1.2"/>
<ellipse cx="268.5" cy="383.5" rx="12.5" ry="13.5" fill="url(#cg40)" stroke="#cdcdcd" stroke-width="1.2"/>
<ellipse cx="294.0" cy="375.0" rx="19.0" ry="16.0" fill="url(#cg80)" stroke="#cdcdcd" stroke-width="1.2"/>
<ellipse cx="282.5" cy="405.0" rx="20.5" ry="13.0" fill="url(#cg70)" stroke="#cdcdcd" stroke-width="1.2"/>
<ellipse cx="324.0" cy="399.0" rx="24.0" ry="16.0" fill="url(#cg90)" stroke="#cdcdcd" stroke-width="1.2"/>
<ellipse cx="375.5" cy="389.0" rx="21.5" ry="16.0" fill="url(#cg40)" stroke="#cdcdcd" stroke-width="1.2"/>
<ellipse cx="243.5" cy="407.0" rx="21.5" ry="12.0" fill="url(#cg80)" stroke="#cdcdcd" stroke-width="1.2"/>
<ellipse cx="362.5" cy="408.0" rx="20.5" ry="11.0" fill="url(#cg80)" stroke="#cdcdcd" stroke-width="1.2"/>
<ellipse cx="398.0" cy="403.0" rx="11.0" ry="16.0" fill="url(#cg70)" stroke="#cdcdcd" stroke-width="1.2"/>
</g>
<rect x="205.0" y="266.5" width="54.2" height="56.2" fill="#000" opacity="0.132" filter="url(#bl4)"/>
<rect x="251.2" y="266.5" width="38.2" height="56.2" fill="#000" opacity="0.302" filter="url(#bl4)"/>
<rect x="281.3" y="266.5" width="38.2" height="56.2" fill="#000" opacity="0.137" filter="url(#bl4)"/>
<rect x="311.5" y="266.5" width="38.2" height="56.2" fill="#fff" opacity="0.061" filter="url(#bl4)"/>
<rect x="341.7" y="266.5" width="38.2" height="56.2" fill="#fff" opacity="0.158" filter="url(#bl4)"/>
<rect x="371.8" y="266.5" width="54.2" height="56.2" fill="#fff" opacity="0.085" filter="url(#bl4)"/>
<rect x="205.0" y="314.8" width="54.2" height="40.2" fill="#000" opacity="0.008" filter="url(#bl4)"/>
<rect x="251.2" y="314.8" width="38.2" height="40.2" fill="#fff" opacity="0.058" filter="url(#bl4)"/>
<rect x="281.3" y="314.8" width="38.2" height="40.2" fill="#000" opacity="0.066" filter="url(#bl4)"/>
<rect x="311.5" y="314.8" width="38.2" height="40.2" fill="#000" opacity="0.189" filter="url(#bl4)"/>
<rect x="341.7" y="314.8" width="38.2" height="40.2" fill="#fff" opacity="0.023" filter="url(#bl4)"/>
<rect x="371.8" y="314.8" width="54.2" height="40.2" fill="#000" opacity="0.021" filter="url(#bl4)"/>
<rect x="205.0" y="347.0" width="54.2" height="40.2" fill="#fff" opacity="0.065" filter="url(#bl4)"/>
<rect x="251.2" y="347.0" width="38.2" height="40.2" fill="#000" opacity="0.183" filter="url(#bl4)"/>
<rect x="281.3" y="347.0" width="38.2" height="40.2" fill="#fff" opacity="0.351" filter="url(#bl4)"/>
<rect x="311.5" y="347.0" width="38.2" height="40.2" fill="#000" opacity="0.129" filter="url(#bl4)"/>
<rect x="341.7" y="347.0" width="38.2" height="40.2" fill="#fff" opacity="0.136" filter="url(#bl4)"/>
<rect x="371.8" y="347.0" width="54.2" height="40.2" fill="#000" opacity="0.111" filter="url(#bl4)"/>
<rect x="205.0" y="379.2" width="54.2" height="56.2" fill="#000" opacity="0.156" filter="url(#bl4)"/>
<rect x="251.2" y="379.2" width="38.2" height="56.2" fill="#000" opacity="0.178" filter="url(#bl4)"/>
<rect x="281.3" y="379.2" width="38.2" height="56.2" fill="#000" opacity="0.200" filter="url(#bl4)"/>
<rect x="311.5" y="379.2" width="38.2" height="56.2" fill="#000" opacity="0.011" filter="url(#bl4)"/>
<rect x="341.7" y="379.2" width="38.2" height="56.2" fill="#000" opacity="0.323" filter="url(#bl4)"/>
<rect x="371.8" y="379.2" width="54.2" height="56.2" fill="#fff" opacity="0.030" filter="url(#bl4)"/>
</g>
<rect x="38" y="156.5" width="181" height="1" fill="#c8c8c8"/>
<rect x="38" y="286" width="181" height="1" fill="#c8c8c8"/>
<rect x="225" y="156.5" width="181" height="1" fill="#c8c8c8"/>
<rect x="225" y="286" width="181" height="1" fill="#c8c8c8"/>
<rect x="165" y="147" width="47" height="3.2" fill="#fff"/>
<rect x="166" y="276" width="46.5" height="3.2" fill="#fff"/>
<rect x="166" y="405" width="46" height="3.2" fill="#fff"/>
<rect x="350" y="147" width="48" height="3.2" fill="#fff"/>
<rect x="350" y="276" width="48" height="3.2" fill="#fff"/>
<rect x="350" y="405" width="48" height="3.2" fill="#fff"/>
<text x="49.3" y="44" font-size="11.3" fill="#f5f500" stroke="#f5f500" stroke-width="0.35">33% RH</text>
<text x="49.3" y="173.2" font-size="11.3" fill="#f5f500" stroke="#f5f500" stroke-width="0.35">46% RH</text>
<text x="49.3" y="303.2" font-size="11.3" fill="#f5f500" stroke="#f5f500" stroke-width="0.35">64% RH</text>
<text x="235.2" y="44" font-size="11.3" fill="#f5f500" stroke="#f5f500" stroke-width="0.35">34% RH</text>
<text x="235.2" y="173.2" font-size="11.3" fill="#f5f500" stroke="#f5f500" stroke-width="0.35">46% RH</text>
<text x="235.2" y="303.2" font-size="11.3" fill="#f5f500" stroke="#f5f500" stroke-width="0.35">59% RH</text>
<ellipse cx="159.9" cy="124.9" rx="54" ry="20.5" fill="none" stroke="#f5f500" stroke-width="1.8" stroke-dasharray="1.6 1.6"/>
<line x1="110" y1="124.8" x2="207" y2="124.8" stroke="#f5f500" stroke-width="1.8" stroke-dasharray="1.6 1.6"/>
<line x1="159.9" y1="109" x2="159.9" y2="141" stroke="#f5f500" stroke-width="1.8" stroke-dasharray="1.6 1.6"/>
<polygon points="105,124.8 112.5,121 112.5,128.6" fill="#f5f500"/>
<polygon points="212.5,124.8 205,121 205,128.6" fill="#f5f500"/>
<polygon points="159.9,104.5 156,111 163.8,111" fill="#f5f500"/>
<polygon points="159.9,145.5 156,139 163.8,139" fill="#f5f500"/>
<text x="143.5" y="116.8" font-size="11" fill="#f5f500" font-style="italic">L<tspan font-size="8" dy="2.5">v</tspan></text>
<text x="122.3" y="135.2" font-size="11" fill="#f5f500" font-style="italic">L<tspan font-size="8" dy="2.5">h</tspan></text>
<text x="41.20" y="20.10" font-size="23" text-anchor="start" fill="#000" font-weight="bold" font-style="normal" >a</text>
<text x="227.10" y="20.40" font-size="23" text-anchor="start" fill="#000" font-weight="bold" font-style="normal" >b</text>
<text x="131.00" y="22.90" font-size="14" text-anchor="middle" fill="#000" font-weight="normal" font-style="normal" >PPC</text>
<text x="317.60" y="22.90" font-size="14" text-anchor="middle" fill="#000" font-weight="normal" font-style="normal" >FSPPC</text>
<text transform="translate(13.4,55.3) rotate(-90)" font-size="14.7" text-anchor="middle">Low RH</text>
<text transform="translate(13.4,386.9) rotate(-90)" font-size="14.7" text-anchor="middle">High RH</text>
<line x1="30.30" y1="28.00" x2="30.30" y2="417.00" stroke="#111" stroke-width="1.3" />
<line x1="21.10" y1="393.30" x2="30.10" y2="416.50" stroke="#111" stroke-width="1.3" />
<defs>
<radialGradient id="gball" cx="0.38" cy="0.36" r="0.62" fx="0.36" fy="0.33">
<stop offset="0" stop-color="#ffffff"/><stop offset="0.18" stop-color="#d0d0d0"/><stop offset="0.5" stop-color="#5a5a5a"/><stop offset="1" stop-color="#3a3a3a"/></radialGradient>
<radialGradient id="bball" cx="0.38" cy="0.36" r="0.62" fx="0.36" fy="0.33">
<stop offset="0" stop-color="#ffffff"/><stop offset="0.18" stop-color="#a8cbf8"/><stop offset="0.5" stop-color="#1d6fe6"/><stop offset="1" stop-color="#1258c8"/></radialGradient>
</defs>
<line x1="462.00" y1="30.50" x2="684.25" y2="30.50" stroke="#000" stroke-width="1" />
<line x1="466.00" y1="30.50" x2="466.00" y2="381.30" stroke="#000" stroke-width="1" />
<line x1="684.25" y1="30.50" x2="684.25" y2="381.30" stroke="#000" stroke-width="1" />
<line x1="466.00" y1="205.50" x2="684.25" y2="205.50" stroke="#000" stroke-width="1.2" />
<line x1="466.00" y1="381.30" x2="684.25" y2="381.30" stroke="#000" stroke-width="1.2" />
<line x1="462.50" y1="205.50" x2="466.00" y2="205.50" stroke="#000" stroke-width="1" />
<line x1="681.25" y1="205.50" x2="684.25" y2="205.50" stroke="#000" stroke-width="1" />
<text x="461.00" y="209.70" font-size="12" text-anchor="end" fill="#000" font-weight="normal" font-style="normal" >0</text>
<line x1="462.50" y1="170.46" x2="466.00" y2="170.46" stroke="#000" stroke-width="1" />
<line x1="681.25" y1="170.46" x2="684.25" y2="170.46" stroke="#000" stroke-width="1" />
<text x="461.00" y="174.66" font-size="12" text-anchor="end" fill="#000" font-weight="normal" font-style="normal" >3</text>
<line x1="462.50" y1="135.42" x2="466.00" y2="135.42" stroke="#000" stroke-width="1" />
<line x1="681.25" y1="135.42" x2="684.25" y2="135.42" stroke="#000" stroke-width="1" />
<text x="461.00" y="139.62" font-size="12" text-anchor="end" fill="#000" font-weight="normal" font-style="normal" >6</text>
<line x1="462.50" y1="100.38" x2="466.00" y2="100.38" stroke="#000" stroke-width="1" />
<line x1="681.25" y1="100.38" x2="684.25" y2="100.38" stroke="#000" stroke-width="1" />
<text x="461.00" y="104.58" font-size="12" text-anchor="end" fill="#000" font-weight="normal" font-style="normal" >9</text>
<line x1="462.50" y1="65.34" x2="466.00" y2="65.34" stroke="#000" stroke-width="1" />
<line x1="681.25" y1="65.34" x2="684.25" y2="65.34" stroke="#000" stroke-width="1" />
<text x="461.00" y="69.54" font-size="12" text-anchor="end" fill="#000" font-weight="normal" font-style="normal" >12</text>
<line x1="462.50" y1="30.30" x2="466.00" y2="30.30" stroke="#000" stroke-width="1" />
<line x1="681.25" y1="30.30" x2="684.25" y2="30.30" stroke="#000" stroke-width="1" />
<text x="461.00" y="34.50" font-size="12" text-anchor="end" fill="#000" font-weight="normal" font-style="normal" >15</text>
<line x1="464.00" y1="187.98" x2="466.00" y2="187.98" stroke="#000" stroke-width="1" />
<line x1="682.25" y1="187.98" x2="684.25" y2="187.98" stroke="#000" stroke-width="1" />
<line x1="464.00" y1="152.94" x2="466.00" y2="152.94" stroke="#000" stroke-width="1" />
<line x1="682.25" y1="152.94" x2="684.25" y2="152.94" stroke="#000" stroke-width="1" />
<line x1="464.00" y1="117.90" x2="466.00" y2="117.90" stroke="#000" stroke-width="1" />
<line x1="682.25" y1="117.90" x2="684.25" y2="117.90" stroke="#000" stroke-width="1" />
<line x1="464.00" y1="82.86" x2="466.00" y2="82.86" stroke="#000" stroke-width="1" />
<line x1="682.25" y1="82.86" x2="684.25" y2="82.86" stroke="#000" stroke-width="1" />
<line x1="464.00" y1="47.82" x2="466.00" y2="47.82" stroke="#000" stroke-width="1" />
<line x1="682.25" y1="47.82" x2="684.25" y2="47.82" stroke="#000" stroke-width="1" />
<line x1="480.55" y1="30.50" x2="480.55" y2="32.50" stroke="#000" stroke-width="1" />
<line x1="480.55" y1="205.50" x2="480.55" y2="207.50" stroke="#000" stroke-width="1" />
<line x1="480.55" y1="381.30" x2="480.55" y2="383.30" stroke="#000" stroke-width="1" />
<line x1="495.10" y1="30.50" x2="495.10" y2="33.50" stroke="#000" stroke-width="1" />
<line x1="495.10" y1="205.50" x2="495.10" y2="208.50" stroke="#000" stroke-width="1" />
<line x1="495.10" y1="381.30" x2="495.10" y2="384.30" stroke="#000" stroke-width="1" />
<line x1="509.65" y1="30.50" x2="509.65" y2="32.50" stroke="#000" stroke-width="1" />
<line x1="509.65" y1="205.50" x2="509.65" y2="207.50" stroke="#000" stroke-width="1" />
<line x1="509.65" y1="381.30" x2="509.65" y2="383.30" stroke="#000" stroke-width="1" />
<line x1="524.20" y1="30.50" x2="524.20" y2="33.50" stroke="#000" stroke-width="1" />
<line x1="524.20" y1="205.50" x2="524.20" y2="208.50" stroke="#000" stroke-width="1" />
<line x1="524.20" y1="381.30" x2="524.20" y2="384.30" stroke="#000" stroke-width="1" />
<line x1="538.75" y1="30.50" x2="538.75" y2="32.50" stroke="#000" stroke-width="1" />
<line x1="538.75" y1="205.50" x2="538.75" y2="207.50" stroke="#000" stroke-width="1" />
<line x1="538.75" y1="381.30" x2="538.75" y2="383.30" stroke="#000" stroke-width="1" />
<line x1="553.30" y1="30.50" x2="553.30" y2="33.50" stroke="#000" stroke-width="1" />
<line x1="553.30" y1="205.50" x2="553.30" y2="208.50" stroke="#000" stroke-width="1" />
<line x1="553.30" y1="381.30" x2="553.30" y2="384.30" stroke="#000" stroke-width="1" />
<line x1="567.85" y1="30.50" x2="567.85" y2="32.50" stroke="#000" stroke-width="1" />
<line x1="567.85" y1="205.50" x2="567.85" y2="207.50" stroke="#000" stroke-width="1" />
<line x1="567.85" y1="381.30" x2="567.85" y2="383.30" stroke="#000" stroke-width="1" />
<line x1="582.40" y1="30.50" x2="582.40" y2="33.50" stroke="#000" stroke-width="1" />
<line x1="582.40" y1="205.50" x2="582.40" y2="208.50" stroke="#000" stroke-width="1" />
<line x1="582.40" y1="381.30" x2="582.40" y2="384.30" stroke="#000" stroke-width="1" />
<line x1="596.95" y1="30.50" x2="596.95" y2="32.50" stroke="#000" stroke-width="1" />
<line x1="596.95" y1="205.50" x2="596.95" y2="207.50" stroke="#000" stroke-width="1" />
<line x1="596.95" y1="381.30" x2="596.95" y2="383.30" stroke="#000" stroke-width="1" />
<line x1="611.50" y1="30.50" x2="611.50" y2="33.50" stroke="#000" stroke-width="1" />
<line x1="611.50" y1="205.50" x2="611.50" y2="208.50" stroke="#000" stroke-width="1" />
<line x1="611.50" y1="381.30" x2="611.50" y2="384.30" stroke="#000" stroke-width="1" />
<line x1="626.05" y1="30.50" x2="626.05" y2="32.50" stroke="#000" stroke-width="1" />
<line x1="626.05" y1="205.50" x2="626.05" y2="207.50" stroke="#000" stroke-width="1" />
<line x1="626.05" y1="381.30" x2="626.05" y2="383.30" stroke="#000" stroke-width="1" />
<line x1="640.60" y1="30.50" x2="640.60" y2="33.50" stroke="#000" stroke-width="1" />
<line x1="640.60" y1="205.50" x2="640.60" y2="208.50" stroke="#000" stroke-width="1" />
<line x1="640.60" y1="381.30" x2="640.60" y2="384.30" stroke="#000" stroke-width="1" />
<line x1="655.15" y1="30.50" x2="655.15" y2="32.50" stroke="#000" stroke-width="1" />
<line x1="655.15" y1="205.50" x2="655.15" y2="207.50" stroke="#000" stroke-width="1" />
<line x1="655.15" y1="381.30" x2="655.15" y2="383.30" stroke="#000" stroke-width="1" />
<line x1="669.70" y1="30.50" x2="669.70" y2="33.50" stroke="#000" stroke-width="1" />
<line x1="669.70" y1="205.50" x2="669.70" y2="208.50" stroke="#000" stroke-width="1" />
<line x1="669.70" y1="381.30" x2="669.70" y2="384.30" stroke="#000" stroke-width="1" />
<text x="466.00" y="397.20" font-size="12" text-anchor="middle" fill="#000" font-weight="normal" font-style="normal" >30</text>
<text x="495.10" y="397.20" font-size="12" text-anchor="middle" fill="#000" font-weight="normal" font-style="normal" >35</text>
<text x="524.20" y="397.20" font-size="12" text-anchor="middle" fill="#000" font-weight="normal" font-style="normal" >40</text>
<text x="553.30" y="397.20" font-size="12" text-anchor="middle" fill="#000" font-weight="normal" font-style="normal" >45</text>
<text x="582.40" y="397.20" font-size="12" text-anchor="middle" fill="#000" font-weight="normal" font-style="normal" >50</text>
<text x="611.50" y="397.20" font-size="12" text-anchor="middle" fill="#000" font-weight="normal" font-style="normal" >55</text>
<text x="640.60" y="397.20" font-size="12" text-anchor="middle" fill="#000" font-weight="normal" font-style="normal" >60</text>
<text x="669.70" y="397.20" font-size="12" text-anchor="middle" fill="#000" font-weight="normal" font-style="normal" >65</text>
<line x1="462.50" y1="381.30" x2="466.00" y2="381.30" stroke="#000" stroke-width="1" />
<line x1="681.25" y1="381.30" x2="684.25" y2="381.30" stroke="#000" stroke-width="1" />
<text x="461.00" y="385.50" font-size="12" text-anchor="end" fill="#000" font-weight="normal" font-style="normal" >0</text>
<line x1="462.50" y1="349.40" x2="466.00" y2="349.40" stroke="#000" stroke-width="1" />
<line x1="681.25" y1="349.40" x2="684.25" y2="349.40" stroke="#000" stroke-width="1" />
<text x="461.00" y="353.60" font-size="12" text-anchor="end" fill="#000" font-weight="normal" font-style="normal" >1</text>
<line x1="462.50" y1="317.50" x2="466.00" y2="317.50" stroke="#000" stroke-width="1" />
<line x1="681.25" y1="317.50" x2="684.25" y2="317.50" stroke="#000" stroke-width="1" />
<text x="461.00" y="321.70" font-size="12" text-anchor="end" fill="#000" font-weight="normal" font-style="normal" >2</text>
<line x1="462.50" y1="285.60" x2="466.00" y2="285.60" stroke="#000" stroke-width="1" />
<line x1="681.25" y1="285.60" x2="684.25" y2="285.60" stroke="#000" stroke-width="1" />
<text x="461.00" y="289.80" font-size="12" text-anchor="end" fill="#000" font-weight="normal" font-style="normal" >3</text>
<line x1="462.50" y1="253.70" x2="466.00" y2="253.70" stroke="#000" stroke-width="1" />
<line x1="681.25" y1="253.70" x2="684.25" y2="253.70" stroke="#000" stroke-width="1" />
<text x="461.00" y="257.90" font-size="12" text-anchor="end" fill="#000" font-weight="normal" font-style="normal" >4</text>
<line x1="462.50" y1="221.80" x2="466.00" y2="221.80" stroke="#000" stroke-width="1" />
<line x1="681.25" y1="221.80" x2="684.25" y2="221.80" stroke="#000" stroke-width="1" />
<text x="461.00" y="226.00" font-size="12" text-anchor="end" fill="#000" font-weight="normal" font-style="normal" >5</text>
<line x1="464.00" y1="365.35" x2="466.00" y2="365.35" stroke="#000" stroke-width="1" />
<line x1="682.25" y1="365.35" x2="684.25" y2="365.35" stroke="#000" stroke-width="1" />
<line x1="464.00" y1="333.45" x2="466.00" y2="333.45" stroke="#000" stroke-width="1" />
<line x1="682.25" y1="333.45" x2="684.25" y2="333.45" stroke="#000" stroke-width="1" />
<line x1="464.00" y1="301.55" x2="466.00" y2="301.55" stroke="#000" stroke-width="1" />
<line x1="682.25" y1="301.55" x2="684.25" y2="301.55" stroke="#000" stroke-width="1" />
<line x1="464.00" y1="269.65" x2="466.00" y2="269.65" stroke="#000" stroke-width="1" />
<line x1="682.25" y1="269.65" x2="684.25" y2="269.65" stroke="#000" stroke-width="1" />
<line x1="464.00" y1="237.75" x2="466.00" y2="237.75" stroke="#000" stroke-width="1" />
<line x1="682.25" y1="237.75" x2="684.25" y2="237.75" stroke="#000" stroke-width="1" />
<text x="411.60" y="20.10" font-size="23" text-anchor="start" fill="#000" font-weight="bold" font-style="normal" >c</text>
<text x="412.60" y="209.80" font-size="23" text-anchor="start" fill="#000" font-weight="bold" font-style="normal" >d</text>
<text transform="translate(437.2,118) rotate(-90)" font-size="15.3" text-anchor="middle"><tspan font-style="italic">L</tspan><tspan font-size="11" dy="3">GMD</tspan><tspan dy="-3"> (µm)</tspan></text>
<text transform="translate(442,293.7) rotate(-90)" font-size="15.3" text-anchor="middle">Aspect ratio (<tspan font-style="italic">γ</tspan>)</text>
<text x="575.20" y="416.00" font-size="15.4" text-anchor="middle" fill="#000" font-weight="normal" font-style="normal" >Drying-humidity (% RH)</text>
<text x="497.8" y="52.2" font-size="13.4"><tspan font-style="italic">L</tspan><tspan font-size="8.6" dy="2.6">GMD</tspan><tspan dy="-2.6"> = (</tspan><tspan font-style="italic">L</tspan><tspan font-size="8.6" dy="2.6">h</tspan><tspan font-size="8.6" dy="-7.4">2</tspan><tspan font-style="italic" dy="4.8">L</tspan><tspan font-size="8.6" dy="2.6">v</tspan><tspan dy="-2.6">)</tspan><tspan font-size="8.6" dy="-5">1/3</tspan></text>
<text x="490.7" y="232.5" font-size="13"><tspan font-style="italic">γ</tspan> = <tspan font-style="italic">L</tspan><tspan font-size="9.5" dy="2.5">h</tspan><tspan dy="-2.5"> / </tspan><tspan font-style="italic">L</tspan><tspan font-size="9.5" dy="2.5">v</tspan></text>
<polyline points="600.00,47.20 628.00,47.20" fill="none" stroke="#555555" stroke-width="1.3" stroke-dasharray="1.5 2.5" />
<circle cx="614.30" cy="47.20" r="5.7" fill="url(#gball)"/>
<text x="632.50" y="51.80" font-size="12.5" text-anchor="start" fill="#000" font-weight="normal" font-style="normal" >PPC</text>
<polyline points="600.00,63.80 628.00,63.80" fill="none" stroke="#2a78e0" stroke-width="1.3" stroke-dasharray="1.5 2.5" />
<circle cx="614.30" cy="63.80" r="5.7" fill="url(#bball)"/>
<text x="632.50" y="68.40" font-size="12.5" text-anchor="start" fill="#000" font-weight="normal" font-style="normal" >FSPPC</text>
<polyline points="483.46,73.52 518.38,151.54 559.12,182.72 599.86,186.11 663.88,185.64" fill="none" stroke="#555555" stroke-width="1.5" stroke-dasharray="1.5 2.5" />
<polyline points="489.28,89.98 530.02,154.34 559.12,142.66 594.04,108.56 634.78,145.46" fill="none" stroke="#2a78e0" stroke-width="1.5" stroke-dasharray="1.5 2.5" />
<line x1="483.46" y1="106.80" x2="483.46" y2="40.23" stroke="#555555" stroke-width="1.4" />
<line x1="480.26" y1="106.80" x2="486.66" y2="106.80" stroke="#555555" stroke-width="1.4" />
<line x1="480.26" y1="40.23" x2="486.66" y2="40.23" stroke="#555555" stroke-width="1.4" />
<line x1="518.38" y1="169.76" x2="518.38" y2="133.90" stroke="#555555" stroke-width="1.4" />
<line x1="515.18" y1="169.76" x2="521.58" y2="169.76" stroke="#555555" stroke-width="1.4" />
<line x1="515.18" y1="133.90" x2="521.58" y2="133.90" stroke="#555555" stroke-width="1.4" />
<line x1="559.12" y1="192.42" x2="559.12" y2="173.38" stroke="#555555" stroke-width="1.4" />
<line x1="555.92" y1="192.42" x2="562.32" y2="192.42" stroke="#555555" stroke-width="1.4" />
<line x1="555.92" y1="173.38" x2="562.32" y2="173.38" stroke="#555555" stroke-width="1.4" />
<line x1="599.86" y1="195.22" x2="599.86" y2="177.70" stroke="#555555" stroke-width="1.4" />
<line x1="596.66" y1="195.22" x2="603.06" y2="195.22" stroke="#555555" stroke-width="1.4" />
<line x1="596.66" y1="177.70" x2="603.06" y2="177.70" stroke="#555555" stroke-width="1.4" />
<line x1="663.88" y1="193.12" x2="663.88" y2="178.29" stroke="#555555" stroke-width="1.4" />
<line x1="660.68" y1="193.12" x2="667.08" y2="193.12" stroke="#555555" stroke-width="1.4" />
<line x1="660.68" y1="178.29" x2="667.08" y2="178.29" stroke="#555555" stroke-width="1.4" />
<line x1="489.28" y1="121.40" x2="489.28" y2="58.68" stroke="#2a78e0" stroke-width="1.4" />
<line x1="486.08" y1="121.40" x2="492.48" y2="121.40" stroke="#2a78e0" stroke-width="1.4" />
<line x1="486.08" y1="58.68" x2="492.48" y2="58.68" stroke="#2a78e0" stroke-width="1.4" />
<line x1="530.02" y1="184.24" x2="530.02" y2="124.21" stroke="#2a78e0" stroke-width="1.4" />
<line x1="526.82" y1="184.24" x2="533.22" y2="184.24" stroke="#2a78e0" stroke-width="1.4" />
<line x1="526.82" y1="124.21" x2="533.22" y2="124.21" stroke="#2a78e0" stroke-width="1.4" />
<line x1="559.12" y1="162.28" x2="559.12" y2="123.62" stroke="#2a78e0" stroke-width="1.4" />
<line x1="555.92" y1="162.28" x2="562.32" y2="162.28" stroke="#2a78e0" stroke-width="1.4" />
<line x1="555.92" y1="123.62" x2="562.32" y2="123.62" stroke="#2a78e0" stroke-width="1.4" />
<line x1="594.04" y1="128.65" x2="594.04" y2="88.93" stroke="#2a78e0" stroke-width="1.4" />
<line x1="590.84" y1="128.65" x2="597.24" y2="128.65" stroke="#2a78e0" stroke-width="1.4" />
<line x1="590.84" y1="88.93" x2="597.24" y2="88.93" stroke="#2a78e0" stroke-width="1.4" />
<line x1="634.78" y1="167.66" x2="634.78" y2="123.74" stroke="#2a78e0" stroke-width="1.4" />
<line x1="631.58" y1="167.66" x2="637.98" y2="167.66" stroke="#2a78e0" stroke-width="1.4" />
<line x1="631.58" y1="123.74" x2="637.98" y2="123.74" stroke="#2a78e0" stroke-width="1.4" />
<circle cx="483.46" cy="73.52" r="5.7" fill="url(#gball)"/>
<circle cx="518.38" cy="151.54" r="5.7" fill="url(#gball)"/>
<circle cx="559.12" cy="182.72" r="5.7" fill="url(#gball)"/>
<circle cx="599.86" cy="186.11" r="5.7" fill="url(#gball)"/>
<circle cx="663.88" cy="185.64" r="5.7" fill="url(#gball)"/>
<circle cx="489.28" cy="89.98" r="5.7" fill="url(#bball)"/>
<circle cx="530.02" cy="154.34" r="5.7" fill="url(#bball)"/>
<circle cx="559.12" cy="142.66" r="5.7" fill="url(#bball)"/>
<circle cx="594.04" cy="108.56" r="5.7" fill="url(#bball)"/>
<circle cx="634.78" cy="145.46" r="5.7" fill="url(#bball)"/>
<polyline points="483.46,329.94 518.38,296.45 559.12,290.70 599.86,287.83 663.88,272.20" fill="none" stroke="#555555" stroke-width="1.5" stroke-dasharray="1.5 2.5" />
<polyline points="489.28,290.70 530.02,322.60 559.12,332.17 594.04,329.62 634.78,327.07" fill="none" stroke="#2a78e0" stroke-width="1.5" stroke-dasharray="1.5 2.5" />
<line x1="483.46" y1="343.66" x2="483.46" y2="315.27" stroke="#555555" stroke-width="1.4" />
<line x1="480.26" y1="343.66" x2="486.66" y2="343.66" stroke="#555555" stroke-width="1.4" />
<line x1="480.26" y1="315.27" x2="486.66" y2="315.27" stroke="#555555" stroke-width="1.4" />
<line x1="518.38" y1="329.30" x2="518.38" y2="263.91" stroke="#555555" stroke-width="1.4" />
<line x1="515.18" y1="329.30" x2="521.58" y2="329.30" stroke="#555555" stroke-width="1.4" />
<line x1="515.18" y1="263.91" x2="521.58" y2="263.91" stroke="#555555" stroke-width="1.4" />
<line x1="559.12" y1="329.30" x2="559.12" y2="254.02" stroke="#555555" stroke-width="1.4" />
<line x1="555.92" y1="329.30" x2="562.32" y2="329.30" stroke="#555555" stroke-width="1.4" />
<line x1="555.92" y1="254.02" x2="562.32" y2="254.02" stroke="#555555" stroke-width="1.4" />
<line x1="599.86" y1="325.16" x2="599.86" y2="251.79" stroke="#555555" stroke-width="1.4" />
<line x1="596.66" y1="325.16" x2="603.06" y2="325.16" stroke="#555555" stroke-width="1.4" />
<line x1="596.66" y1="251.79" x2="603.06" y2="251.79" stroke="#555555" stroke-width="1.4" />
<line x1="663.88" y1="315.91" x2="663.88" y2="227.86" stroke="#555555" stroke-width="1.4" />
<line x1="660.68" y1="315.91" x2="667.08" y2="315.91" stroke="#555555" stroke-width="1.4" />
<line x1="660.68" y1="227.86" x2="667.08" y2="227.86" stroke="#555555" stroke-width="1.4" />
<line x1="489.28" y1="323.24" x2="489.28" y2="258.80" stroke="#2a78e0" stroke-width="1.4" />
<line x1="486.08" y1="323.24" x2="492.48" y2="323.24" stroke="#2a78e0" stroke-width="1.4" />
<line x1="486.08" y1="258.80" x2="492.48" y2="258.80" stroke="#2a78e0" stroke-width="1.4" />
<line x1="530.02" y1="343.66" x2="530.02" y2="302.19" stroke="#2a78e0" stroke-width="1.4" />
<line x1="526.82" y1="343.66" x2="533.22" y2="343.66" stroke="#2a78e0" stroke-width="1.4" />
<line x1="526.82" y1="302.19" x2="533.22" y2="302.19" stroke="#2a78e0" stroke-width="1.4" />
<line x1="559.12" y1="352.91" x2="559.12" y2="312.08" stroke="#2a78e0" stroke-width="1.4" />
<line x1="555.92" y1="352.91" x2="562.32" y2="352.91" stroke="#2a78e0" stroke-width="1.4" />
<line x1="555.92" y1="312.08" x2="562.32" y2="312.08" stroke="#2a78e0" stroke-width="1.4" />
<line x1="594.04" y1="341.74" x2="594.04" y2="316.86" stroke="#2a78e0" stroke-width="1.4" />
<line x1="590.84" y1="341.74" x2="597.24" y2="341.74" stroke="#2a78e0" stroke-width="1.4" />
<line x1="590.84" y1="316.86" x2="597.24" y2="316.86" stroke="#2a78e0" stroke-width="1.4" />
<line x1="634.78" y1="345.25" x2="634.78" y2="308.89" stroke="#2a78e0" stroke-width="1.4" />
<line x1="631.58" y1="345.25" x2="637.98" y2="345.25" stroke="#2a78e0" stroke-width="1.4" />
<line x1="631.58" y1="308.89" x2="637.98" y2="308.89" stroke="#2a78e0" stroke-width="1.4" />
<circle cx="483.46" cy="329.94" r="5.7" fill="url(#gball)"/>
<circle cx="518.38" cy="296.45" r="5.7" fill="url(#gball)"/>
<circle cx="559.12" cy="290.70" r="5.7" fill="url(#gball)"/>
<circle cx="599.86" cy="287.83" r="5.7" fill="url(#gball)"/>
<circle cx="663.88" cy="272.20" r="5.7" fill="url(#gball)"/>
<circle cx="489.28" cy="290.70" r="5.7" fill="url(#bball)"/>
<circle cx="530.02" cy="322.60" r="5.7" fill="url(#bball)"/>
<circle cx="559.12" cy="332.17" r="5.7" fill="url(#bball)"/>
<circle cx="594.04" cy="329.62" r="5.7" fill="url(#bball)"/>
<circle cx="634.78" cy="327.07" r="5.7" fill="url(#bball)"/>
<line x1="33.30" y1="452.80" x2="200.55" y2="452.80" stroke="#888" stroke-width="1.6" />
<line x1="36.30" y1="452.80" x2="36.30" y2="587.70" stroke="#000" stroke-width="1" />
<line x1="33.30" y1="584.70" x2="200.55" y2="584.70" stroke="#000" stroke-width="1" />
<line x1="200.55" y1="452.80" x2="200.55" y2="587.70" stroke="#e8474a" stroke-width="1" />
<line x1="33.30" y1="584.70" x2="36.30" y2="584.70" stroke="#000" stroke-width="1" />
<text x="31.80" y="588.30" font-size="10" text-anchor="end" fill="#000" font-weight="normal" font-style="normal" >0</text>
<line x1="33.30" y1="551.70" x2="36.30" y2="551.70" stroke="#000" stroke-width="1" />
<text x="31.80" y="555.30" font-size="10" text-anchor="end" fill="#000" font-weight="normal" font-style="normal" >200</text>
<line x1="33.30" y1="518.70" x2="36.30" y2="518.70" stroke="#000" stroke-width="1" />
<text x="31.80" y="522.30" font-size="10" text-anchor="end" fill="#000" font-weight="normal" font-style="normal" >400</text>
<line x1="33.30" y1="485.70" x2="36.30" y2="485.70" stroke="#000" stroke-width="1" />
<text x="31.80" y="489.30" font-size="10" text-anchor="end" fill="#000" font-weight="normal" font-style="normal" >600</text>
<line x1="33.30" y1="452.70" x2="36.30" y2="452.70" stroke="#000" stroke-width="1" />
<text x="31.80" y="456.30" font-size="10" text-anchor="end" fill="#000" font-weight="normal" font-style="normal" >800</text>
<line x1="34.30" y1="568.20" x2="36.30" y2="568.20" stroke="#000" stroke-width="1" />
<line x1="34.30" y1="535.20" x2="36.30" y2="535.20" stroke="#000" stroke-width="1" />
<line x1="34.30" y1="502.20" x2="36.30" y2="502.20" stroke="#000" stroke-width="1" />
<line x1="34.30" y1="469.20" x2="36.30" y2="469.20" stroke="#000" stroke-width="1" />
<line x1="200.55" y1="584.70" x2="203.55" y2="584.70" stroke="#e8474a" stroke-width="1" />
<text x="205.05" y="588.30" font-size="10" text-anchor="start" fill="#e8474a" font-weight="normal" font-style="normal" >0.0</text>
<line x1="200.55" y1="543.45" x2="203.55" y2="543.45" stroke="#e8474a" stroke-width="1" />
<text x="205.05" y="547.05" font-size="10" text-anchor="start" fill="#e8474a" font-weight="normal" font-style="normal" >0.5</text>
<line x1="200.55" y1="502.20" x2="203.55" y2="502.20" stroke="#e8474a" stroke-width="1" />
<text x="205.05" y="505.80" font-size="10" text-anchor="start" fill="#e8474a" font-weight="normal" font-style="normal" >1.0</text>
<line x1="200.55" y1="460.95" x2="203.55" y2="460.95" stroke="#e8474a" stroke-width="1" />
<text x="205.05" y="464.55" font-size="10" text-anchor="start" fill="#e8474a" font-weight="normal" font-style="normal" >1.5</text>
<line x1="200.55" y1="564.08" x2="202.55" y2="564.08" stroke="#e8474a" stroke-width="1" />
<line x1="200.55" y1="522.83" x2="202.55" y2="522.83" stroke="#e8474a" stroke-width="1" />
<line x1="200.55" y1="481.58" x2="202.55" y2="481.58" stroke="#e8474a" stroke-width="1" />
<line x1="36.30" y1="584.70" x2="36.30" y2="587.70" stroke="#000" stroke-width="1" />
<line x1="47.25" y1="584.70" x2="47.25" y2="586.70" stroke="#000" stroke-width="1" />
<line x1="58.20" y1="584.70" x2="58.20" y2="587.70" stroke="#000" stroke-width="1" />
<line x1="69.15" y1="584.70" x2="69.15" y2="586.70" stroke="#000" stroke-width="1" />
<line x1="80.10" y1="584.70" x2="80.10" y2="587.70" stroke="#000" stroke-width="1" />
<line x1="91.05" y1="584.70" x2="91.05" y2="586.70" stroke="#000" stroke-width="1" />
<line x1="102.00" y1="584.70" x2="102.00" y2="587.70" stroke="#000" stroke-width="1" />
<line x1="112.95" y1="584.70" x2="112.95" y2="586.70" stroke="#000" stroke-width="1" />
<line x1="123.90" y1="584.70" x2="123.90" y2="587.70" stroke="#000" stroke-width="1" />
<line x1="134.85" y1="584.70" x2="134.85" y2="586.70" stroke="#000" stroke-width="1" />
<line x1="145.80" y1="584.70" x2="145.80" y2="587.70" stroke="#000" stroke-width="1" />
<line x1="156.75" y1="584.70" x2="156.75" y2="586.70" stroke="#000" stroke-width="1" />
<line x1="167.70" y1="584.70" x2="167.70" y2="587.70" stroke="#000" stroke-width="1" />
<line x1="178.65" y1="584.70" x2="178.65" y2="586.70" stroke="#000" stroke-width="1" />
<line x1="189.60" y1="584.70" x2="189.60" y2="587.70" stroke="#000" stroke-width="1" />
<text x="36.30" y="597.30" font-size="10" text-anchor="middle" fill="#000" font-weight="normal" font-style="normal" >30</text>
<text x="58.20" y="597.30" font-size="10" text-anchor="middle" fill="#000" font-weight="normal" font-style="normal" >35</text>
<text x="80.10" y="597.30" font-size="10" text-anchor="middle" fill="#000" font-weight="normal" font-style="normal" >40</text>
<text x="102.00" y="597.30" font-size="10" text-anchor="middle" fill="#000" font-weight="normal" font-style="normal" >45</text>
<text x="123.90" y="597.30" font-size="10" text-anchor="middle" fill="#000" font-weight="normal" font-style="normal" >50</text>
<text x="145.80" y="597.30" font-size="10" text-anchor="middle" fill="#000" font-weight="normal" font-style="normal" >55</text>
<text x="167.70" y="597.30" font-size="10" text-anchor="middle" fill="#000" font-weight="normal" font-style="normal" >60</text>
<text x="189.60" y="597.30" font-size="10" text-anchor="middle" fill="#000" font-weight="normal" font-style="normal" >65</text>
<text x="118.30" y="611.20" font-size="11.5" text-anchor="middle" fill="#000" font-weight="normal" font-style="normal" >Drying-humidity (% RH)</text>
<text transform="translate(10.599999999999998,519.5) rotate(-90)" font-size="11.5" text-anchor="middle">Thickness (µm)</text>
<text transform="translate(232.55,519) rotate(-90)" font-size="11.5" text-anchor="middle" fill="#e8474a">Density (g cm<tspan font-size="8" dy="-4">-3</tspan><tspan dy="4">)</tspan></text>
<text x="47.70" y="471.00" font-size="12" text-anchor="start" fill="#000" font-weight="normal" font-style="normal" >PPC</text>
<text x="0.30" y="446.50" font-size="23" text-anchor="start" fill="#000" font-weight="bold" font-style="normal" >e</text>
<polyline points="49.44,557.48 75.72,539.33 106.38,500.55 137.04,484.88 185.22,491.48" fill="none" stroke="#e8474a" stroke-width="1.2" stroke-dasharray="1.2 2.4" />
<polyline points="49.44,493.95 75.72,531.90 106.38,555.00 137.04,563.25 185.22,564.90" fill="none" stroke="#000" stroke-width="1.2" stroke-dasharray="1.2 2.4" />
<line x1="49.44" y1="559.12" x2="49.44" y2="555.83" stroke="#e8474a" stroke-width="0.9" />
<line x1="45.44" y1="559.12" x2="53.44" y2="559.12" stroke="#e8474a" stroke-width="0.9" />
<line x1="45.44" y1="555.83" x2="53.44" y2="555.83" stroke="#e8474a" stroke-width="0.9" />
<line x1="75.72" y1="543.45" x2="75.72" y2="535.20" stroke="#e8474a" stroke-width="0.9" />
<line x1="71.72" y1="543.45" x2="79.72" y2="543.45" stroke="#e8474a" stroke-width="0.9" />
<line x1="71.72" y1="535.20" x2="79.72" y2="535.20" stroke="#e8474a" stroke-width="0.9" />
<line x1="106.38" y1="510.45" x2="106.38" y2="491.48" stroke="#e8474a" stroke-width="0.9" />
<line x1="102.38" y1="510.45" x2="110.38" y2="510.45" stroke="#e8474a" stroke-width="0.9" />
<line x1="102.38" y1="491.48" x2="110.38" y2="491.48" stroke="#e8474a" stroke-width="0.9" />
<line x1="137.04" y1="507.98" x2="137.04" y2="461.78" stroke="#e8474a" stroke-width="0.9" />
<line x1="133.04" y1="507.98" x2="141.04" y2="507.98" stroke="#e8474a" stroke-width="0.9" />
<line x1="133.04" y1="461.78" x2="141.04" y2="461.78" stroke="#e8474a" stroke-width="0.9" />
<line x1="185.22" y1="499.31" x2="185.22" y2="484.05" stroke="#e8474a" stroke-width="0.9" />
<line x1="181.22" y1="499.31" x2="189.22" y2="499.31" stroke="#e8474a" stroke-width="0.9" />
<line x1="181.22" y1="484.05" x2="189.22" y2="484.05" stroke="#e8474a" stroke-width="0.9" />
<line x1="49.44" y1="500.55" x2="49.44" y2="487.35" stroke="#000" stroke-width="1.0" />
<line x1="45.19" y1="500.55" x2="53.69" y2="500.55" stroke="#000" stroke-width="1.0" />
<line x1="45.19" y1="487.35" x2="53.69" y2="487.35" stroke="#000" stroke-width="1.0" />
<line x1="75.72" y1="535.20" x2="75.72" y2="527.78" stroke="#000" stroke-width="1.0" />
<line x1="71.47" y1="535.20" x2="79.97" y2="535.20" stroke="#000" stroke-width="1.0" />
<line x1="71.47" y1="527.78" x2="79.97" y2="527.78" stroke="#000" stroke-width="1.0" />
<line x1="106.38" y1="561.60" x2="106.38" y2="548.40" stroke="#000" stroke-width="1.0" />
<line x1="102.13" y1="561.60" x2="110.63" y2="561.60" stroke="#000" stroke-width="1.0" />
<line x1="102.13" y1="548.40" x2="110.63" y2="548.40" stroke="#000" stroke-width="1.0" />
<line x1="137.04" y1="571.50" x2="137.04" y2="555.00" stroke="#000" stroke-width="1.0" />
<line x1="132.79" y1="571.50" x2="141.29" y2="571.50" stroke="#000" stroke-width="1.0" />
<line x1="132.79" y1="555.00" x2="141.29" y2="555.00" stroke="#000" stroke-width="1.0" />
<line x1="185.22" y1="567.38" x2="185.22" y2="562.43" stroke="#000" stroke-width="1.0" />
<line x1="180.97" y1="567.38" x2="189.47" y2="567.38" stroke="#000" stroke-width="1.0" />
<line x1="180.97" y1="562.43" x2="189.47" y2="562.43" stroke="#000" stroke-width="1.0" />
<rect x="46.04" y="554.08" width="6.8" height="6.8" fill="#fff" stroke="#e8474a" stroke-width="1.3"/>
<rect x="72.32" y="535.93" width="6.8" height="6.8" fill="#fff" stroke="#e8474a" stroke-width="1.3"/>
<rect x="102.98" y="497.15" width="6.8" height="6.8" fill="#fff" stroke="#e8474a" stroke-width="1.3"/>
<rect x="133.64" y="481.48" width="6.8" height="6.8" fill="#fff" stroke="#e8474a" stroke-width="1.3"/>
<rect x="181.82" y="488.08" width="6.8" height="6.8" fill="#fff" stroke="#e8474a" stroke-width="1.3"/>
<circle cx="49.44" cy="493.95" r="3.95" fill="none" stroke="#000" stroke-width="1.4"/>
<circle cx="75.72" cy="531.90" r="3.95" fill="none" stroke="#000" stroke-width="1.4"/>
<circle cx="106.38" cy="555.00" r="3.95" fill="none" stroke="#000" stroke-width="1.4"/>
<circle cx="137.04" cy="563.25" r="3.95" fill="none" stroke="#000" stroke-width="1.4"/>
<circle cx="185.22" cy="564.90" r="3.95" fill="none" stroke="#000" stroke-width="1.4"/>
<line x1="272.80" y1="452.80" x2="440.05" y2="452.80" stroke="#888" stroke-width="1.6" />
<line x1="275.80" y1="452.80" x2="275.80" y2="587.70" stroke="#000" stroke-width="1" />
<line x1="272.80" y1="584.70" x2="440.05" y2="584.70" stroke="#000" stroke-width="1" />
<line x1="440.05" y1="452.80" x2="440.05" y2="587.70" stroke="#e8474a" stroke-width="1" />
<line x1="272.80" y1="584.70" x2="275.80" y2="584.70" stroke="#000" stroke-width="1" />
<text x="271.30" y="588.30" font-size="10" text-anchor="end" fill="#000" font-weight="normal" font-style="normal" >0</text>
<line x1="272.80" y1="551.70" x2="275.80" y2="551.70" stroke="#000" stroke-width="1" />
<text x="271.30" y="555.30" font-size="10" text-anchor="end" fill="#000" font-weight="normal" font-style="normal" >200</text>
<line x1="272.80" y1="518.70" x2="275.80" y2="518.70" stroke="#000" stroke-width="1" />
<text x="271.30" y="522.30" font-size="10" text-anchor="end" fill="#000" font-weight="normal" font-style="normal" >400</text>
<line x1="272.80" y1="485.70" x2="275.80" y2="485.70" stroke="#000" stroke-width="1" />
<text x="271.30" y="489.30" font-size="10" text-anchor="end" fill="#000" font-weight="normal" font-style="normal" >600</text>
<line x1="272.80" y1="452.70" x2="275.80" y2="452.70" stroke="#000" stroke-width="1" />
<text x="271.30" y="456.30" font-size="10" text-anchor="end" fill="#000" font-weight="normal" font-style="normal" >800</text>
<line x1="273.80" y1="568.20" x2="275.80" y2="568.20" stroke="#000" stroke-width="1" />
<line x1="273.80" y1="535.20" x2="275.80" y2="535.20" stroke="#000" stroke-width="1" />
<line x1="273.80" y1="502.20" x2="275.80" y2="502.20" stroke="#000" stroke-width="1" />
<line x1="273.80" y1="469.20" x2="275.80" y2="469.20" stroke="#000" stroke-width="1" />
<line x1="440.05" y1="584.70" x2="443.05" y2="584.70" stroke="#e8474a" stroke-width="1" />
<text x="444.55" y="588.30" font-size="10" text-anchor="start" fill="#e8474a" font-weight="normal" font-style="normal" >0.0</text>
<line x1="440.05" y1="543.45" x2="443.05" y2="543.45" stroke="#e8474a" stroke-width="1" />
<text x="444.55" y="547.05" font-size="10" text-anchor="start" fill="#e8474a" font-weight="normal" font-style="normal" >0.5</text>
<line x1="440.05" y1="502.20" x2="443.05" y2="502.20" stroke="#e8474a" stroke-width="1" />
<text x="444.55" y="505.80" font-size="10" text-anchor="start" fill="#e8474a" font-weight="normal" font-style="normal" >1.0</text>
<line x1="440.05" y1="460.95" x2="443.05" y2="460.95" stroke="#e8474a" stroke-width="1" />
<text x="444.55" y="464.55" font-size="10" text-anchor="start" fill="#e8474a" font-weight="normal" font-style="normal" >1.5</text>
<line x1="440.05" y1="564.08" x2="442.05" y2="564.08" stroke="#e8474a" stroke-width="1" />
<line x1="440.05" y1="522.83" x2="442.05" y2="522.83" stroke="#e8474a" stroke-width="1" />
<line x1="440.05" y1="481.58" x2="442.05" y2="481.58" stroke="#e8474a" stroke-width="1" />
<line x1="275.80" y1="584.70" x2="275.80" y2="587.70" stroke="#000" stroke-width="1" />
<line x1="286.75" y1="584.70" x2="286.75" y2="586.70" stroke="#000" stroke-width="1" />
<line x1="297.70" y1="584.70" x2="297.70" y2="587.70" stroke="#000" stroke-width="1" />
<line x1="308.65" y1="584.70" x2="308.65" y2="586.70" stroke="#000" stroke-width="1" />
<line x1="319.60" y1="584.70" x2="319.60" y2="587.70" stroke="#000" stroke-width="1" />
<line x1="330.55" y1="584.70" x2="330.55" y2="586.70" stroke="#000" stroke-width="1" />
<line x1="341.50" y1="584.70" x2="341.50" y2="587.70" stroke="#000" stroke-width="1" />
<line x1="352.45" y1="584.70" x2="352.45" y2="586.70" stroke="#000" stroke-width="1" />
<line x1="363.40" y1="584.70" x2="363.40" y2="587.70" stroke="#000" stroke-width="1" />
<line x1="374.35" y1="584.70" x2="374.35" y2="586.70" stroke="#000" stroke-width="1" />
<line x1="385.30" y1="584.70" x2="385.30" y2="587.70" stroke="#000" stroke-width="1" />
<line x1="396.25" y1="584.70" x2="396.25" y2="586.70" stroke="#000" stroke-width="1" />
<line x1="407.20" y1="584.70" x2="407.20" y2="587.70" stroke="#000" stroke-width="1" />
<line x1="418.15" y1="584.70" x2="418.15" y2="586.70" stroke="#000" stroke-width="1" />
<line x1="429.10" y1="584.70" x2="429.10" y2="587.70" stroke="#000" stroke-width="1" />
<text x="275.80" y="597.30" font-size="10" text-anchor="middle" fill="#000" font-weight="normal" font-style="normal" >30</text>
<text x="297.70" y="597.30" font-size="10" text-anchor="middle" fill="#000" font-weight="normal" font-style="normal" >35</text>
<text x="319.60" y="597.30" font-size="10" text-anchor="middle" fill="#000" font-weight="normal" font-style="normal" >40</text>
<text x="341.50" y="597.30" font-size="10" text-anchor="middle" fill="#000" font-weight="normal" font-style="normal" >45</text>
<text x="363.40" y="597.30" font-size="10" text-anchor="middle" fill="#000" font-weight="normal" font-style="normal" >50</text>
<text x="385.30" y="597.30" font-size="10" text-anchor="middle" fill="#000" font-weight="normal" font-style="normal" >55</text>
<text x="407.20" y="597.30" font-size="10" text-anchor="middle" fill="#000" font-weight="normal" font-style="normal" >60</text>
<text x="429.10" y="597.30" font-size="10" text-anchor="middle" fill="#000" font-weight="normal" font-style="normal" >65</text>
<text x="357.80" y="611.20" font-size="11.5" text-anchor="middle" fill="#000" font-weight="normal" font-style="normal" >Drying-humidity (% RH)</text>
<text transform="translate(250.10000000000002,519.5) rotate(-90)" font-size="11.5" text-anchor="middle">Thickness (µm)</text>
<text transform="translate(472.05,519) rotate(-90)" font-size="11.5" text-anchor="middle" fill="#e8474a">Density (g cm<tspan font-size="8" dy="-4">-3</tspan><tspan dy="4">)</tspan></text>
<text x="287.20" y="471.00" font-size="12" text-anchor="start" fill="#000" font-weight="normal" font-style="normal" >FSPPC</text>
<text x="242.20" y="445.90" font-size="23" text-anchor="start" fill="#000" font-weight="bold" font-style="normal" >f</text>
<polyline points="293.32,528.60 323.98,525.71 345.88,531.08 372.16,545.10 402.82,532.31" fill="none" stroke="#e8474a" stroke-width="1.2" stroke-dasharray="1.2 2.4" />
<polyline points="293.32,528.93 323.98,547.25 345.88,535.86 372.16,514.25 402.82,532.23" fill="none" stroke="#000" stroke-width="1.2" stroke-dasharray="1.2 2.4" />
<line x1="293.32" y1="533.55" x2="293.32" y2="522.00" stroke="#e8474a" stroke-width="0.9" />
<line x1="289.32" y1="533.55" x2="297.32" y2="533.55" stroke="#e8474a" stroke-width="0.9" />
<line x1="289.32" y1="522.00" x2="297.32" y2="522.00" stroke="#e8474a" stroke-width="0.9" />
<line x1="323.98" y1="533.55" x2="323.98" y2="518.70" stroke="#e8474a" stroke-width="0.9" />
<line x1="319.98" y1="533.55" x2="327.98" y2="533.55" stroke="#e8474a" stroke-width="0.9" />
<line x1="319.98" y1="518.70" x2="327.98" y2="518.70" stroke="#e8474a" stroke-width="0.9" />
<line x1="345.88" y1="536.85" x2="345.88" y2="525.30" stroke="#e8474a" stroke-width="0.9" />
<line x1="341.88" y1="536.85" x2="349.88" y2="536.85" stroke="#e8474a" stroke-width="0.9" />
<line x1="341.88" y1="525.30" x2="349.88" y2="525.30" stroke="#e8474a" stroke-width="0.9" />
<line x1="372.16" y1="546.75" x2="372.16" y2="543.45" stroke="#e8474a" stroke-width="0.9" />
<line x1="368.16" y1="546.75" x2="376.16" y2="546.75" stroke="#e8474a" stroke-width="0.9" />
<line x1="368.16" y1="543.45" x2="376.16" y2="543.45" stroke="#e8474a" stroke-width="0.9" />
<line x1="402.82" y1="533.55" x2="402.82" y2="531.08" stroke="#e8474a" stroke-width="0.9" />
<line x1="398.82" y1="533.55" x2="406.82" y2="533.55" stroke="#e8474a" stroke-width="0.9" />
<line x1="398.82" y1="531.08" x2="406.82" y2="531.08" stroke="#e8474a" stroke-width="0.9" />
<line x1="293.32" y1="535.20" x2="293.32" y2="522.00" stroke="#000" stroke-width="1.0" />
<line x1="289.07" y1="535.20" x2="297.57" y2="535.20" stroke="#000" stroke-width="1.0" />
<line x1="289.07" y1="522.00" x2="297.57" y2="522.00" stroke="#000" stroke-width="1.0" />
<line x1="323.98" y1="551.70" x2="323.98" y2="542.62" stroke="#000" stroke-width="1.0" />
<line x1="319.73" y1="551.70" x2="328.23" y2="551.70" stroke="#000" stroke-width="1.0" />
<line x1="319.73" y1="542.62" x2="328.23" y2="542.62" stroke="#000" stroke-width="1.0" />
<line x1="345.88" y1="540.98" x2="345.88" y2="530.25" stroke="#000" stroke-width="1.0" />
<line x1="341.63" y1="540.98" x2="350.13" y2="540.98" stroke="#000" stroke-width="1.0" />
<line x1="341.63" y1="530.25" x2="350.13" y2="530.25" stroke="#000" stroke-width="1.0" />
<line x1="372.16" y1="522.00" x2="372.16" y2="505.50" stroke="#000" stroke-width="1.0" />
<line x1="367.91" y1="522.00" x2="376.41" y2="522.00" stroke="#000" stroke-width="1.0" />
<line x1="367.91" y1="505.50" x2="376.41" y2="505.50" stroke="#000" stroke-width="1.0" />
<line x1="402.82" y1="534.38" x2="402.82" y2="530.25" stroke="#000" stroke-width="1.0" />
<line x1="398.57" y1="534.38" x2="407.07" y2="534.38" stroke="#000" stroke-width="1.0" />
<line x1="398.57" y1="530.25" x2="407.07" y2="530.25" stroke="#000" stroke-width="1.0" />
<rect x="289.92" y="525.20" width="6.8" height="6.8" fill="#fff" stroke="#e8474a" stroke-width="1.3"/>
<rect x="320.58" y="522.31" width="6.8" height="6.8" fill="#fff" stroke="#e8474a" stroke-width="1.3"/>
<rect x="342.48" y="527.68" width="6.8" height="6.8" fill="#fff" stroke="#e8474a" stroke-width="1.3"/>
<rect x="368.76" y="541.70" width="6.8" height="6.8" fill="#fff" stroke="#e8474a" stroke-width="1.3"/>
<rect x="399.42" y="528.91" width="6.8" height="6.8" fill="#fff" stroke="#e8474a" stroke-width="1.3"/>
<circle cx="293.32" cy="528.93" r="3.95" fill="none" stroke="#000" stroke-width="1.4"/>
<circle cx="323.98" cy="547.25" r="3.95" fill="none" stroke="#000" stroke-width="1.4"/>
<circle cx="345.88" cy="535.86" r="3.95" fill="none" stroke="#000" stroke-width="1.4"/>
<circle cx="372.16" cy="514.25" r="3.95" fill="none" stroke="#000" stroke-width="1.4"/>
<circle cx="402.82" cy="532.23" r="3.95" fill="none" stroke="#000" stroke-width="1.4"/>
<line x1="516.00" y1="453.00" x2="683.44" y2="453.00" stroke="#000" stroke-width="1" />
<line x1="519.00" y1="453.00" x2="519.00" y2="588.20" stroke="#000" stroke-width="1" />
<line x1="516.00" y1="585.20" x2="683.44" y2="585.20" stroke="#000" stroke-width="1" />
<line x1="683.44" y1="453.00" x2="683.44" y2="585.20" stroke="#000" stroke-width="1" />
<line x1="516.00" y1="585.20" x2="519.00" y2="585.20" stroke="#000" stroke-width="1" />
<line x1="680.44" y1="585.20" x2="683.44" y2="585.20" stroke="#000" stroke-width="1" />
<text x="515.00" y="588.80" font-size="10" text-anchor="end" fill="#000" font-weight="normal" font-style="normal" >0.85</text>
<line x1="516.00" y1="541.13" x2="519.00" y2="541.13" stroke="#000" stroke-width="1" />
<line x1="680.44" y1="541.13" x2="683.44" y2="541.13" stroke="#000" stroke-width="1" />
<text x="515.00" y="544.74" font-size="10" text-anchor="end" fill="#000" font-weight="normal" font-style="normal" >0.90</text>
<line x1="516.00" y1="497.07" x2="519.00" y2="497.07" stroke="#000" stroke-width="1" />
<line x1="680.44" y1="497.07" x2="683.44" y2="497.07" stroke="#000" stroke-width="1" />
<text x="515.00" y="500.67" font-size="10" text-anchor="end" fill="#000" font-weight="normal" font-style="normal" >0.95</text>
<line x1="516.00" y1="453.00" x2="519.00" y2="453.00" stroke="#000" stroke-width="1" />
<line x1="680.44" y1="453.00" x2="683.44" y2="453.00" stroke="#000" stroke-width="1" />
<text x="515.00" y="456.61" font-size="10" text-anchor="end" fill="#000" font-weight="normal" font-style="normal" >1.00</text>
<line x1="517.00" y1="563.17" x2="519.00" y2="563.17" stroke="#000" stroke-width="1" />
<line x1="681.44" y1="563.17" x2="683.44" y2="563.17" stroke="#000" stroke-width="1" />
<line x1="517.00" y1="519.10" x2="519.00" y2="519.10" stroke="#000" stroke-width="1" />
<line x1="681.44" y1="519.10" x2="683.44" y2="519.10" stroke="#000" stroke-width="1" />
<line x1="517.00" y1="475.04" x2="519.00" y2="475.04" stroke="#000" stroke-width="1" />
<line x1="681.44" y1="475.04" x2="683.44" y2="475.04" stroke="#000" stroke-width="1" />
<line x1="519.00" y1="585.20" x2="519.00" y2="588.20" stroke="#000" stroke-width="1" />
<line x1="529.96" y1="585.20" x2="529.96" y2="587.20" stroke="#000" stroke-width="1" />
<line x1="529.96" y1="453.00" x2="529.96" y2="455.00" stroke="#000" stroke-width="0.8" />
<line x1="540.92" y1="585.20" x2="540.92" y2="588.20" stroke="#000" stroke-width="1" />
<line x1="540.92" y1="453.00" x2="540.92" y2="456.00" stroke="#000" stroke-width="0.8" />
<line x1="551.89" y1="585.20" x2="551.89" y2="587.20" stroke="#000" stroke-width="1" />
<line x1="551.89" y1="453.00" x2="551.89" y2="455.00" stroke="#000" stroke-width="0.8" />
<line x1="562.85" y1="585.20" x2="562.85" y2="588.20" stroke="#000" stroke-width="1" />
<line x1="562.85" y1="453.00" x2="562.85" y2="456.00" stroke="#000" stroke-width="0.8" />
<line x1="573.81" y1="585.20" x2="573.81" y2="587.20" stroke="#000" stroke-width="1" />
<line x1="573.81" y1="453.00" x2="573.81" y2="455.00" stroke="#000" stroke-width="0.8" />
<line x1="584.77" y1="585.20" x2="584.77" y2="588.20" stroke="#000" stroke-width="1" />
<line x1="584.77" y1="453.00" x2="584.77" y2="456.00" stroke="#000" stroke-width="0.8" />
<line x1="595.74" y1="585.20" x2="595.74" y2="587.20" stroke="#000" stroke-width="1" />
<line x1="595.74" y1="453.00" x2="595.74" y2="455.00" stroke="#000" stroke-width="0.8" />
<line x1="606.70" y1="585.20" x2="606.70" y2="588.20" stroke="#000" stroke-width="1" />
<line x1="606.70" y1="453.00" x2="606.70" y2="456.00" stroke="#000" stroke-width="0.8" />
<line x1="617.66" y1="585.20" x2="617.66" y2="587.20" stroke="#000" stroke-width="1" />
<line x1="617.66" y1="453.00" x2="617.66" y2="455.00" stroke="#000" stroke-width="0.8" />
<line x1="628.62" y1="585.20" x2="628.62" y2="588.20" stroke="#000" stroke-width="1" />
<line x1="628.62" y1="453.00" x2="628.62" y2="456.00" stroke="#000" stroke-width="0.8" />
<line x1="639.59" y1="585.20" x2="639.59" y2="587.20" stroke="#000" stroke-width="1" />
<line x1="639.59" y1="453.00" x2="639.59" y2="455.00" stroke="#000" stroke-width="0.8" />
<line x1="650.55" y1="585.20" x2="650.55" y2="588.20" stroke="#000" stroke-width="1" />
<line x1="650.55" y1="453.00" x2="650.55" y2="456.00" stroke="#000" stroke-width="0.8" />
<line x1="661.51" y1="585.20" x2="661.51" y2="587.20" stroke="#000" stroke-width="1" />
<line x1="661.51" y1="453.00" x2="661.51" y2="455.00" stroke="#000" stroke-width="0.8" />
<line x1="672.48" y1="585.20" x2="672.48" y2="588.20" stroke="#000" stroke-width="1" />
<line x1="672.48" y1="453.00" x2="672.48" y2="456.00" stroke="#000" stroke-width="0.8" />
<text x="519.00" y="597.30" font-size="10" text-anchor="middle" fill="#000" font-weight="normal" font-style="normal" >30</text>
<text x="540.92" y="597.30" font-size="10" text-anchor="middle" fill="#000" font-weight="normal" font-style="normal" >35</text>
<text x="562.85" y="597.30" font-size="10" text-anchor="middle" fill="#000" font-weight="normal" font-style="normal" >40</text>
<text x="584.77" y="597.30" font-size="10" text-anchor="middle" fill="#000" font-weight="normal" font-style="normal" >45</text>
<text x="606.70" y="597.30" font-size="10" text-anchor="middle" fill="#000" font-weight="normal" font-style="normal" >50</text>
<text x="628.62" y="597.30" font-size="10" text-anchor="middle" fill="#000" font-weight="normal" font-style="normal" >55</text>
<text x="650.55" y="597.30" font-size="10" text-anchor="middle" fill="#000" font-weight="normal" font-style="normal" >60</text>
<text x="672.48" y="597.30" font-size="10" text-anchor="middle" fill="#000" font-weight="normal" font-style="normal" >65</text>
<text x="601.00" y="611.20" font-size="11.5" text-anchor="middle" fill="#000" font-weight="normal" font-style="normal" >Drying-humidity (% RH)</text>
<text transform="translate(488.9,519.5) rotate(-90)" font-size="13" text-anchor="middle"><tspan font-style="italic">ε</tspan><tspan font-size="9.5" dy="4.2">8-13</tspan></text>
<text x="478.20" y="445.80" font-size="23" text-anchor="start" fill="#000" font-weight="bold" font-style="normal" >g</text>
<polyline points="532.15,507.65 558.47,505.88 589.16,487.38 619.86,475.92 668.09,483.85" fill="none" stroke="#000" stroke-width="0.9"  />
<polyline points="536.54,514.70 567.24,512.93 589.16,505.00 615.47,505.00 646.16,509.41" fill="none" stroke="#3b86e0" stroke-width="0.9"  />
<rect x="527.86" y="503.35" width="8.6" height="8.6" fill="#fff" stroke="#000" stroke-width="1.2"/>
<rect x="554.17" y="501.58" width="8.6" height="8.6" fill="#fff" stroke="#000" stroke-width="1.2"/>
<rect x="584.86" y="483.08" width="8.6" height="8.6" fill="#fff" stroke="#000" stroke-width="1.2"/>
<rect x="615.56" y="471.62" width="8.6" height="8.6" fill="#fff" stroke="#000" stroke-width="1.2"/>
<rect x="663.79" y="479.55" width="8.6" height="8.6" fill="#fff" stroke="#000" stroke-width="1.2"/>
<circle cx="536.54" cy="514.70" r="4.4" fill="#fff" stroke="#3b86e0" stroke-width="1.3"/>
<circle cx="567.24" cy="512.93" r="4.4" fill="#fff" stroke="#3b86e0" stroke-width="1.3"/>
<circle cx="589.16" cy="505.00" r="4.4" fill="#fff" stroke="#3b86e0" stroke-width="1.3"/>
<circle cx="615.47" cy="505.00" r="4.4" fill="#fff" stroke="#3b86e0" stroke-width="1.3"/>
<circle cx="646.16" cy="509.41" r="4.4" fill="#fff" stroke="#3b86e0" stroke-width="1.3"/>
<line x1="525.00" y1="560.00" x2="550.00" y2="560.00" stroke="#000" stroke-width="0.9" />
<rect x="532.7" y="555.7" width="8.6" height="8.6" fill="#fff" stroke="#000" stroke-width="1.2"/>
<text x="553.50" y="564.30" font-size="11.3" text-anchor="start" fill="#000" font-weight="normal" font-style="normal" >PPC</text>
<line x1="525.00" y1="574.60" x2="550.00" y2="574.60" stroke="#3b86e0" stroke-width="0.9" />
<circle cx="537" cy="574.6" r="4.4" fill="#fff" stroke="#3b86e0" stroke-width="1.3"/>
<text x="553.50" y="578.90" font-size="11.3" text-anchor="start" fill="#000" font-weight="normal" font-style="normal" >FSPPC</text>
</svg>
</body></html>
